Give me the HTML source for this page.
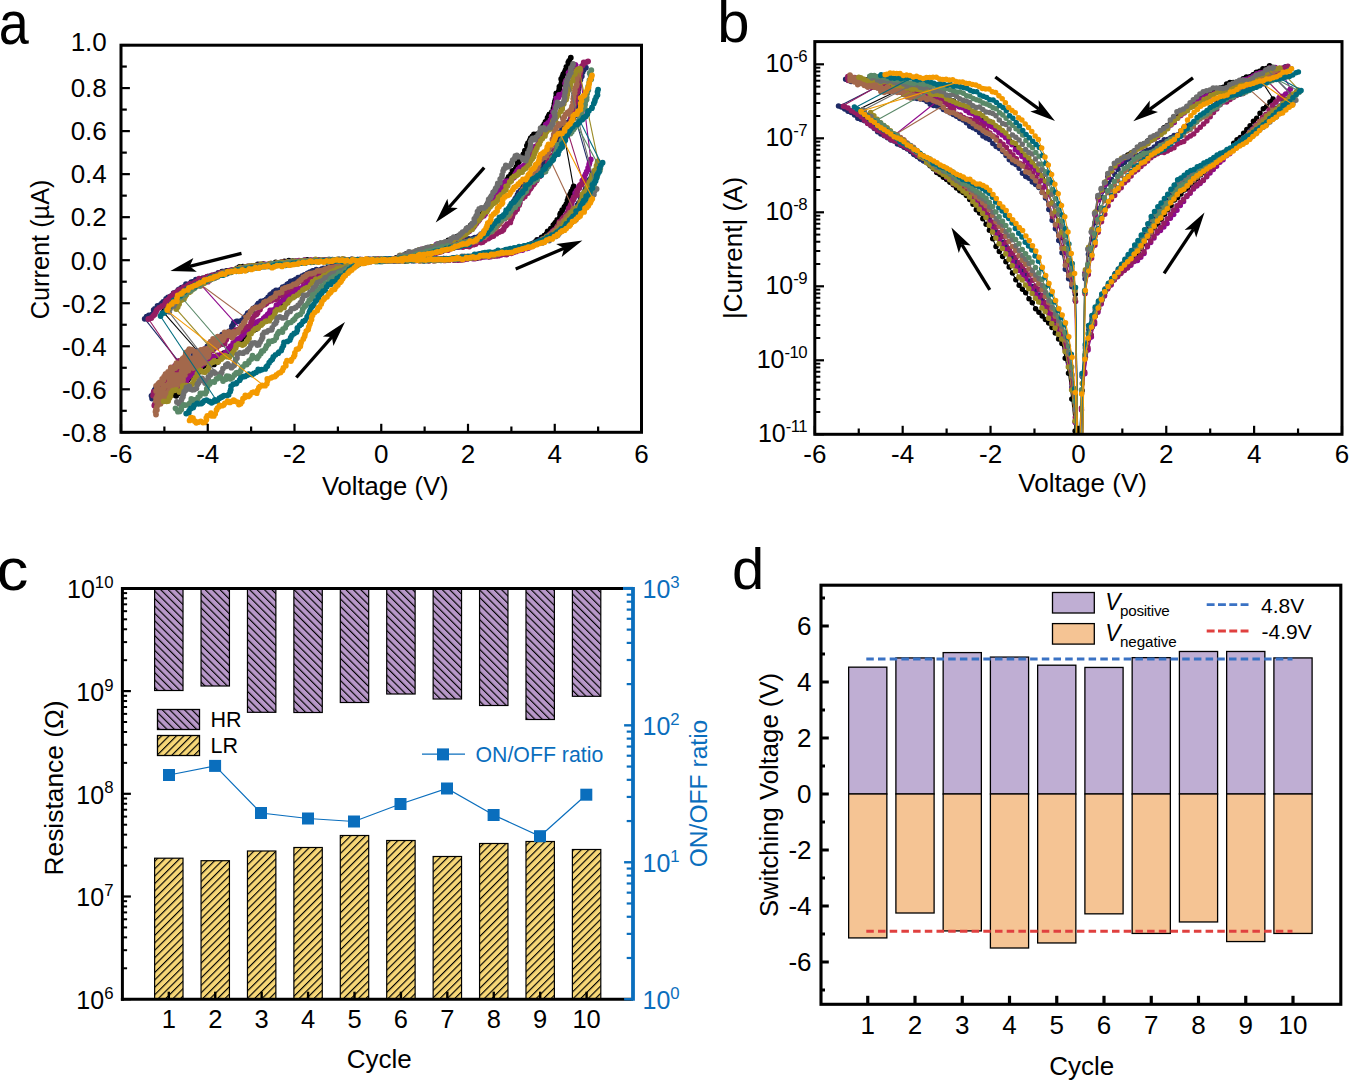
<!DOCTYPE html>
<html><head><meta charset="utf-8"><style>
html,body{margin:0;padding:0;background:#fff;width:1350px;height:1080px;overflow:hidden}
svg{display:block}
text{font-family:"Liberation Sans", sans-serif}
</style></head><body>
<svg width="1350" height="1080" viewBox="0 0 1350 1080">
<rect width="1350" height="1080" fill="#fff"/>
<text x="0" y="0" font-size="58" transform="translate(-1.2 43.6) scale(0.93 1.06)">a</text>
<text x="717.30" y="41.50" font-size="58" text-anchor="start" fill="#000" >b</text>
<text x="0" y="0" font-size="58" transform="translate(-3.5 590) scale(1.1 1.03)">c</text>
<text x="732.00" y="589.00" font-size="58" text-anchor="start" fill="#000" >d</text>
<clipPath id="clipa"><rect x="121.0" y="45.2" width="520.5" height="387.1"/></clipPath>
<g clip-path="url(#clipa)">
<g stroke="#000000" fill="none" stroke-width="1.1"><polyline points="380.4,261.3 383.9,260.2 386.4,260.5 388.1,260.2 390.8,259.7 395.5,260.1 396.9,260.3 399.2,260.7 402.0,260.3 405.5,261.1 408.5,260.0 409.9,260.2 412.3,260.1 415.4,259.1 418.0,259.9 421.2,259.7 423.7,260.7 426.7,260.3 428.0,259.4 430.9,259.9 432.9,259.6 436.8,259.5 439.5,259.4 441.4,259.8 443.4,259.2 447.0,259.3 449.5,259.4 453.3,259.1 454.7,259.4 457.4,258.9 460.5,258.4 461.9,259.5 464.9,257.4 465.8,258.5 469.5,257.6 472.1,256.8 476.5,258.2 477.8,257.4 480.8,256.6 484.0,256.4 485.9,255.8 488.8,256.5 491.1,255.2 493.9,255.3 496.2,254.3 498.8,254.2 501.4,253.1 503.4,253.4 507.9,252.7 509.2,251.5 511.4,250.6 513.8,250.0 516.5,249.6 518.6,248.5 520.4,249.1 523.5,247.1 526.7,245.8 528.6,245.5 531.8,244.4 533.1,243.3 535.7,241.6 537.1,239.9 540.5,239.3 541.6,237.4 544.3,235.7 546.5,234.0 547.6,231.3 549.6,230.6 550.8,228.7 553.3,225.1 554.7,223.7 555.7,222.5 557.2,219.9 559.8,217.7 560.1,214.4 560.5,213.5 562.2,210.2 564.4,207.1 565.2,206.1 566.3,204.2 567.5,200.4 568.3,197.9 569.0,195.9 570.5,193.7 571.4,191.3 572.9,188.7 573.7,186.5"/><polyline points="570.8,57.7 569.1,61.0 568.3,62.4 568.8,64.2 566.4,66.8 565.5,70.1 564.5,72.3 563.3,74.1 562.5,76.5 561.2,78.9 561.7,82.0 561.2,83.9 559.4,86.7 559.3,88.9 558.8,91.2 556.3,93.4 556.1,96.7 555.6,99.1 554.9,101.3 554.4,103.8 554.1,106.3 553.4,108.6 551.9,111.9 549.4,114.3 548.8,115.6 547.6,117.7 546.9,120.7 545.5,122.0 544.2,124.4 542.9,126.3 541.9,128.8 540.5,131.7 539.4,134.0 537.3,134.1 533.9,134.5 532.5,136.1 530.7,138.2 529.8,140.5 528.0,143.1 526.9,145.7 527.4,148.0 524.9,150.7 524.6,152.7 523.3,154.5 521.9,156.9 520.8,159.0 519.0,161.6 517.6,162.9 516.4,166.8 515.8,168.4 513.9,170.8 512.5,171.0 511.0,174.2 508.7,176.9 507.9,178.6 506.7,180.5 505.6,182.6 503.3,184.7 502.1,187.3 500.2,188.0 498.4,191.0 497.5,192.6 495.6,194.2 494.2,197.1 491.4,199.0 490.9,200.6 489.2,203.0 487.2,204.4 487.2,207.6 485.0,210.1 483.8,211.5 481.7,214.1 480.4,217.0 478.4,217.3 476.9,219.4 475.2,221.5 473.6,223.3 470.9,225.2 469.6,227.9 467.6,228.2 465.9,231.3 464.5,232.1 462.6,234.7 460.7,236.0 457.1,236.7 455.9,239.1 452.9,239.4 450.9,240.1 448.3,240.3 446.4,242.5 443.8,243.2 440.3,243.3 438.3,245.0 436.6,245.8 433.8,246.7 430.5,247.5 429.1,248.8 426.9,248.3 424.3,249.2 421.0,250.5 418.6,251.4 416.2,251.4 413.9,253.0 410.9,252.6 409.7,254.5 405.8,254.2 403.3,256.4 401.9,257.0 399.3,257.7 396.3,257.8 393.8,260.3 391.6,259.9 389.2,259.5 387.0,259.3 384.5,260.7 380.5,260.6"/><polyline points="381.6,260.4 379.1,260.2 376.4,260.2 373.7,259.9 370.5,260.5 367.5,260.6 366.0,260.1 363.0,260.7 360.3,260.2 357.6,259.8 354.8,260.2 351.5,259.5 349.3,260.4 346.3,260.2 345.2,260.2 342.6,261.0 339.4,259.6 335.3,261.3 333.7,260.4 332.1,260.5 328.9,260.7 325.9,261.3 322.8,260.8 321.7,260.6 319.2,260.3 315.4,260.3 313.5,260.3 311.0,260.8 307.2,259.8 305.8,261.3 302.0,261.2 299.2,261.5 298.0,261.9 295.2,261.4 292.7,261.1 288.8,260.7 286.5,262.1 284.4,261.3 281.8,262.7 279.4,263.1 275.7,262.4 273.3,264.4 270.2,263.8 268.4,264.6 265.9,265.0 263.2,264.2 259.9,264.6 257.8,264.4 255.5,265.9 252.9,266.0 250.2,266.9 247.6,266.7 245.4,267.3 242.8,266.6 239.6,266.8 237.0,268.3 234.4,269.8 233.3,270.7 228.7,270.8 227.0,270.9 224.1,272.4 222.1,271.7 218.6,273.6 217.7,274.6 214.3,275.4 212.5,276.2 209.8,276.8 207.6,276.6 204.9,278.1 202.4,278.5 200.3,279.8 196.8,281.3 195.8,283.6 193.2,284.8 190.8,285.1 188.4,287.6 186.4,287.2 184.2,289.0 181.8,291.4 181.5,292.8 179.6,295.1 176.7,295.5 175.4,299.1 173.4,301.0 172.2,302.5 168.9,305.4 168.7,305.5 166.1,308.6 164.2,310.8 163.3,312.7"/><polyline points="169.2,392.5 170.9,394.6 173.9,394.8 176.2,395.8 178.3,393.6 179.4,392.4 179.9,389.7 182.2,387.6 182.1,385.3 183.9,383.3 183.9,379.8 187.7,379.7 189.3,378.1 191.0,376.2 192.9,374.4 194.4,373.4 197.0,372.8 198.6,372.0 200.6,368.6 201.9,367.4 203.8,365.7 205.2,364.1 206.7,362.4 209.3,361.3 211.0,362.2 213.9,364.4 216.0,362.4 217.4,362.0 218.5,358.4 220.1,356.7 222.5,355.5 223.9,353.1 226.8,352.8 228.1,351.0 231.5,349.2 232.2,347.2 235.3,346.5 236.4,344.9 238.9,343.1 240.3,341.7 241.5,339.6 244.2,336.6 245.1,335.5 246.6,333.2 249.5,332.3 251.1,331.2 253.8,330.1 255.9,329.0 257.8,327.4 259.5,324.2 260.6,322.6 262.2,320.5 263.8,318.8 266.3,317.6 267.2,315.8 270.6,314.8 271.8,312.4 275.0,311.6 276.2,309.2 278.1,306.9 280.3,305.9 281.3,303.5 283.2,301.1 283.6,299.2 286.5,297.6 289.7,298.3 292.5,296.7 294.9,295.8 296.2,293.7 297.7,291.9 300.3,290.1 301.4,288.6 303.4,287.3 306.7,286.3 307.4,284.1 311.1,282.3 311.8,281.1 314.7,279.6 316.9,278.0 318.1,277.2 322.1,275.6 323.3,273.6 325.8,273.0 328.5,272.1 331.0,271.1 333.4,271.3 334.6,270.2 338.9,268.4 340.3,267.3 342.5,267.4 345.8,266.3 348.0,266.0 350.7,264.5 353.1,263.6 356.7,262.9 357.6,262.5 360.0,261.1 363.2,261.7 365.7,261.5 368.8,260.0 370.6,261.4 373.7,260.9 375.4,261.1 379.1,260.4 380.7,260.3"/><line x1="573.4" y1="186.3" x2="556.9" y2="95.3"/><line x1="163.5" y1="312.4" x2="207.8" y2="362.5"/></g>
<path d="M380.4 261.3h0M383.9 260.2h0M386.4 260.5h0M388.1 260.2h0M390.8 259.7h0M395.5 260.1h0M396.9 260.3h0M399.2 260.7h0M402.0 260.3h0M405.5 261.1h0M408.5 260.0h0M409.9 260.2h0M412.3 260.1h0M415.4 259.1h0M418.0 259.9h0M421.2 259.7h0M423.7 260.7h0M426.7 260.3h0M428.0 259.4h0M430.9 259.9h0M432.9 259.6h0M436.8 259.5h0M439.5 259.4h0M441.4 259.8h0M443.4 259.2h0M447.0 259.3h0M449.5 259.4h0M453.3 259.1h0M454.7 259.4h0M457.4 258.9h0M460.5 258.4h0M461.9 259.5h0M464.9 257.4h0M465.8 258.5h0M469.5 257.6h0M472.1 256.8h0M476.5 258.2h0M477.8 257.4h0M480.8 256.6h0M484.0 256.4h0M485.9 255.8h0M488.8 256.5h0M491.1 255.2h0M493.9 255.3h0M496.2 254.3h0M498.8 254.2h0M501.4 253.1h0M503.4 253.4h0M507.9 252.7h0M509.2 251.5h0M511.4 250.6h0M513.8 250.0h0M516.5 249.6h0M518.6 248.5h0M520.4 249.1h0M523.5 247.1h0M526.7 245.8h0M528.6 245.5h0M531.8 244.4h0M533.1 243.3h0M535.7 241.6h0M537.1 239.9h0M540.5 239.3h0M541.6 237.4h0M544.3 235.7h0M546.5 234.0h0M547.6 231.3h0M549.6 230.6h0M550.8 228.7h0M553.3 225.1h0M554.7 223.7h0M555.7 222.5h0M557.2 219.9h0M559.8 217.7h0M560.1 214.4h0M560.5 213.5h0M562.2 210.2h0M564.4 207.1h0M565.2 206.1h0M566.3 204.2h0M567.5 200.4h0M568.3 197.9h0M569.0 195.9h0M570.5 193.7h0M571.4 191.3h0M572.9 188.7h0M573.7 186.5h0M570.8 57.7h0M569.1 61.0h0M568.3 62.4h0M568.8 64.2h0M566.4 66.8h0M565.5 70.1h0M564.5 72.3h0M563.3 74.1h0M562.5 76.5h0M561.2 78.9h0M561.7 82.0h0M561.2 83.9h0M559.4 86.7h0M559.3 88.9h0M558.8 91.2h0M556.3 93.4h0M556.1 96.7h0M555.6 99.1h0M554.9 101.3h0M554.4 103.8h0M554.1 106.3h0M553.4 108.6h0M551.9 111.9h0M549.4 114.3h0M548.8 115.6h0M547.6 117.7h0M546.9 120.7h0M545.5 122.0h0M544.2 124.4h0M542.9 126.3h0M541.9 128.8h0M540.5 131.7h0M539.4 134.0h0M537.3 134.1h0M533.9 134.5h0M532.5 136.1h0M530.7 138.2h0M529.8 140.5h0M528.0 143.1h0M526.9 145.7h0M527.4 148.0h0M524.9 150.7h0M524.6 152.7h0M523.3 154.5h0M521.9 156.9h0M520.8 159.0h0M519.0 161.6h0M517.6 162.9h0M516.4 166.8h0M515.8 168.4h0M513.9 170.8h0M512.5 171.0h0M511.0 174.2h0M508.7 176.9h0M507.9 178.6h0M506.7 180.5h0M505.6 182.6h0M503.3 184.7h0M502.1 187.3h0M500.2 188.0h0M498.4 191.0h0M497.5 192.6h0M495.6 194.2h0M494.2 197.1h0M491.4 199.0h0M490.9 200.6h0M489.2 203.0h0M487.2 204.4h0M487.2 207.6h0M485.0 210.1h0M483.8 211.5h0M481.7 214.1h0M480.4 217.0h0M478.4 217.3h0M476.9 219.4h0M475.2 221.5h0M473.6 223.3h0M470.9 225.2h0M469.6 227.9h0M467.6 228.2h0M465.9 231.3h0M464.5 232.1h0M462.6 234.7h0M460.7 236.0h0M457.1 236.7h0M455.9 239.1h0M452.9 239.4h0M450.9 240.1h0M448.3 240.3h0M446.4 242.5h0M443.8 243.2h0M440.3 243.3h0M438.3 245.0h0M436.6 245.8h0M433.8 246.7h0M430.5 247.5h0M429.1 248.8h0M426.9 248.3h0M424.3 249.2h0M421.0 250.5h0M418.6 251.4h0M416.2 251.4h0M413.9 253.0h0M410.9 252.6h0M409.7 254.5h0M405.8 254.2h0M403.3 256.4h0M401.9 257.0h0M399.3 257.7h0M396.3 257.8h0M393.8 260.3h0M391.6 259.9h0M389.2 259.5h0M387.0 259.3h0M384.5 260.7h0M380.5 260.6h0M381.6 260.4h0M379.1 260.2h0M376.4 260.2h0M373.7 259.9h0M370.5 260.5h0M367.5 260.6h0M366.0 260.1h0M363.0 260.7h0M360.3 260.2h0M357.6 259.8h0M354.8 260.2h0M351.5 259.5h0M349.3 260.4h0M346.3 260.2h0M345.2 260.2h0M342.6 261.0h0M339.4 259.6h0M335.3 261.3h0M333.7 260.4h0M332.1 260.5h0M328.9 260.7h0M325.9 261.3h0M322.8 260.8h0M321.7 260.6h0M319.2 260.3h0M315.4 260.3h0M313.5 260.3h0M311.0 260.8h0M307.2 259.8h0M305.8 261.3h0M302.0 261.2h0M299.2 261.5h0M298.0 261.9h0M295.2 261.4h0M292.7 261.1h0M288.8 260.7h0M286.5 262.1h0M284.4 261.3h0M281.8 262.7h0M279.4 263.1h0M275.7 262.4h0M273.3 264.4h0M270.2 263.8h0M268.4 264.6h0M265.9 265.0h0M263.2 264.2h0M259.9 264.6h0M257.8 264.4h0M255.5 265.9h0M252.9 266.0h0M250.2 266.9h0M247.6 266.7h0M245.4 267.3h0M242.8 266.6h0M239.6 266.8h0M237.0 268.3h0M234.4 269.8h0M233.3 270.7h0M228.7 270.8h0M227.0 270.9h0M224.1 272.4h0M222.1 271.7h0M218.6 273.6h0M217.7 274.6h0M214.3 275.4h0M212.5 276.2h0M209.8 276.8h0M207.6 276.6h0M204.9 278.1h0M202.4 278.5h0M200.3 279.8h0M196.8 281.3h0M195.8 283.6h0M193.2 284.8h0M190.8 285.1h0M188.4 287.6h0M186.4 287.2h0M184.2 289.0h0M181.8 291.4h0M181.5 292.8h0M179.6 295.1h0M176.7 295.5h0M175.4 299.1h0M173.4 301.0h0M172.2 302.5h0M168.9 305.4h0M168.7 305.5h0M166.1 308.6h0M164.2 310.8h0M163.3 312.7h0M169.2 392.5h0M170.9 394.6h0M173.9 394.8h0M176.2 395.8h0M178.3 393.6h0M179.4 392.4h0M179.9 389.7h0M182.2 387.6h0M182.1 385.3h0M183.9 383.3h0M183.9 379.8h0M187.7 379.7h0M189.3 378.1h0M191.0 376.2h0M192.9 374.4h0M194.4 373.4h0M197.0 372.8h0M198.6 372.0h0M200.6 368.6h0M201.9 367.4h0M203.8 365.7h0M205.2 364.1h0M206.7 362.4h0M209.3 361.3h0M211.0 362.2h0M213.9 364.4h0M216.0 362.4h0M217.4 362.0h0M218.5 358.4h0M220.1 356.7h0M222.5 355.5h0M223.9 353.1h0M226.8 352.8h0M228.1 351.0h0M231.5 349.2h0M232.2 347.2h0M235.3 346.5h0M236.4 344.9h0M238.9 343.1h0M240.3 341.7h0M241.5 339.6h0M244.2 336.6h0M245.1 335.5h0M246.6 333.2h0M249.5 332.3h0M251.1 331.2h0M253.8 330.1h0M255.9 329.0h0M257.8 327.4h0M259.5 324.2h0M260.6 322.6h0M262.2 320.5h0M263.8 318.8h0M266.3 317.6h0M267.2 315.8h0M270.6 314.8h0M271.8 312.4h0M275.0 311.6h0M276.2 309.2h0M278.1 306.9h0M280.3 305.9h0M281.3 303.5h0M283.2 301.1h0M283.6 299.2h0M286.5 297.6h0M289.7 298.3h0M292.5 296.7h0M294.9 295.8h0M296.2 293.7h0M297.7 291.9h0M300.3 290.1h0M301.4 288.6h0M303.4 287.3h0M306.7 286.3h0M307.4 284.1h0M311.1 282.3h0M311.8 281.1h0M314.7 279.6h0M316.9 278.0h0M318.1 277.2h0M322.1 275.6h0M323.3 273.6h0M325.8 273.0h0M328.5 272.1h0M331.0 271.1h0M333.4 271.3h0M334.6 270.2h0M338.9 268.4h0M340.3 267.3h0M342.5 267.4h0M345.8 266.3h0M348.0 266.0h0M350.7 264.5h0M353.1 263.6h0M356.7 262.9h0M357.6 262.5h0M360.0 261.1h0M363.2 261.7h0M365.7 261.5h0M368.8 260.0h0M370.6 261.4h0M373.7 260.9h0M375.4 261.1h0M379.1 260.4h0M380.7 260.3h0" stroke="#000000" stroke-width="5.8" stroke-linecap="round" fill="none"/>
<g stroke="#1E2A66" fill="none" stroke-width="1.1"><polyline points="381.7,259.4 383.4,260.9 386.2,260.1 389.7,259.3 392.2,260.3 394.2,260.9 396.8,260.0 399.1,259.4 402.0,259.4 404.8,259.3 407.2,260.2 409.9,259.4 412.4,260.7 415.0,259.8 417.0,259.5 419.4,258.9 422.7,259.4 425.6,259.4 428.2,259.7 430.9,259.3 432.5,259.1 435.1,260.1 438.7,259.2 441.0,260.3 443.6,258.7 446.1,259.6 447.9,259.8 450.6,259.0 453.9,258.2 456.8,257.8 459.1,259.1 462.4,257.9 465.0,258.5 466.8,257.0 469.7,256.9 472.1,257.0 474.7,256.3 477.9,255.5 479.8,254.0 482.8,254.5 484.5,254.9 487.7,254.2 489.8,252.8 492.3,253.4 495.0,252.9 498.0,253.5 500.2,252.4 503.0,251.4 505.7,250.2 508.0,250.5 510.5,249.2 513.4,249.3 515.5,249.2 518.0,247.8 520.8,247.2 523.1,246.8 525.4,246.2 527.7,245.7 530.5,244.4 533.8,243.1 535.5,242.3 537.6,241.3 539.8,240.0 542.7,238.7 544.7,238.4 546.8,236.1 547.9,235.4 551.7,233.3 552.8,231.8 555.3,230.9 557.0,229.6 559.0,226.9 561.2,225.7 563.7,222.6 564.2,221.8 567.1,219.6 568.6,216.8 570.2,216.2 572.2,212.9 573.0,213.1 573.6,210.2 576.9,207.8 577.4,205.2 578.8,202.9 581.3,201.2 580.6,198.8 582.7,196.1 583.2,194.2 584.6,191.3 585.7,189.0 587.8,186.8 589.2,184.0 589.2,182.5 589.0,180.2 590.6,178.7 592.0,175.0"/><polyline points="585.9,67.7 583.7,69.9 582.7,71.9 581.8,73.8 581.8,76.2 580.4,79.7 579.0,82.1 579.0,84.7 578.7,86.9 578.3,89.2 578.0,92.4 577.4,94.8 577.4,96.5 576.7,99.3 576.2,101.7 575.9,104.5 575.5,107.0 575.2,110.6 575.3,111.5 574.7,115.6 573.3,117.8 570.3,119.7 569.4,121.6 567.9,122.4 565.3,124.2 563.8,124.6 562.7,125.9 562.1,128.7 560.5,132.2 558.8,133.8 559.0,136.9 557.0,139.0 556.7,140.8 554.2,142.0 552.5,144.1 550.7,146.3 550.1,148.8 548.9,150.5 546.8,153.6 545.5,156.3 545.4,158.3 543.8,159.4 542.8,162.7 541.0,164.9 540.2,167.3 539.5,170.2 538.2,172.0 537.1,175.7 536.1,176.9 533.7,179.3 532.4,181.6 530.9,182.2 528.3,181.0 526.8,181.5 524.5,183.9 523.0,186.7 522.5,188.5 520.6,190.5 518.6,192.5 517.5,194.9 515.9,197.9 515.1,199.2 513.5,201.7 512.1,204.8 510.3,206.9 510.0,208.0 508.5,210.7 507.7,213.9 505.1,216.2 503.2,217.4 501.5,219.2 500.8,220.1 498.4,222.9 496.6,225.7 494.6,227.5 492.2,227.6 489.8,228.6 487.2,228.9 485.1,231.2 483.5,232.6 481.1,234.2 479.1,236.1 477.8,237.1 474.7,237.6 472.8,238.7 468.9,238.8 467.0,239.3 464.0,240.4 462.3,240.7 459.6,242.5 456.6,243.6 454.0,244.5 452.3,245.7 450.5,245.1 446.9,245.1 444.4,246.8 441.7,247.0 439.5,248.2 437.0,248.3 434.5,248.5 431.8,247.2 429.2,249.8 426.0,250.5 423.9,251.1 421.2,250.9 420.1,252.6 417.2,253.5 414.8,254.0 412.3,254.1 408.9,255.7 406.2,256.2 404.3,256.9 402.4,257.5 399.8,258.6 397.0,258.7 394.1,259.9 391.2,260.7 389.2,259.5 386.8,260.7 384.8,260.3 381.4,260.2"/><polyline points="382.0,259.9 379.0,260.8 376.0,259.8 374.1,259.6 370.4,259.5 368.3,259.2 366.0,259.6 363.9,260.6 360.4,260.0 357.6,260.5 355.6,261.0 352.2,261.1 349.3,260.1 347.1,259.9 344.7,260.1 343.3,260.0 339.8,259.8 338.6,259.3 334.9,260.7 332.4,259.7 329.7,260.1 326.7,260.0 324.0,259.9 322.4,260.9 318.8,260.2 315.8,260.3 313.6,261.3 310.5,260.5 308.7,261.0 306.0,261.9 303.9,260.3 300.4,261.2 298.4,262.2 295.4,262.6 292.9,262.5 290.4,261.6 288.4,261.7 285.2,262.6 281.3,262.4 280.0,263.6 277.8,264.6 274.5,263.9 271.8,264.5 270.4,264.8 266.6,264.9 263.6,265.4 262.3,265.6 260.3,265.1 257.2,265.4 254.1,266.2 250.6,267.3 248.7,266.7 246.1,267.8 243.4,268.6 240.2,268.7 238.3,268.4 236.1,270.3 231.7,270.1 230.9,270.3 229.0,271.8 226.1,271.1 223.4,271.7 221.1,273.4 218.3,272.9 215.8,274.3 212.8,275.4 210.6,276.2 208.1,276.7 205.8,278.2 203.2,278.6 201.0,279.3 198.5,280.1 195.9,279.7 193.5,281.6 191.3,282.2 189.4,284.1 186.0,284.1 184.5,286.7 181.7,287.7 179.6,289.2 178.3,290.0 176.1,292.4 173.6,293.2 171.8,295.6 169.5,296.9 168.0,297.5 166.1,298.9 163.2,301.8 161.8,303.4 160.4,304.9 157.5,305.9 154.8,309.0 153.7,310.0 153.0,313.8 151.8,314.7 148.8,315.4 146.6,316.7 144.7,318.8"/><polyline points="152.1,398.5 151.5,395.8 153.5,393.3 154.4,390.5 155.5,388.7 157.9,386.5 159.3,385.9 159.8,386.0 162.1,388.0 164.7,387.1 166.2,384.4 166.9,382.4 168.3,379.9 168.6,377.0 170.1,375.3 172.9,373.5 174.3,372.9 176.8,371.4 178.3,369.2 180.4,367.3 182.3,366.0 182.8,364.2 186.9,365.4 188.0,364.3 190.2,361.9 191.7,360.4 192.9,357.1 193.3,354.7 196.1,352.6 196.5,350.9 200.6,353.2 202.2,352.5 203.3,351.2 205.9,348.7 207.3,346.5 208.7,344.7 210.7,343.6 212.6,342.0 214.6,340.3 215.8,339.7 218.3,338.6 220.2,336.8 222.2,334.7 225.1,334.5 227.2,334.5 229.0,331.5 231.8,329.2 231.9,326.3 233.0,324.9 233.8,322.7 236.6,321.4 237.8,321.4 241.8,320.3 243.8,319.9 244.2,317.4 246.1,316.0 247.7,313.1 250.3,311.6 252.3,310.9 253.3,308.3 255.9,307.0 257.3,305.0 258.4,303.4 261.0,301.3 264.3,300.6 266.3,299.4 268.1,297.3 270.1,295.0 271.6,293.9 273.7,292.0 275.9,290.3 277.6,290.6 280.8,289.4 282.7,287.1 284.7,286.4 287.2,284.3 288.5,283.6 290.7,281.5 293.6,280.7 295.7,279.4 298.2,277.7 301.5,277.0 302.1,276.1 304.6,274.9 307.5,273.4 310.0,272.1 312.7,271.0 314.3,270.7 316.3,269.7 319.5,270.2 322.1,269.0 323.7,268.5 327.9,267.4 329.7,267.1 331.9,265.8 334.9,265.5 337.4,265.3 340.0,265.3 342.1,264.2 345.0,263.6 347.7,262.9 349.9,262.8 352.0,262.4 355.5,262.0 358.3,261.5 360.5,261.4 364.1,261.2 365.4,260.3 368.3,260.4 371.4,261.1 373.3,259.5 376.1,260.5 379.0,259.6 380.6,259.8"/><line x1="591.6" y1="175.3" x2="574.3" y2="114.2"/><line x1="144.4" y1="318.3" x2="181.7" y2="365.3"/></g>
<path d="M381.7 259.4h0M383.4 260.9h0M386.2 260.1h0M389.7 259.3h0M392.2 260.3h0M394.2 260.9h0M396.8 260.0h0M399.1 259.4h0M402.0 259.4h0M404.8 259.3h0M407.2 260.2h0M409.9 259.4h0M412.4 260.7h0M415.0 259.8h0M417.0 259.5h0M419.4 258.9h0M422.7 259.4h0M425.6 259.4h0M428.2 259.7h0M430.9 259.3h0M432.5 259.1h0M435.1 260.1h0M438.7 259.2h0M441.0 260.3h0M443.6 258.7h0M446.1 259.6h0M447.9 259.8h0M450.6 259.0h0M453.9 258.2h0M456.8 257.8h0M459.1 259.1h0M462.4 257.9h0M465.0 258.5h0M466.8 257.0h0M469.7 256.9h0M472.1 257.0h0M474.7 256.3h0M477.9 255.5h0M479.8 254.0h0M482.8 254.5h0M484.5 254.9h0M487.7 254.2h0M489.8 252.8h0M492.3 253.4h0M495.0 252.9h0M498.0 253.5h0M500.2 252.4h0M503.0 251.4h0M505.7 250.2h0M508.0 250.5h0M510.5 249.2h0M513.4 249.3h0M515.5 249.2h0M518.0 247.8h0M520.8 247.2h0M523.1 246.8h0M525.4 246.2h0M527.7 245.7h0M530.5 244.4h0M533.8 243.1h0M535.5 242.3h0M537.6 241.3h0M539.8 240.0h0M542.7 238.7h0M544.7 238.4h0M546.8 236.1h0M547.9 235.4h0M551.7 233.3h0M552.8 231.8h0M555.3 230.9h0M557.0 229.6h0M559.0 226.9h0M561.2 225.7h0M563.7 222.6h0M564.2 221.8h0M567.1 219.6h0M568.6 216.8h0M570.2 216.2h0M572.2 212.9h0M573.0 213.1h0M573.6 210.2h0M576.9 207.8h0M577.4 205.2h0M578.8 202.9h0M581.3 201.2h0M580.6 198.8h0M582.7 196.1h0M583.2 194.2h0M584.6 191.3h0M585.7 189.0h0M587.8 186.8h0M589.2 184.0h0M589.2 182.5h0M589.0 180.2h0M590.6 178.7h0M592.0 175.0h0M585.9 67.7h0M583.7 69.9h0M582.7 71.9h0M581.8 73.8h0M581.8 76.2h0M580.4 79.7h0M579.0 82.1h0M579.0 84.7h0M578.7 86.9h0M578.3 89.2h0M578.0 92.4h0M577.4 94.8h0M577.4 96.5h0M576.7 99.3h0M576.2 101.7h0M575.9 104.5h0M575.5 107.0h0M575.2 110.6h0M575.3 111.5h0M574.7 115.6h0M573.3 117.8h0M570.3 119.7h0M569.4 121.6h0M567.9 122.4h0M565.3 124.2h0M563.8 124.6h0M562.7 125.9h0M562.1 128.7h0M560.5 132.2h0M558.8 133.8h0M559.0 136.9h0M557.0 139.0h0M556.7 140.8h0M554.2 142.0h0M552.5 144.1h0M550.7 146.3h0M550.1 148.8h0M548.9 150.5h0M546.8 153.6h0M545.5 156.3h0M545.4 158.3h0M543.8 159.4h0M542.8 162.7h0M541.0 164.9h0M540.2 167.3h0M539.5 170.2h0M538.2 172.0h0M537.1 175.7h0M536.1 176.9h0M533.7 179.3h0M532.4 181.6h0M530.9 182.2h0M528.3 181.0h0M526.8 181.5h0M524.5 183.9h0M523.0 186.7h0M522.5 188.5h0M520.6 190.5h0M518.6 192.5h0M517.5 194.9h0M515.9 197.9h0M515.1 199.2h0M513.5 201.7h0M512.1 204.8h0M510.3 206.9h0M510.0 208.0h0M508.5 210.7h0M507.7 213.9h0M505.1 216.2h0M503.2 217.4h0M501.5 219.2h0M500.8 220.1h0M498.4 222.9h0M496.6 225.7h0M494.6 227.5h0M492.2 227.6h0M489.8 228.6h0M487.2 228.9h0M485.1 231.2h0M483.5 232.6h0M481.1 234.2h0M479.1 236.1h0M477.8 237.1h0M474.7 237.6h0M472.8 238.7h0M468.9 238.8h0M467.0 239.3h0M464.0 240.4h0M462.3 240.7h0M459.6 242.5h0M456.6 243.6h0M454.0 244.5h0M452.3 245.7h0M450.5 245.1h0M446.9 245.1h0M444.4 246.8h0M441.7 247.0h0M439.5 248.2h0M437.0 248.3h0M434.5 248.5h0M431.8 247.2h0M429.2 249.8h0M426.0 250.5h0M423.9 251.1h0M421.2 250.9h0M420.1 252.6h0M417.2 253.5h0M414.8 254.0h0M412.3 254.1h0M408.9 255.7h0M406.2 256.2h0M404.3 256.9h0M402.4 257.5h0M399.8 258.6h0M397.0 258.7h0M394.1 259.9h0M391.2 260.7h0M389.2 259.5h0M386.8 260.7h0M384.8 260.3h0M381.4 260.2h0M382.0 259.9h0M379.0 260.8h0M376.0 259.8h0M374.1 259.6h0M370.4 259.5h0M368.3 259.2h0M366.0 259.6h0M363.9 260.6h0M360.4 260.0h0M357.6 260.5h0M355.6 261.0h0M352.2 261.1h0M349.3 260.1h0M347.1 259.9h0M344.7 260.1h0M343.3 260.0h0M339.8 259.8h0M338.6 259.3h0M334.9 260.7h0M332.4 259.7h0M329.7 260.1h0M326.7 260.0h0M324.0 259.9h0M322.4 260.9h0M318.8 260.2h0M315.8 260.3h0M313.6 261.3h0M310.5 260.5h0M308.7 261.0h0M306.0 261.9h0M303.9 260.3h0M300.4 261.2h0M298.4 262.2h0M295.4 262.6h0M292.9 262.5h0M290.4 261.6h0M288.4 261.7h0M285.2 262.6h0M281.3 262.4h0M280.0 263.6h0M277.8 264.6h0M274.5 263.9h0M271.8 264.5h0M270.4 264.8h0M266.6 264.9h0M263.6 265.4h0M262.3 265.6h0M260.3 265.1h0M257.2 265.4h0M254.1 266.2h0M250.6 267.3h0M248.7 266.7h0M246.1 267.8h0M243.4 268.6h0M240.2 268.7h0M238.3 268.4h0M236.1 270.3h0M231.7 270.1h0M230.9 270.3h0M229.0 271.8h0M226.1 271.1h0M223.4 271.7h0M221.1 273.4h0M218.3 272.9h0M215.8 274.3h0M212.8 275.4h0M210.6 276.2h0M208.1 276.7h0M205.8 278.2h0M203.2 278.6h0M201.0 279.3h0M198.5 280.1h0M195.9 279.7h0M193.5 281.6h0M191.3 282.2h0M189.4 284.1h0M186.0 284.1h0M184.5 286.7h0M181.7 287.7h0M179.6 289.2h0M178.3 290.0h0M176.1 292.4h0M173.6 293.2h0M171.8 295.6h0M169.5 296.9h0M168.0 297.5h0M166.1 298.9h0M163.2 301.8h0M161.8 303.4h0M160.4 304.9h0M157.5 305.9h0M154.8 309.0h0M153.7 310.0h0M153.0 313.8h0M151.8 314.7h0M148.8 315.4h0M146.6 316.7h0M144.7 318.8h0M152.1 398.5h0M151.5 395.8h0M153.5 393.3h0M154.4 390.5h0M155.5 388.7h0M157.9 386.5h0M159.3 385.9h0M159.8 386.0h0M162.1 388.0h0M164.7 387.1h0M166.2 384.4h0M166.9 382.4h0M168.3 379.9h0M168.6 377.0h0M170.1 375.3h0M172.9 373.5h0M174.3 372.9h0M176.8 371.4h0M178.3 369.2h0M180.4 367.3h0M182.3 366.0h0M182.8 364.2h0M186.9 365.4h0M188.0 364.3h0M190.2 361.9h0M191.7 360.4h0M192.9 357.1h0M193.3 354.7h0M196.1 352.6h0M196.5 350.9h0M200.6 353.2h0M202.2 352.5h0M203.3 351.2h0M205.9 348.7h0M207.3 346.5h0M208.7 344.7h0M210.7 343.6h0M212.6 342.0h0M214.6 340.3h0M215.8 339.7h0M218.3 338.6h0M220.2 336.8h0M222.2 334.7h0M225.1 334.5h0M227.2 334.5h0M229.0 331.5h0M231.8 329.2h0M231.9 326.3h0M233.0 324.9h0M233.8 322.7h0M236.6 321.4h0M237.8 321.4h0M241.8 320.3h0M243.8 319.9h0M244.2 317.4h0M246.1 316.0h0M247.7 313.1h0M250.3 311.6h0M252.3 310.9h0M253.3 308.3h0M255.9 307.0h0M257.3 305.0h0M258.4 303.4h0M261.0 301.3h0M264.3 300.6h0M266.3 299.4h0M268.1 297.3h0M270.1 295.0h0M271.6 293.9h0M273.7 292.0h0M275.9 290.3h0M277.6 290.6h0M280.8 289.4h0M282.7 287.1h0M284.7 286.4h0M287.2 284.3h0M288.5 283.6h0M290.7 281.5h0M293.6 280.7h0M295.7 279.4h0M298.2 277.7h0M301.5 277.0h0M302.1 276.1h0M304.6 274.9h0M307.5 273.4h0M310.0 272.1h0M312.7 271.0h0M314.3 270.7h0M316.3 269.7h0M319.5 270.2h0M322.1 269.0h0M323.7 268.5h0M327.9 267.4h0M329.7 267.1h0M331.9 265.8h0M334.9 265.5h0M337.4 265.3h0M340.0 265.3h0M342.1 264.2h0M345.0 263.6h0M347.7 262.9h0M349.9 262.8h0M352.0 262.4h0M355.5 262.0h0M358.3 261.5h0M360.5 261.4h0M364.1 261.2h0M365.4 260.3h0M368.3 260.4h0M371.4 261.1h0M373.3 259.5h0M376.1 260.5h0M379.0 259.6h0M380.6 259.8h0" stroke="#1E2A66" stroke-width="5.8" stroke-linecap="round" fill="none"/>
<g stroke="#8E0A8C" fill="none" stroke-width="1.1"><polyline points="381.6,259.6 383.7,260.8 385.9,260.2 389.5,260.3 392.6,260.2 393.9,260.2 396.6,260.1 399.9,260.4 401.8,260.1 405.6,259.1 407.1,260.2 409.6,260.1 412.4,259.5 415.7,260.4 417.7,259.7 420.5,259.3 423.1,259.0 425.8,259.7 427.9,259.6 430.9,259.5 434.3,260.4 436.3,259.3 438.9,259.6 441.1,259.4 444.7,260.4 446.3,260.2 449.5,259.7 452.4,258.4 454.3,258.5 457.6,260.0 459.9,259.4 461.6,259.4 463.9,259.6 467.1,258.9 469.8,258.2 472.9,258.6 475.1,258.6 477.4,257.5 480.2,257.6 482.9,256.6 485.7,256.7 488.7,256.5 491.0,256.6 493.0,256.2 496.0,255.7 498.4,255.7 500.7,254.9 504.6,254.3 506.3,253.6 508.6,253.3 511.4,253.4 513.3,252.4 516.2,251.4 518.8,250.4 521.0,249.7 522.5,250.1 526.4,248.4 528.3,247.9 530.8,246.6 533.6,245.4 535.9,243.9 537.5,243.5 539.8,242.4 543.6,241.0 544.7,239.8 547.1,238.4 549.0,235.9 551.2,235.1 552.3,231.7 554.2,230.1 556.3,228.9 557.4,227.2 559.3,224.0 561.1,222.6 561.8,221.2 563.9,219.2 565.2,215.8 566.7,214.2 567.6,212.5 568.7,208.4 570.5,206.9 571.0,205.2 571.6,203.3 572.6,200.0 574.1,197.7 575.2,194.9 575.2,193.1 576.5,191.0 578.6,188.0 579.2,186.1 581.7,183.8 582.3,180.6 583.9,178.6 584.4,176.7 585.6,174.1 586.7,171.6 588.2,169.6 588.1,167.9 589.1,164.4 589.6,162.6 590.8,159.4"/><polyline points="575.4,65.0 573.6,66.6 573.2,68.3 571.9,69.0 570.3,70.7 568.5,72.8 568.7,76.0 567.9,77.9 565.9,80.8 565.1,83.4 565.8,86.2 565.3,88.5 564.6,90.8 563.6,92.8 561.5,94.4 559.0,94.9 558.6,97.3 556.4,98.3 556.0,101.9 555.9,103.7 555.0,106.5 554.9,109.0 552.9,111.9 553.2,114.0 551.6,116.2 550.4,120.2 549.3,122.4 548.0,123.0 545.8,124.6 545.2,127.7 543.6,129.2 542.4,132.0 540.7,134.9 540.9,136.6 540.3,138.9 539.1,141.4 538.1,144.2 535.5,146.3 535.9,147.9 533.8,149.4 531.8,151.9 530.4,154.4 529.1,156.0 528.4,158.7 527.1,161.7 526.1,162.6 523.8,165.7 522.3,166.9 520.1,167.4 518.4,169.2 517.0,171.1 515.4,173.9 514.1,177.2 513.0,178.1 511.2,179.9 507.7,181.2 505.7,181.4 504.0,182.8 503.5,184.8 501.9,187.9 500.9,189.6 499.2,191.9 497.3,193.7 495.6,195.6 494.3,197.2 492.0,200.7 491.5,202.8 490.3,205.1 489.1,206.2 487.7,209.8 486.0,211.2 485.2,214.1 483.8,215.8 481.5,217.0 479.3,219.8 478.3,221.0 476.5,223.2 474.9,225.2 473.7,226.9 470.5,228.7 469.2,231.3 466.5,231.3 465.7,233.2 463.0,236.2 459.9,235.7 458.7,237.9 456.9,238.5 453.6,240.6 452.0,241.1 448.8,242.8 446.9,242.8 444.2,244.2 441.8,245.8 439.6,245.2 436.6,244.5 435.4,247.4 431.3,248.4 429.9,248.0 426.8,248.1 424.8,249.7 421.5,249.5 419.6,250.7 416.6,252.8 413.8,252.6 411.1,252.8 409.6,254.9 407.2,255.3 403.7,255.8 400.8,255.8 399.3,258.2 396.1,258.7 394.2,259.9 391.6,259.4 388.8,260.4 386.6,259.2 383.2,260.8 380.9,259.8"/><polyline points="380.8,260.4 379.3,259.7 375.6,260.7 373.9,259.4 370.5,260.9 368.0,260.8 364.6,260.4 362.2,260.6 360.2,259.7 357.5,260.9 354.4,260.0 352.3,259.7 350.1,260.3 346.1,259.8 344.0,259.5 342.1,261.9 338.6,260.4 336.0,261.5 334.5,261.1 330.7,260.4 328.4,260.0 326.5,260.0 323.6,260.1 321.6,260.8 318.7,260.4 315.6,260.1 312.3,261.3 311.0,260.1 306.8,261.5 304.9,260.5 301.9,260.8 299.0,260.7 296.0,261.1 294.4,262.3 291.5,262.0 289.2,263.0 286.4,262.7 284.5,263.0 281.5,262.2 279.2,263.9 276.3,263.2 273.8,264.1 270.7,264.8 268.7,264.9 265.2,264.5 263.6,264.4 259.8,265.2 257.3,265.6 255.0,266.2 252.2,266.2 251.2,266.6 246.9,267.3 244.3,267.5 242.4,268.2 238.8,269.2 237.2,269.2 234.7,270.7 232.1,270.1 229.9,271.3 226.9,273.4 224.9,272.7 221.9,273.6 219.7,275.0 216.4,276.4 214.2,276.7 211.5,278.4 209.2,279.8 207.9,281.7 204.4,282.2 202.6,283.5 201.1,284.6"/><polyline points="164.9,393.7 165.8,392.1 168.5,392.0 170.0,390.5 172.5,389.6 175.2,388.7 176.8,387.2 178.2,387.1 180.5,386.9 184.2,385.6 185.6,383.1 186.3,382.1 187.5,378.4 188.3,377.6 189.7,375.7 192.2,374.4 193.3,371.2 196.2,369.3 198.1,368.2 200.2,366.9 201.6,365.1 203.3,363.8 206.1,361.9 207.3,361.7 208.9,359.6 210.5,358.7 213.1,356.7 217.1,355.4 219.2,355.1 221.3,354.5 223.5,355.4 225.6,352.4 227.6,350.8 228.5,348.5 230.7,346.2 232.2,345.4 233.2,342.9 235.7,341.0 237.4,339.2 240.0,338.2 241.5,336.3 242.9,335.0 244.4,332.9 246.6,331.2 249.0,328.8 251.0,327.0 251.8,325.5 254.3,323.4 257.2,321.8 259.2,321.2 261.0,320.9 263.9,318.2 265.3,317.0 267.5,314.6 269.0,313.3 270.2,310.4 272.7,310.1 276.1,307.5 276.5,305.2 278.5,304.4 280.0,302.1 282.7,300.9 284.1,298.2 285.8,296.9 287.2,295.7 289.6,293.5 292.2,292.5 295.0,290.9 296.5,289.6 299.0,288.7 301.3,288.1 303.3,286.4 306.1,284.7 308.3,282.4 309.7,281.1 312.2,279.5 315.0,278.0 316.7,277.4 319.6,275.7 320.3,274.1 322.8,273.9 325.3,272.8 328.1,271.7 330.7,270.6 333.8,269.5 335.8,268.7 337.5,267.9 340.7,267.7 343.8,267.3 346.0,265.5 348.6,266.4 350.7,264.4 353.2,263.9 354.7,262.7 358.5,262.5 359.6,261.7 363.2,261.8 364.3,262.0 367.1,261.5 371.1,259.8 373.8,259.9 376.0,259.7 378.2,258.9 381.0,259.9"/><line x1="590.8" y1="159.6" x2="579.0" y2="64.1"/><line x1="200.8" y1="284.6" x2="244.6" y2="333.3"/></g>
<path d="M381.6 259.6h0M383.7 260.8h0M385.9 260.2h0M389.5 260.3h0M392.6 260.2h0M393.9 260.2h0M396.6 260.1h0M399.9 260.4h0M401.8 260.1h0M405.6 259.1h0M407.1 260.2h0M409.6 260.1h0M412.4 259.5h0M415.7 260.4h0M417.7 259.7h0M420.5 259.3h0M423.1 259.0h0M425.8 259.7h0M427.9 259.6h0M430.9 259.5h0M434.3 260.4h0M436.3 259.3h0M438.9 259.6h0M441.1 259.4h0M444.7 260.4h0M446.3 260.2h0M449.5 259.7h0M452.4 258.4h0M454.3 258.5h0M457.6 260.0h0M459.9 259.4h0M461.6 259.4h0M463.9 259.6h0M467.1 258.9h0M469.8 258.2h0M472.9 258.6h0M475.1 258.6h0M477.4 257.5h0M480.2 257.6h0M482.9 256.6h0M485.7 256.7h0M488.7 256.5h0M491.0 256.6h0M493.0 256.2h0M496.0 255.7h0M498.4 255.7h0M500.7 254.9h0M504.6 254.3h0M506.3 253.6h0M508.6 253.3h0M511.4 253.4h0M513.3 252.4h0M516.2 251.4h0M518.8 250.4h0M521.0 249.7h0M522.5 250.1h0M526.4 248.4h0M528.3 247.9h0M530.8 246.6h0M533.6 245.4h0M535.9 243.9h0M537.5 243.5h0M539.8 242.4h0M543.6 241.0h0M544.7 239.8h0M547.1 238.4h0M549.0 235.9h0M551.2 235.1h0M552.3 231.7h0M554.2 230.1h0M556.3 228.9h0M557.4 227.2h0M559.3 224.0h0M561.1 222.6h0M561.8 221.2h0M563.9 219.2h0M565.2 215.8h0M566.7 214.2h0M567.6 212.5h0M568.7 208.4h0M570.5 206.9h0M571.0 205.2h0M571.6 203.3h0M572.6 200.0h0M574.1 197.7h0M575.2 194.9h0M575.2 193.1h0M576.5 191.0h0M578.6 188.0h0M579.2 186.1h0M581.7 183.8h0M582.3 180.6h0M583.9 178.6h0M584.4 176.7h0M585.6 174.1h0M586.7 171.6h0M588.2 169.6h0M588.1 167.9h0M589.1 164.4h0M589.6 162.6h0M590.8 159.4h0M575.4 65.0h0M573.6 66.6h0M573.2 68.3h0M571.9 69.0h0M570.3 70.7h0M568.5 72.8h0M568.7 76.0h0M567.9 77.9h0M565.9 80.8h0M565.1 83.4h0M565.8 86.2h0M565.3 88.5h0M564.6 90.8h0M563.6 92.8h0M561.5 94.4h0M559.0 94.9h0M558.6 97.3h0M556.4 98.3h0M556.0 101.9h0M555.9 103.7h0M555.0 106.5h0M554.9 109.0h0M552.9 111.9h0M553.2 114.0h0M551.6 116.2h0M550.4 120.2h0M549.3 122.4h0M548.0 123.0h0M545.8 124.6h0M545.2 127.7h0M543.6 129.2h0M542.4 132.0h0M540.7 134.9h0M540.9 136.6h0M540.3 138.9h0M539.1 141.4h0M538.1 144.2h0M535.5 146.3h0M535.9 147.9h0M533.8 149.4h0M531.8 151.9h0M530.4 154.4h0M529.1 156.0h0M528.4 158.7h0M527.1 161.7h0M526.1 162.6h0M523.8 165.7h0M522.3 166.9h0M520.1 167.4h0M518.4 169.2h0M517.0 171.1h0M515.4 173.9h0M514.1 177.2h0M513.0 178.1h0M511.2 179.9h0M507.7 181.2h0M505.7 181.4h0M504.0 182.8h0M503.5 184.8h0M501.9 187.9h0M500.9 189.6h0M499.2 191.9h0M497.3 193.7h0M495.6 195.6h0M494.3 197.2h0M492.0 200.7h0M491.5 202.8h0M490.3 205.1h0M489.1 206.2h0M487.7 209.8h0M486.0 211.2h0M485.2 214.1h0M483.8 215.8h0M481.5 217.0h0M479.3 219.8h0M478.3 221.0h0M476.5 223.2h0M474.9 225.2h0M473.7 226.9h0M470.5 228.7h0M469.2 231.3h0M466.5 231.3h0M465.7 233.2h0M463.0 236.2h0M459.9 235.7h0M458.7 237.9h0M456.9 238.5h0M453.6 240.6h0M452.0 241.1h0M448.8 242.8h0M446.9 242.8h0M444.2 244.2h0M441.8 245.8h0M439.6 245.2h0M436.6 244.5h0M435.4 247.4h0M431.3 248.4h0M429.9 248.0h0M426.8 248.1h0M424.8 249.7h0M421.5 249.5h0M419.6 250.7h0M416.6 252.8h0M413.8 252.6h0M411.1 252.8h0M409.6 254.9h0M407.2 255.3h0M403.7 255.8h0M400.8 255.8h0M399.3 258.2h0M396.1 258.7h0M394.2 259.9h0M391.6 259.4h0M388.8 260.4h0M386.6 259.2h0M383.2 260.8h0M380.9 259.8h0M380.8 260.4h0M379.3 259.7h0M375.6 260.7h0M373.9 259.4h0M370.5 260.9h0M368.0 260.8h0M364.6 260.4h0M362.2 260.6h0M360.2 259.7h0M357.5 260.9h0M354.4 260.0h0M352.3 259.7h0M350.1 260.3h0M346.1 259.8h0M344.0 259.5h0M342.1 261.9h0M338.6 260.4h0M336.0 261.5h0M334.5 261.1h0M330.7 260.4h0M328.4 260.0h0M326.5 260.0h0M323.6 260.1h0M321.6 260.8h0M318.7 260.4h0M315.6 260.1h0M312.3 261.3h0M311.0 260.1h0M306.8 261.5h0M304.9 260.5h0M301.9 260.8h0M299.0 260.7h0M296.0 261.1h0M294.4 262.3h0M291.5 262.0h0M289.2 263.0h0M286.4 262.7h0M284.5 263.0h0M281.5 262.2h0M279.2 263.9h0M276.3 263.2h0M273.8 264.1h0M270.7 264.8h0M268.7 264.9h0M265.2 264.5h0M263.6 264.4h0M259.8 265.2h0M257.3 265.6h0M255.0 266.2h0M252.2 266.2h0M251.2 266.6h0M246.9 267.3h0M244.3 267.5h0M242.4 268.2h0M238.8 269.2h0M237.2 269.2h0M234.7 270.7h0M232.1 270.1h0M229.9 271.3h0M226.9 273.4h0M224.9 272.7h0M221.9 273.6h0M219.7 275.0h0M216.4 276.4h0M214.2 276.7h0M211.5 278.4h0M209.2 279.8h0M207.9 281.7h0M204.4 282.2h0M202.6 283.5h0M201.1 284.6h0M164.9 393.7h0M165.8 392.1h0M168.5 392.0h0M170.0 390.5h0M172.5 389.6h0M175.2 388.7h0M176.8 387.2h0M178.2 387.1h0M180.5 386.9h0M184.2 385.6h0M185.6 383.1h0M186.3 382.1h0M187.5 378.4h0M188.3 377.6h0M189.7 375.7h0M192.2 374.4h0M193.3 371.2h0M196.2 369.3h0M198.1 368.2h0M200.2 366.9h0M201.6 365.1h0M203.3 363.8h0M206.1 361.9h0M207.3 361.7h0M208.9 359.6h0M210.5 358.7h0M213.1 356.7h0M217.1 355.4h0M219.2 355.1h0M221.3 354.5h0M223.5 355.4h0M225.6 352.4h0M227.6 350.8h0M228.5 348.5h0M230.7 346.2h0M232.2 345.4h0M233.2 342.9h0M235.7 341.0h0M237.4 339.2h0M240.0 338.2h0M241.5 336.3h0M242.9 335.0h0M244.4 332.9h0M246.6 331.2h0M249.0 328.8h0M251.0 327.0h0M251.8 325.5h0M254.3 323.4h0M257.2 321.8h0M259.2 321.2h0M261.0 320.9h0M263.9 318.2h0M265.3 317.0h0M267.5 314.6h0M269.0 313.3h0M270.2 310.4h0M272.7 310.1h0M276.1 307.5h0M276.5 305.2h0M278.5 304.4h0M280.0 302.1h0M282.7 300.9h0M284.1 298.2h0M285.8 296.9h0M287.2 295.7h0M289.6 293.5h0M292.2 292.5h0M295.0 290.9h0M296.5 289.6h0M299.0 288.7h0M301.3 288.1h0M303.3 286.4h0M306.1 284.7h0M308.3 282.4h0M309.7 281.1h0M312.2 279.5h0M315.0 278.0h0M316.7 277.4h0M319.6 275.7h0M320.3 274.1h0M322.8 273.9h0M325.3 272.8h0M328.1 271.7h0M330.7 270.6h0M333.8 269.5h0M335.8 268.7h0M337.5 267.9h0M340.7 267.7h0M343.8 267.3h0M346.0 265.5h0M348.6 266.4h0M350.7 264.4h0M353.2 263.9h0M354.7 262.7h0M358.5 262.5h0M359.6 261.7h0M363.2 261.8h0M364.3 262.0h0M367.1 261.5h0M371.1 259.8h0M373.8 259.9h0M376.0 259.7h0M378.2 258.9h0M381.0 259.9h0" stroke="#8E0A8C" stroke-width="5.8" stroke-linecap="round" fill="none"/>
<g stroke="#941C62" fill="none" stroke-width="1.1"><polyline points="381.1,261.1 384.4,259.8 386.4,260.0 388.5,260.7 391.7,259.3 394.5,259.2 397.7,260.0 399.3,259.4 401.5,259.7 404.7,260.1 405.9,260.4 409.3,259.8 412.9,259.8 415.4,260.2 417.8,259.0 420.7,259.4 423.2,259.8 425.2,260.0 428.9,260.8 430.7,259.3 433.5,260.5 435.5,260.0 438.6,259.6 441.7,259.4 443.7,258.7 446.2,258.6 449.4,259.8 452.1,258.9 454.3,260.2 456.5,258.6 459.3,259.9 461.8,259.3 464.5,257.9 466.5,258.3 469.3,257.9 471.5,257.3 475.4,258.1 478.2,257.2 480.3,257.4 482.8,256.6 485.2,256.0 489.1,256.0 491.0,255.5 492.7,255.1 496.2,255.7 498.6,254.8 500.2,254.1 504.1,254.0 506.6,254.5 508.4,252.8 511.0,253.0 513.3,251.5 515.7,251.3 517.3,250.1 520.4,248.9 523.5,248.6 525.0,247.1 529.0,247.1 530.1,245.8 533.5,245.3 534.8,243.9 537.8,242.7 540.3,242.3 541.8,241.3 544.8,239.8 546.6,236.9 548.6,236.5 550.4,234.0 552.7,232.7 554.1,230.5 556.6,228.2 557.4,226.4 559.4,223.6 559.5,222.0 562.1,219.5 563.2,217.9 565.8,215.7 566.8,214.4 568.6,212.3 569.0,209.1 570.0,207.1 570.6,205.1 571.8,201.6 573.3,199.8 573.6,197.5 577.2,195.0 577.1,192.5 577.7,190.1 579.3,188.0 580.3,184.8 581.8,184.5 584.0,181.6"/><polyline points="588.1,61.3 586.7,62.1 584.7,63.1 583.7,62.5 582.7,65.3 580.7,68.8 580.7,70.5 580.3,73.3 579.8,76.7 579.4,79.1 579.2,81.6 577.8,84.1 577.8,85.7 577.7,88.2 577.4,91.9 576.1,93.6 575.7,96.9 575.2,99.7 575.3,101.2 574.4,104.5 573.9,106.3 573.6,110.1 572.5,112.5 572.3,112.9 571.3,116.7 570.9,118.9 570.2,123.0 569.5,124.9 568.8,126.5 567.6,129.1 565.7,131.4 566.9,134.4 565.9,136.7 564.6,138.4 563.4,141.9 562.2,143.4 561.2,146.5 559.0,147.8 556.8,147.7 555.8,149.4 554.6,151.7 553.0,155.3 551.8,156.2 550.4,158.9 548.9,160.6 547.8,162.9 547.4,166.0 545.9,167.4 544.8,171.6 542.3,172.5 541.5,174.1 539.8,176.3 536.9,178.2 536.6,180.5 534.6,182.9 533.4,184.4 531.4,187.0 530.5,188.4 528.8,190.5 527.8,193.0 524.6,193.1 524.8,196.6 522.6,198.2 519.9,200.6 519.9,202.7 519.2,204.9 517.4,207.4 517.2,209.2 515.1,212.1 512.8,214.8 512.2,217.0 511.1,219.3 510.3,222.4 507.1,224.2 506.0,225.6 504.4,227.2 503.4,229.7 501.9,231.0 499.2,232.0 496.4,233.7 494.8,234.1 493.4,236.1 490.2,237.2 488.4,238.6 484.9,240.3 482.8,242.1 481.0,242.6 477.8,242.0 475.7,244.1 473.3,244.7 470.5,245.5 469.3,246.5 466.1,246.1 462.8,247.0 459.5,246.8 458.6,247.1 455.7,247.0 453.2,248.1 450.0,248.8 448.2,250.0 445.3,249.9 442.1,251.3 439.8,252.0 438.3,252.4 436.3,253.2 432.8,254.0 430.7,254.1 427.0,255.3 425.5,255.1 423.1,256.1 419.8,256.0 417.7,256.4 414.7,257.6 412.2,256.7 409.1,257.3 407.3,258.4 405.0,258.6 401.9,258.4 399.4,259.3 396.9,260.1 394.0,259.6 392.2,260.3 389.4,259.7 386.3,260.5 383.7,260.5 381.5,260.0"/><polyline points="381.2,260.1 378.3,259.6 375.7,259.9 373.9,259.7 371.2,260.0 368.8,260.0 364.8,260.4 362.1,259.6 360.3,260.6 357.4,259.6 354.1,260.2 352.0,259.8 350.7,260.1 347.6,260.4 344.6,259.9 341.7,260.8 338.9,260.3 336.4,260.6 333.3,260.6 331.4,260.9 328.8,261.0 325.6,260.8 323.0,260.6 320.6,261.1 318.4,260.6 315.5,259.9 312.6,261.2 310.2,260.6 307.8,261.3 304.5,260.3 301.5,261.2 299.1,261.8 296.7,261.7 294.8,262.0 292.0,263.2 289.2,261.9 287.5,262.8 284.1,262.5 281.5,262.8 278.2,264.0 277.0,263.6 273.6,264.1 270.1,264.9 268.0,264.3 265.9,265.2 263.1,264.9 260.9,265.6 258.0,266.0 255.9,266.3 254.1,267.1 249.6,267.5 247.6,266.5 245.3,268.6 242.9,267.8 239.3,268.3 237.8,269.3 234.6,270.8 232.9,270.3 229.4,270.7 228.2,271.8 224.1,272.4 221.5,272.7 219.9,273.0 217.8,274.5 215.0,275.2 211.9,275.4 210.0,276.4 206.9,277.0 204.5,278.1 201.6,279.4 199.1,278.7 197.5,281.2 195.0,282.2 192.3,283.8 189.9,283.8 187.9,285.5 186.3,286.9 183.5,287.3 181.0,289.5 178.8,290.2 177.0,292.0 173.9,293.5 172.0,296.0 170.1,296.9 168.4,299.4 166.4,300.6 165.4,302.5 164.6,304.6 162.2,306.0 159.1,307.8 156.9,309.8 156.0,311.9 154.8,314.2 153.2,315.8 151.3,318.0 148.3,319.0"/><polyline points="154.3,405.4 154.7,404.4 156.2,404.1 159.3,402.3 161.1,401.0 161.9,399.8 162.9,397.8 163.9,394.5 165.2,391.3 165.6,389.1 167.2,388.4 168.7,385.5 169.5,382.6 171.5,380.6 172.9,379.3 173.6,374.9 173.9,373.8 176.4,371.6 179.1,371.3 181.1,372.5 182.6,370.4 185.7,371.9 187.2,373.0 189.8,371.6 191.8,369.4 192.9,366.7 194.9,367.2 196.7,365.4 198.3,362.6 200.0,361.2 201.6,359.6 204.1,357.0 206.1,355.4 207.1,353.5 208.9,351.7 212.2,350.7 213.2,349.6 215.5,347.5 216.8,347.2 218.9,345.3 221.3,343.2 223.0,343.3 224.3,340.3 226.3,339.4 227.8,336.4 230.2,335.3 232.1,332.5 233.7,331.6 235.8,330.1 237.6,329.9 240.9,331.1 243.0,329.5 244.9,328.0 246.9,326.7 249.8,326.1 251.0,323.0 251.6,321.3 252.5,318.6 254.2,316.0 256.4,314.4 257.6,312.9 260.0,309.6 260.2,308.3 261.9,306.1 264.9,304.6 266.3,303.6 268.7,301.5 271.3,300.7 273.9,297.9 275.4,299.4 277.6,297.6 280.0,295.5 282.2,294.5 284.8,291.9 286.6,291.2 288.9,289.4 291.6,288.1 292.3,286.3 294.7,284.7 296.9,283.8 298.6,281.9 301.3,281.4 303.9,279.9 306.1,278.3 308.1,277.5 310.9,275.8 312.4,274.4 315.4,273.5 316.9,272.2 320.1,271.6 322.9,271.3 324.8,270.2 327.6,269.3 329.4,268.2 331.2,268.3 334.7,266.9 338.4,266.9 340.1,266.2 342.7,265.4 345.8,264.4 347.2,264.0 350.5,264.1 352.8,262.4 356.2,261.7 358.1,261.6 359.8,261.5 363.0,261.4 366.3,261.3 368.4,260.3 370.2,261.4 372.8,260.0 375.8,260.9 378.2,259.7 381.0,260.6"/><line x1="582.9" y1="181.2" x2="567.3" y2="130.3"/><line x1="149.2" y1="320.0" x2="183.9" y2="370.9"/></g>
<path d="M381.1 261.1h0M384.4 259.8h0M386.4 260.0h0M388.5 260.7h0M391.7 259.3h0M394.5 259.2h0M397.7 260.0h0M399.3 259.4h0M401.5 259.7h0M404.7 260.1h0M405.9 260.4h0M409.3 259.8h0M412.9 259.8h0M415.4 260.2h0M417.8 259.0h0M420.7 259.4h0M423.2 259.8h0M425.2 260.0h0M428.9 260.8h0M430.7 259.3h0M433.5 260.5h0M435.5 260.0h0M438.6 259.6h0M441.7 259.4h0M443.7 258.7h0M446.2 258.6h0M449.4 259.8h0M452.1 258.9h0M454.3 260.2h0M456.5 258.6h0M459.3 259.9h0M461.8 259.3h0M464.5 257.9h0M466.5 258.3h0M469.3 257.9h0M471.5 257.3h0M475.4 258.1h0M478.2 257.2h0M480.3 257.4h0M482.8 256.6h0M485.2 256.0h0M489.1 256.0h0M491.0 255.5h0M492.7 255.1h0M496.2 255.7h0M498.6 254.8h0M500.2 254.1h0M504.1 254.0h0M506.6 254.5h0M508.4 252.8h0M511.0 253.0h0M513.3 251.5h0M515.7 251.3h0M517.3 250.1h0M520.4 248.9h0M523.5 248.6h0M525.0 247.1h0M529.0 247.1h0M530.1 245.8h0M533.5 245.3h0M534.8 243.9h0M537.8 242.7h0M540.3 242.3h0M541.8 241.3h0M544.8 239.8h0M546.6 236.9h0M548.6 236.5h0M550.4 234.0h0M552.7 232.7h0M554.1 230.5h0M556.6 228.2h0M557.4 226.4h0M559.4 223.6h0M559.5 222.0h0M562.1 219.5h0M563.2 217.9h0M565.8 215.7h0M566.8 214.4h0M568.6 212.3h0M569.0 209.1h0M570.0 207.1h0M570.6 205.1h0M571.8 201.6h0M573.3 199.8h0M573.6 197.5h0M577.2 195.0h0M577.1 192.5h0M577.7 190.1h0M579.3 188.0h0M580.3 184.8h0M581.8 184.5h0M584.0 181.6h0M588.1 61.3h0M586.7 62.1h0M584.7 63.1h0M583.7 62.5h0M582.7 65.3h0M580.7 68.8h0M580.7 70.5h0M580.3 73.3h0M579.8 76.7h0M579.4 79.1h0M579.2 81.6h0M577.8 84.1h0M577.8 85.7h0M577.7 88.2h0M577.4 91.9h0M576.1 93.6h0M575.7 96.9h0M575.2 99.7h0M575.3 101.2h0M574.4 104.5h0M573.9 106.3h0M573.6 110.1h0M572.5 112.5h0M572.3 112.9h0M571.3 116.7h0M570.9 118.9h0M570.2 123.0h0M569.5 124.9h0M568.8 126.5h0M567.6 129.1h0M565.7 131.4h0M566.9 134.4h0M565.9 136.7h0M564.6 138.4h0M563.4 141.9h0M562.2 143.4h0M561.2 146.5h0M559.0 147.8h0M556.8 147.7h0M555.8 149.4h0M554.6 151.7h0M553.0 155.3h0M551.8 156.2h0M550.4 158.9h0M548.9 160.6h0M547.8 162.9h0M547.4 166.0h0M545.9 167.4h0M544.8 171.6h0M542.3 172.5h0M541.5 174.1h0M539.8 176.3h0M536.9 178.2h0M536.6 180.5h0M534.6 182.9h0M533.4 184.4h0M531.4 187.0h0M530.5 188.4h0M528.8 190.5h0M527.8 193.0h0M524.6 193.1h0M524.8 196.6h0M522.6 198.2h0M519.9 200.6h0M519.9 202.7h0M519.2 204.9h0M517.4 207.4h0M517.2 209.2h0M515.1 212.1h0M512.8 214.8h0M512.2 217.0h0M511.1 219.3h0M510.3 222.4h0M507.1 224.2h0M506.0 225.6h0M504.4 227.2h0M503.4 229.7h0M501.9 231.0h0M499.2 232.0h0M496.4 233.7h0M494.8 234.1h0M493.4 236.1h0M490.2 237.2h0M488.4 238.6h0M484.9 240.3h0M482.8 242.1h0M481.0 242.6h0M477.8 242.0h0M475.7 244.1h0M473.3 244.7h0M470.5 245.5h0M469.3 246.5h0M466.1 246.1h0M462.8 247.0h0M459.5 246.8h0M458.6 247.1h0M455.7 247.0h0M453.2 248.1h0M450.0 248.8h0M448.2 250.0h0M445.3 249.9h0M442.1 251.3h0M439.8 252.0h0M438.3 252.4h0M436.3 253.2h0M432.8 254.0h0M430.7 254.1h0M427.0 255.3h0M425.5 255.1h0M423.1 256.1h0M419.8 256.0h0M417.7 256.4h0M414.7 257.6h0M412.2 256.7h0M409.1 257.3h0M407.3 258.4h0M405.0 258.6h0M401.9 258.4h0M399.4 259.3h0M396.9 260.1h0M394.0 259.6h0M392.2 260.3h0M389.4 259.7h0M386.3 260.5h0M383.7 260.5h0M381.5 260.0h0M381.2 260.1h0M378.3 259.6h0M375.7 259.9h0M373.9 259.7h0M371.2 260.0h0M368.8 260.0h0M364.8 260.4h0M362.1 259.6h0M360.3 260.6h0M357.4 259.6h0M354.1 260.2h0M352.0 259.8h0M350.7 260.1h0M347.6 260.4h0M344.6 259.9h0M341.7 260.8h0M338.9 260.3h0M336.4 260.6h0M333.3 260.6h0M331.4 260.9h0M328.8 261.0h0M325.6 260.8h0M323.0 260.6h0M320.6 261.1h0M318.4 260.6h0M315.5 259.9h0M312.6 261.2h0M310.2 260.6h0M307.8 261.3h0M304.5 260.3h0M301.5 261.2h0M299.1 261.8h0M296.7 261.7h0M294.8 262.0h0M292.0 263.2h0M289.2 261.9h0M287.5 262.8h0M284.1 262.5h0M281.5 262.8h0M278.2 264.0h0M277.0 263.6h0M273.6 264.1h0M270.1 264.9h0M268.0 264.3h0M265.9 265.2h0M263.1 264.9h0M260.9 265.6h0M258.0 266.0h0M255.9 266.3h0M254.1 267.1h0M249.6 267.5h0M247.6 266.5h0M245.3 268.6h0M242.9 267.8h0M239.3 268.3h0M237.8 269.3h0M234.6 270.8h0M232.9 270.3h0M229.4 270.7h0M228.2 271.8h0M224.1 272.4h0M221.5 272.7h0M219.9 273.0h0M217.8 274.5h0M215.0 275.2h0M211.9 275.4h0M210.0 276.4h0M206.9 277.0h0M204.5 278.1h0M201.6 279.4h0M199.1 278.7h0M197.5 281.2h0M195.0 282.2h0M192.3 283.8h0M189.9 283.8h0M187.9 285.5h0M186.3 286.9h0M183.5 287.3h0M181.0 289.5h0M178.8 290.2h0M177.0 292.0h0M173.9 293.5h0M172.0 296.0h0M170.1 296.9h0M168.4 299.4h0M166.4 300.6h0M165.4 302.5h0M164.6 304.6h0M162.2 306.0h0M159.1 307.8h0M156.9 309.8h0M156.0 311.9h0M154.8 314.2h0M153.2 315.8h0M151.3 318.0h0M148.3 319.0h0M154.3 405.4h0M154.7 404.4h0M156.2 404.1h0M159.3 402.3h0M161.1 401.0h0M161.9 399.8h0M162.9 397.8h0M163.9 394.5h0M165.2 391.3h0M165.6 389.1h0M167.2 388.4h0M168.7 385.5h0M169.5 382.6h0M171.5 380.6h0M172.9 379.3h0M173.6 374.9h0M173.9 373.8h0M176.4 371.6h0M179.1 371.3h0M181.1 372.5h0M182.6 370.4h0M185.7 371.9h0M187.2 373.0h0M189.8 371.6h0M191.8 369.4h0M192.9 366.7h0M194.9 367.2h0M196.7 365.4h0M198.3 362.6h0M200.0 361.2h0M201.6 359.6h0M204.1 357.0h0M206.1 355.4h0M207.1 353.5h0M208.9 351.7h0M212.2 350.7h0M213.2 349.6h0M215.5 347.5h0M216.8 347.2h0M218.9 345.3h0M221.3 343.2h0M223.0 343.3h0M224.3 340.3h0M226.3 339.4h0M227.8 336.4h0M230.2 335.3h0M232.1 332.5h0M233.7 331.6h0M235.8 330.1h0M237.6 329.9h0M240.9 331.1h0M243.0 329.5h0M244.9 328.0h0M246.9 326.7h0M249.8 326.1h0M251.0 323.0h0M251.6 321.3h0M252.5 318.6h0M254.2 316.0h0M256.4 314.4h0M257.6 312.9h0M260.0 309.6h0M260.2 308.3h0M261.9 306.1h0M264.9 304.6h0M266.3 303.6h0M268.7 301.5h0M271.3 300.7h0M273.9 297.9h0M275.4 299.4h0M277.6 297.6h0M280.0 295.5h0M282.2 294.5h0M284.8 291.9h0M286.6 291.2h0M288.9 289.4h0M291.6 288.1h0M292.3 286.3h0M294.7 284.7h0M296.9 283.8h0M298.6 281.9h0M301.3 281.4h0M303.9 279.9h0M306.1 278.3h0M308.1 277.5h0M310.9 275.8h0M312.4 274.4h0M315.4 273.5h0M316.9 272.2h0M320.1 271.6h0M322.9 271.3h0M324.8 270.2h0M327.6 269.3h0M329.4 268.2h0M331.2 268.3h0M334.7 266.9h0M338.4 266.9h0M340.1 266.2h0M342.7 265.4h0M345.8 264.4h0M347.2 264.0h0M350.5 264.1h0M352.8 262.4h0M356.2 261.7h0M358.1 261.6h0M359.8 261.5h0M363.0 261.4h0M366.3 261.3h0M368.4 260.3h0M370.2 261.4h0M372.8 260.0h0M375.8 260.9h0M378.2 259.7h0M381.0 260.6h0M153.1 395.5h0M154.0 392.6h0M153.7 391.9h0M155.1 393.8h0M155.9 394.4h0M156.8 394.5h0M156.4 391.6h0M156.6 394.4h0M157.6 397.7h0M158.2 396.6h0M159.7 393.8h0M159.3 392.3h0M159.9 394.7h0M159.5 394.9h0M160.2 391.6h0M161.6 388.4h0M160.4 387.3h0M161.0 390.7h0M163.2 389.6h0M163.5 386.4h0M163.6 383.3h0M164.4 384.6h0M163.9 383.8h0M164.8 380.9h0M165.6 380.5h0M167.4 377.7h0M167.5 377.2h0M168.3 375.6h0M170.1 378.1h0M170.1 375.0h0M171.3 372.2h0M172.2 372.0h0M171.0 368.1h0M171.7 371.9h0M173.4 373.9h0M172.8 370.1h0M173.7 368.0h0M173.5 368.4h0M174.9 366.0h0M176.3 364.3h0M176.3 365.3h0M178.0 364.5h0M179.0 360.8h0M178.5 362.5h0M180.3 365.7h0M180.8 365.5h0M180.2 365.2h0M181.8 361.9h0M181.8 362.8h0M183.0 363.4h0M183.8 362.4h0M184.6 366.9h0M183.4 365.2h0M185.3 362.9h0M185.5 366.0h0M187.4 365.1h0M187.3 364.8h0M188.4 363.6h0M189.2 363.3h0M190.6 364.7h0M191.1 363.5h0M191.4 361.8h0M191.8 363.2h0M192.0 362.2h0M193.3 359.4h0M193.7 363.3h0M193.3 366.5h0M193.8 365.9h0M194.0 362.2h0M195.6 361.7h0M195.8 363.0h0M196.5 360.2h0M196.7 358.3h0M197.6 361.4h0M198.1 358.6h0M198.2 357.7h0M199.0 355.3h0M200.3 357.2h0M200.3 360.1h0M199.8 362.4h0M200.2 359.1h0M200.7 355.8h0M200.9 353.9h0M201.9 354.5h0M203.3 352.7h0M203.1 356.3h0M202.6 352.0h0M204.0 349.3h0M204.4 351.2h0M204.8 352.7h0M206.7 353.4h0M208.5 349.7h0M208.9 351.5h0M209.2 353.1h0M209.0 351.1h0M210.2 348.7h0M210.2 350.8h0M210.6 349.6h0M213.1 349.4h0M214.0 348.8h0M215.2 345.1h0M215.4 347.4h0M216.8 344.5h0M217.8 345.2h0M218.5 343.0h0M219.0 345.1h0M220.3 343.4h0M221.6 342.9h0M222.9 343.1h0M223.4 344.2h0M224.6 343.8h0M224.8 342.1h0M224.2 338.1h0M224.9 339.6h0" stroke="#941C62" stroke-width="5.8" stroke-linecap="round" fill="none"/>
<g stroke="#A3684B" fill="none" stroke-width="1.1"><polyline points="381.3,260.3 383.8,260.2 386.3,260.2 389.3,260.0 390.5,260.3 394.1,259.8 396.8,260.4 399.0,260.2 402.1,260.0 405.0,260.2 407.5,259.9 409.4,260.2 412.0,259.7 414.4,259.4 418.5,259.7 419.8,260.9 423.0,260.1 425.1,259.8 428.6,259.2 429.4,260.5 433.1,259.1 436.2,259.4 437.9,259.6 440.4,259.7 444.6,259.5 446.4,259.8 448.6,259.0 451.4,259.0 453.5,258.7 457.0,258.3 459.2,258.7 462.5,258.4 464.5,258.3 467.4,258.7 469.6,257.2 471.8,256.8 475.3,256.8 477.6,257.3 480.1,255.3 482.0,255.2 485.1,256.1 487.2,255.1 490.5,255.0 492.9,256.1 495.2,255.0 498.6,254.3 500.6,253.6 503.6,252.6 505.3,252.2 508.0,251.3 511.8,250.9 513.6,250.4 515.0,249.5 517.8,249.7 521.0,248.0 523.2,247.5 526.0,247.6 527.7,245.7 530.7,246.3 533.2,245.0 535.4,243.9 537.9,242.5 539.3,241.6 542.3,239.4 544.5,238.6 546.4,237.2 549.3,235.1 550.9,234.0 553.2,232.0 554.9,230.6 557.2,227.8 558.7,227.2 559.6,223.5 562.0,222.9 563.2,220.9 565.0,219.4 566.1,216.9 568.0,215.1 570.0,212.6 571.9,212.0 573.3,208.8"/><polyline points="580.0,70.7 578.8,73.4 577.7,75.6 577.0,78.7 576.9,79.9 576.9,84.0 576.4,86.0 574.9,88.4 574.9,90.8 574.7,92.9 573.6,96.8 573.3,98.8 573.0,102.2 573.3,104.7 572.0,106.5 571.3,109.1 569.8,110.8 570.3,114.5 567.6,112.4 565.5,114.3 564.4,116.8 563.1,118.8 563.9,121.8 562.4,123.3 559.3,125.2 558.4,123.8 556.2,127.3 555.9,129.1 554.7,131.2 553.8,134.4 553.7,136.5 552.4,139.5 553.4,141.9 551.4,144.8 550.6,146.6 549.3,148.5 548.2,152.0 546.9,153.3 546.2,155.8 544.7,157.4 541.2,159.3 541.0,159.2 539.3,161.5 538.6,165.3 537.7,166.9 538.0,169.3 536.5,172.0 534.8,174.2 533.1,176.1 531.0,176.7 530.2,179.8 528.8,181.7 527.0,184.3 525.3,185.6 525.1,187.9 523.1,189.5 521.7,191.6 519.5,195.1 518.9,197.1 517.5,199.0 515.2,201.8 514.4,203.4 513.5,205.9 512.6,207.4 511.9,209.6 510.3,214.1 509.2,216.1 507.6,217.1 504.8,218.4 503.1,218.7 501.3,221.3 499.7,223.7 497.9,225.4 496.1,227.7 494.4,228.9 492.1,231.5 490.9,231.4 488.2,232.9 486.3,235.2 484.4,237.2 482.4,237.6 480.4,238.2 478.1,238.9 475.9,241.4 471.9,241.9 470.2,241.6 467.7,242.4 464.9,242.2 462.0,242.9 459.7,243.3 458.1,245.8 454.5,246.5 453.3,247.5 450.0,248.3 447.4,248.1 445.8,249.1 442.2,248.5 439.1,249.5 437.0,250.0 435.3,250.9 432.2,250.4 429.8,251.9 427.3,252.2 424.8,253.5 421.9,253.6 419.4,254.7 417.1,255.0 415.4,255.9 412.5,256.4 409.6,256.0 407.9,257.0 404.5,258.1 401.3,258.2 399.6,259.3 397.4,258.7 394.6,259.0 391.9,260.0 388.4,260.4 385.8,259.3 383.2,261.0 380.3,260.8"/><polyline points="380.9,259.2 379.3,260.1 375.7,260.4 373.2,260.6 370.6,260.1 369.0,260.8 365.7,259.7 363.3,260.0 360.9,260.9 358.2,260.8 355.2,261.0 352.1,259.8 349.2,260.8 347.2,260.6 344.5,259.8 342.4,260.5 339.4,260.3 336.6,261.4 333.0,260.7 331.5,260.8 328.1,260.7 325.6,260.9 322.9,260.5 321.0,260.1 317.7,260.4 316.2,260.4 313.4,261.0 309.3,261.2 307.4,261.9 304.3,261.2 302.8,261.6 300.1,262.0 297.5,262.5 294.8,263.3 291.8,263.4 288.9,263.4 287.2,262.3 284.8,264.0 281.6,264.6 279.2,263.7 276.2,264.7 273.2,264.8 271.6,264.9 268.2,264.9 265.5,264.9 263.6,265.3 259.5,265.7 257.7,267.2 255.8,266.9 252.1,266.9 250.1,267.5 247.7,269.3 245.4,267.8 242.9,268.1 239.5,269.6 236.8,269.5 233.7,270.1 232.1,271.0 230.2,271.7 226.3,273.1 225.0,272.9 222.9,274.3 221.2,275.0 216.2,277.2 214.8,278.0 212.5,278.2 209.8,280.1 207.8,280.9 205.5,281.9 203.7,283.0 200.7,285.8"/><polyline points="155.9,401.1 156.1,398.5 157.1,396.1 159.3,394.1 159.9,392.2 160.9,389.4 164.0,387.8 163.7,385.7 166.6,385.6 168.4,384.1 169.8,380.8 170.4,379.2 172.5,377.1 174.4,374.8 176.5,375.2 178.0,375.1 180.6,374.3 181.6,371.7 183.2,369.5 183.7,366.7 183.1,364.3 185.6,362.3 186.9,359.9 188.8,357.8 191.9,358.4 193.3,359.3 195.0,359.5 197.2,358.6 199.0,358.7 201.1,357.0 202.7,356.6 205.0,354.2 207.5,353.8 209.1,350.8 210.0,349.4 211.0,347.2 212.6,344.6 214.2,343.0 216.6,341.3 218.7,341.6 220.2,340.4 223.2,339.0 223.8,336.2 226.9,334.4 227.9,334.9 231.7,334.9 233.4,335.5 234.9,332.9 237.7,331.1 238.7,329.8 240.5,327.8 241.6,325.8 243.7,322.9 244.9,321.5 247.3,317.7 246.2,317.3 248.4,315.1 250.5,311.9 251.7,310.3 252.9,309.0 256.1,307.5 258.9,307.1 261.0,305.9 263.1,304.4 264.0,302.3 265.9,301.5 269.7,299.9 270.9,298.6 272.6,297.8 275.1,296.2 276.2,293.3 279.2,292.9 281.6,292.2 282.8,288.8 285.1,288.0 288.2,286.9 291.2,286.0 293.6,284.3 296.0,284.1 296.9,283.2 299.1,281.2 301.0,279.7 303.2,277.2 305.1,276.4 306.9,274.7 309.6,273.7 311.7,273.5 314.2,272.9 317.4,270.8 319.9,270.9 322.6,270.5 325.2,269.2 327.2,268.9 329.8,267.4 332.4,267.4 335.6,266.8 338.6,267.3 339.3,265.7 342.6,264.5 344.6,264.4 348.0,264.3 351.0,263.9 353.8,262.3 355.9,262.0 357.5,261.9 360.2,260.8 363.6,260.4 365.5,260.6 368.5,260.3 370.5,260.0 373.2,260.4 376.1,261.1 378.6,260.3 381.6,260.0"/><line x1="573.4" y1="209.1" x2="547.4" y2="153.8"/><line x1="200.8" y1="284.7" x2="246.8" y2="318.6"/></g>
<path d="M381.3 260.3h0M383.8 260.2h0M386.3 260.2h0M389.3 260.0h0M390.5 260.3h0M394.1 259.8h0M396.8 260.4h0M399.0 260.2h0M402.1 260.0h0M405.0 260.2h0M407.5 259.9h0M409.4 260.2h0M412.0 259.7h0M414.4 259.4h0M418.5 259.7h0M419.8 260.9h0M423.0 260.1h0M425.1 259.8h0M428.6 259.2h0M429.4 260.5h0M433.1 259.1h0M436.2 259.4h0M437.9 259.6h0M440.4 259.7h0M444.6 259.5h0M446.4 259.8h0M448.6 259.0h0M451.4 259.0h0M453.5 258.7h0M457.0 258.3h0M459.2 258.7h0M462.5 258.4h0M464.5 258.3h0M467.4 258.7h0M469.6 257.2h0M471.8 256.8h0M475.3 256.8h0M477.6 257.3h0M480.1 255.3h0M482.0 255.2h0M485.1 256.1h0M487.2 255.1h0M490.5 255.0h0M492.9 256.1h0M495.2 255.0h0M498.6 254.3h0M500.6 253.6h0M503.6 252.6h0M505.3 252.2h0M508.0 251.3h0M511.8 250.9h0M513.6 250.4h0M515.0 249.5h0M517.8 249.7h0M521.0 248.0h0M523.2 247.5h0M526.0 247.6h0M527.7 245.7h0M530.7 246.3h0M533.2 245.0h0M535.4 243.9h0M537.9 242.5h0M539.3 241.6h0M542.3 239.4h0M544.5 238.6h0M546.4 237.2h0M549.3 235.1h0M550.9 234.0h0M553.2 232.0h0M554.9 230.6h0M557.2 227.8h0M558.7 227.2h0M559.6 223.5h0M562.0 222.9h0M563.2 220.9h0M565.0 219.4h0M566.1 216.9h0M568.0 215.1h0M570.0 212.6h0M571.9 212.0h0M573.3 208.8h0M580.0 70.7h0M578.8 73.4h0M577.7 75.6h0M577.0 78.7h0M576.9 79.9h0M576.9 84.0h0M576.4 86.0h0M574.9 88.4h0M574.9 90.8h0M574.7 92.9h0M573.6 96.8h0M573.3 98.8h0M573.0 102.2h0M573.3 104.7h0M572.0 106.5h0M571.3 109.1h0M569.8 110.8h0M570.3 114.5h0M567.6 112.4h0M565.5 114.3h0M564.4 116.8h0M563.1 118.8h0M563.9 121.8h0M562.4 123.3h0M559.3 125.2h0M558.4 123.8h0M556.2 127.3h0M555.9 129.1h0M554.7 131.2h0M553.8 134.4h0M553.7 136.5h0M552.4 139.5h0M553.4 141.9h0M551.4 144.8h0M550.6 146.6h0M549.3 148.5h0M548.2 152.0h0M546.9 153.3h0M546.2 155.8h0M544.7 157.4h0M541.2 159.3h0M541.0 159.2h0M539.3 161.5h0M538.6 165.3h0M537.7 166.9h0M538.0 169.3h0M536.5 172.0h0M534.8 174.2h0M533.1 176.1h0M531.0 176.7h0M530.2 179.8h0M528.8 181.7h0M527.0 184.3h0M525.3 185.6h0M525.1 187.9h0M523.1 189.5h0M521.7 191.6h0M519.5 195.1h0M518.9 197.1h0M517.5 199.0h0M515.2 201.8h0M514.4 203.4h0M513.5 205.9h0M512.6 207.4h0M511.9 209.6h0M510.3 214.1h0M509.2 216.1h0M507.6 217.1h0M504.8 218.4h0M503.1 218.7h0M501.3 221.3h0M499.7 223.7h0M497.9 225.4h0M496.1 227.7h0M494.4 228.9h0M492.1 231.5h0M490.9 231.4h0M488.2 232.9h0M486.3 235.2h0M484.4 237.2h0M482.4 237.6h0M480.4 238.2h0M478.1 238.9h0M475.9 241.4h0M471.9 241.9h0M470.2 241.6h0M467.7 242.4h0M464.9 242.2h0M462.0 242.9h0M459.7 243.3h0M458.1 245.8h0M454.5 246.5h0M453.3 247.5h0M450.0 248.3h0M447.4 248.1h0M445.8 249.1h0M442.2 248.5h0M439.1 249.5h0M437.0 250.0h0M435.3 250.9h0M432.2 250.4h0M429.8 251.9h0M427.3 252.2h0M424.8 253.5h0M421.9 253.6h0M419.4 254.7h0M417.1 255.0h0M415.4 255.9h0M412.5 256.4h0M409.6 256.0h0M407.9 257.0h0M404.5 258.1h0M401.3 258.2h0M399.6 259.3h0M397.4 258.7h0M394.6 259.0h0M391.9 260.0h0M388.4 260.4h0M385.8 259.3h0M383.2 261.0h0M380.3 260.8h0M380.9 259.2h0M379.3 260.1h0M375.7 260.4h0M373.2 260.6h0M370.6 260.1h0M369.0 260.8h0M365.7 259.7h0M363.3 260.0h0M360.9 260.9h0M358.2 260.8h0M355.2 261.0h0M352.1 259.8h0M349.2 260.8h0M347.2 260.6h0M344.5 259.8h0M342.4 260.5h0M339.4 260.3h0M336.6 261.4h0M333.0 260.7h0M331.5 260.8h0M328.1 260.7h0M325.6 260.9h0M322.9 260.5h0M321.0 260.1h0M317.7 260.4h0M316.2 260.4h0M313.4 261.0h0M309.3 261.2h0M307.4 261.9h0M304.3 261.2h0M302.8 261.6h0M300.1 262.0h0M297.5 262.5h0M294.8 263.3h0M291.8 263.4h0M288.9 263.4h0M287.2 262.3h0M284.8 264.0h0M281.6 264.6h0M279.2 263.7h0M276.2 264.7h0M273.2 264.8h0M271.6 264.9h0M268.2 264.9h0M265.5 264.9h0M263.6 265.3h0M259.5 265.7h0M257.7 267.2h0M255.8 266.9h0M252.1 266.9h0M250.1 267.5h0M247.7 269.3h0M245.4 267.8h0M242.9 268.1h0M239.5 269.6h0M236.8 269.5h0M233.7 270.1h0M232.1 271.0h0M230.2 271.7h0M226.3 273.1h0M225.0 272.9h0M222.9 274.3h0M221.2 275.0h0M216.2 277.2h0M214.8 278.0h0M212.5 278.2h0M209.8 280.1h0M207.8 280.9h0M205.5 281.9h0M203.7 283.0h0M200.7 285.8h0M155.9 401.1h0M156.1 398.5h0M157.1 396.1h0M159.3 394.1h0M159.9 392.2h0M160.9 389.4h0M164.0 387.8h0M163.7 385.7h0M166.6 385.6h0M168.4 384.1h0M169.8 380.8h0M170.4 379.2h0M172.5 377.1h0M174.4 374.8h0M176.5 375.2h0M178.0 375.1h0M180.6 374.3h0M181.6 371.7h0M183.2 369.5h0M183.7 366.7h0M183.1 364.3h0M185.6 362.3h0M186.9 359.9h0M188.8 357.8h0M191.9 358.4h0M193.3 359.3h0M195.0 359.5h0M197.2 358.6h0M199.0 358.7h0M201.1 357.0h0M202.7 356.6h0M205.0 354.2h0M207.5 353.8h0M209.1 350.8h0M210.0 349.4h0M211.0 347.2h0M212.6 344.6h0M214.2 343.0h0M216.6 341.3h0M218.7 341.6h0M220.2 340.4h0M223.2 339.0h0M223.8 336.2h0M226.9 334.4h0M227.9 334.9h0M231.7 334.9h0M233.4 335.5h0M234.9 332.9h0M237.7 331.1h0M238.7 329.8h0M240.5 327.8h0M241.6 325.8h0M243.7 322.9h0M244.9 321.5h0M247.3 317.7h0M246.2 317.3h0M248.4 315.1h0M250.5 311.9h0M251.7 310.3h0M252.9 309.0h0M256.1 307.5h0M258.9 307.1h0M261.0 305.9h0M263.1 304.4h0M264.0 302.3h0M265.9 301.5h0M269.7 299.9h0M270.9 298.6h0M272.6 297.8h0M275.1 296.2h0M276.2 293.3h0M279.2 292.9h0M281.6 292.2h0M282.8 288.8h0M285.1 288.0h0M288.2 286.9h0M291.2 286.0h0M293.6 284.3h0M296.0 284.1h0M296.9 283.2h0M299.1 281.2h0M301.0 279.7h0M303.2 277.2h0M305.1 276.4h0M306.9 274.7h0M309.6 273.7h0M311.7 273.5h0M314.2 272.9h0M317.4 270.8h0M319.9 270.9h0M322.6 270.5h0M325.2 269.2h0M327.2 268.9h0M329.8 267.4h0M332.4 267.4h0M335.6 266.8h0M338.6 267.3h0M339.3 265.7h0M342.6 264.5h0M344.6 264.4h0M348.0 264.3h0M351.0 263.9h0M353.8 262.3h0M355.9 262.0h0M357.5 261.9h0M360.2 260.8h0M363.6 260.4h0M365.5 260.6h0M368.5 260.3h0M370.5 260.0h0M373.2 260.4h0M376.1 261.1h0M378.6 260.3h0M381.6 260.0h0M156.5 390.4h0M156.4 390.3h0M156.1 391.0h0M157.6 388.5h0M156.1 385.8h0M157.5 388.1h0M157.9 384.4h0M158.4 383.6h0M159.4 383.5h0M159.7 382.3h0M161.9 382.0h0M162.2 379.0h0M163.5 379.9h0M164.1 376.7h0M165.5 374.2h0M165.8 373.8h0M167.0 375.5h0M166.4 376.8h0M167.6 375.4h0M168.1 372.3h0M168.1 372.0h0M168.8 374.5h0M170.3 371.4h0M170.6 369.3h0M171.2 368.4h0M171.0 367.5h0M171.4 367.9h0M172.0 371.1h0M173.2 368.1h0M175.4 366.7h0M175.3 368.1h0M176.2 364.5h0M176.5 363.1h0M178.4 363.6h0M179.4 364.1h0M180.0 365.7h0M180.1 366.6h0M180.8 366.6h0M181.6 363.9h0M181.8 364.9h0M181.8 364.0h0M181.8 360.1h0M182.5 358.8h0M183.7 360.6h0M183.7 357.9h0M185.3 355.9h0M185.8 353.0h0M185.9 355.1h0M187.0 353.4h0M186.3 352.5h0M188.0 353.0h0M188.3 350.7h0M189.3 349.2h0M190.2 351.1h0M191.8 349.6h0M194.4 351.3h0M195.3 354.3h0M197.7 352.1h0M198.1 353.9h0M198.9 351.4h0M201.0 349.9h0M200.7 351.7h0M201.6 350.5h0M201.7 350.6h0M203.2 352.0h0M204.1 353.6h0M203.9 350.6h0M204.5 349.1h0M205.9 349.8h0M207.4 348.6h0M208.3 348.6h0M209.7 347.2h0M210.2 347.2h0M209.6 343.1h0M210.6 341.6h0M210.4 345.4h0M211.5 342.9h0M212.7 341.3h0M213.3 340.8h0M213.1 338.9h0M214.7 340.2h0M215.9 339.0h0M216.7 339.0h0M217.7 336.6h0M218.5 338.7h0M219.5 338.4h0M219.3 340.1h0M220.1 337.2h0M220.6 340.1h0M222.3 338.3h0M222.5 336.3h0M223.0 336.6h0M225.3 333.8h0M224.6 332.3h0M226.0 333.3h0M227.5 333.6h0M227.7 334.3h0M228.8 331.9h0M229.8 332.4h0M230.4 333.4h0M230.7 332.8h0M231.6 334.2h0M232.1 337.5h0M232.8 336.4h0M232.9 333.7h0M233.2 334.5h0M233.7 332.0h0M234.8 334.1h0M234.9 332.1h0M236.6 332.2h0M237.8 332.6h0M156.0 414.5h0M155.5 411.7h0M155.9 409.6h0M156.6 409.2h0M156.9 410.0h0M156.7 407.2h0M158.0 404.9h0M157.4 405.2h0M158.4 404.5h0M158.1 402.1h0M160.5 403.7h0M159.0 400.2h0M161.3 398.2h0M161.9 397.9h0M161.2 400.5h0M161.2 400.4h0M161.8 399.6h0M162.2 396.2h0M162.7 393.7h0M162.6 393.0h0M162.1 394.8h0M161.3 398.8h0M163.4 396.3h0M163.2 392.6h0M164.0 395.2h0M164.4 396.6h0M165.2 396.3h0M165.7 393.3h0M165.6 394.0h0M166.5 397.2h0M167.6 394.8h0M168.9 391.5h0M169.6 390.5h0M169.5 386.5h0M170.3 389.9h0M169.4 391.2h0M170.5 387.1h0M171.4 386.4h0M172.4 387.9h0M172.8 385.2h0M173.4 382.1h0M174.5 378.9h0M174.7 381.7h0M174.3 385.0h0M175.3 385.0h0M176.0 385.1h0M177.0 380.3h0M177.3 385.3h0M176.7 383.0h0M178.6 381.9h0M178.8 377.7h0M178.7 380.4h0M179.4 383.8h0M179.4 381.0h0M180.8 380.7h0M182.3 378.7h0M182.5 381.9h0M181.6 382.6h0M182.6 379.3h0M182.7 376.3h0M182.8 378.9h0M183.0 380.2h0M183.0 378.3h0M184.9 375.1h0M184.7 374.7h0M184.6 372.4h0M186.4 371.3h0M186.7 368.3h0M186.4 366.8h0M188.2 369.1h0M188.3 370.5h0M188.3 367.0h0M189.2 365.0h0M189.8 360.8h0M191.3 364.6h0M190.9 364.9h0M192.2 362.1h0M192.0 365.7h0M193.2 368.0h0M192.6 365.2h0M193.6 364.9h0M193.9 367.8h0M194.7 366.1h0M195.4 363.0h0M196.0 360.4h0M195.8 363.1h0M197.1 364.6h0M197.5 362.8h0M197.5 364.3h0M197.4 367.1h0M198.4 368.0h0M198.6 364.8h0M199.0 363.7h0M199.8 363.8h0M200.9 361.3h0M201.1 364.0h0M202.0 361.6h0M203.9 359.5h0M203.9 362.4h0M203.4 359.4h0M204.6 362.7h0M203.8 358.7h0M205.5 358.0h0M206.1 357.4h0M207.5 354.6h0M207.8 356.7h0M208.6 355.3h0M209.4 350.8h0M210.3 348.3h0M211.5 349.3h0M212.1 346.2h0M212.1 347.0h0M213.4 346.1h0M214.1 344.2h0M215.0 346.6h0M215.6 346.8h0M216.2 344.2h0M217.9 345.5h0M219.1 341.9h0M220.4 341.5h0M222.8 340.3h0M223.9 338.0h0M224.6 336.3h0M225.9 335.8h0M226.6 335.1h0M229.3 332.9h0M229.1 335.1h0" stroke="#A3684B" stroke-width="5.8" stroke-linecap="round" fill="none"/>
<g stroke="#9A8A24" fill="none" stroke-width="1.1"><polyline points="381.4,260.6 383.6,259.5 386.8,260.1 388.7,260.4 392.3,260.1 394.1,260.2 396.5,260.6 399.5,259.3 403.1,259.6 405.3,260.4 408.0,260.8 410.3,260.2 412.3,259.5 414.9,259.4 418.2,259.6 420.3,260.4 423.0,260.0 426.3,258.9 428.3,259.8 431.2,260.1 433.0,259.7 435.5,260.6 438.5,259.3 441.0,259.6 443.9,259.8 446.0,259.0 449.7,258.6 453.3,258.7 454.6,258.9 456.8,258.8 459.5,257.9 462.7,258.2 464.5,257.2 466.5,257.1 470.0,258.0 472.5,257.8 475.3,257.6 477.3,256.9 479.3,256.6 483.1,255.8 484.8,255.2 488.4,255.5 490.6,253.9 493.6,254.3 495.1,254.2 498.4,253.5 500.8,253.1 503.5,251.9 506.3,251.3 508.6,251.5 511.0,250.5 513.6,251.1 516.2,248.7 517.7,249.5 521.3,248.1 523.3,248.2 526.7,246.2 528.1,245.6 531.3,245.6 533.8,244.0 535.7,243.7 538.3,242.3 540.6,241.4 543.1,239.4 545.5,238.2 546.8,237.0 549.6,236.1 552.8,235.6 554.8,233.5 556.2,231.5 558.7,230.3 559.7,228.7 562.4,226.7 563.4,225.1 564.3,222.7 566.6,220.0 568.0,219.0 570.2,215.7 571.3,213.3 572.4,211.7 575.2,210.2 575.5,208.3 577.8,206.8 579.7,204.3 580.3,201.7 581.9,199.0 582.5,197.5 582.4,194.5 584.5,192.1 586.6,190.1 587.2,187.3 588.2,185.3 589.3,182.5 590.5,180.4 591.4,178.3 592.4,175.1 593.9,173.3 594.7,170.4 596.3,168.9 596.5,165.7 597.5,163.0 597.7,161.3"/><polyline points="580.0,68.7 577.7,69.4 576.4,70.9 575.0,73.7 575.0,74.1 572.3,76.7 572.7,80.8 570.5,82.8 570.6,84.7 569.8,86.9 569.3,89.5 567.4,91.4 567.3,94.5 566.7,97.2 566.1,99.4 564.1,101.7 563.8,103.7 562.2,106.7 562.2,108.9 560.7,111.2 558.5,114.5 557.5,115.5 556.5,117.1 555.4,119.7 552.9,121.5 552.5,123.2 550.8,126.5 550.1,129.1 548.6,129.7 546.4,131.7 545.4,133.8 544.9,135.9 542.3,138.5 540.5,140.8 539.4,144.0 538.2,145.0 536.9,148.1 536.1,150.0 535.0,152.0 534.3,153.9 533.5,156.7 532.1,158.9 530.2,161.4 529.5,164.1 528.0,165.8 526.0,168.0 523.9,169.3 522.2,172.1 519.4,172.0 518.1,174.2 516.4,175.5 514.1,176.5 512.0,178.1 511.2,180.9 509.7,182.0 507.7,185.8 506.1,186.3 505.9,189.6 504.0,191.8 501.0,194.8 499.9,196.4 498.5,197.1 497.7,199.9 495.9,202.0 493.7,203.2 491.5,205.0 490.1,206.7 488.0,208.9 486.8,211.7 484.1,212.4 483.2,214.3 481.9,216.3 480.0,218.5 478.4,220.6 475.6,223.2 474.3,225.4 473.2,226.6 472.2,229.3 469.8,230.3 467.6,232.2 465.7,234.5 462.9,235.8 460.6,237.2 458.8,238.0 456.3,238.4 453.8,240.1 451.6,240.5 449.2,241.7 447.2,242.7 444.6,243.4 441.2,244.5 438.5,244.2 436.3,247.4 434.2,247.0 432.6,247.0 428.7,248.0 426.1,249.0 423.8,249.2 420.8,250.1 419.1,249.8 416.9,252.1 413.5,252.5 412.0,253.2 409.2,254.1 406.6,256.3 404.0,256.1 400.1,255.4 399.0,257.7 397.7,258.3 394.5,259.7 391.9,259.5 389.1,259.9 386.8,260.5 383.5,260.1 381.3,259.7"/><polyline points="381.3,261.0 378.3,259.5 375.2,261.3 373.4,261.1 371.0,260.5 368.4,260.0 366.0,259.6 362.2,260.3 360.1,260.0 358.2,260.7 355.0,260.5 353.1,259.4 349.9,260.7 346.7,260.0 344.3,259.5 342.6,258.8 339.0,260.5 337.3,259.5 334.0,260.5 331.3,260.4 328.4,259.9 327.0,260.9 323.5,260.3 320.8,260.7 318.9,261.1 315.6,259.5 313.3,261.5 310.4,260.7 308.1,261.6 305.6,260.8 301.9,261.0 300.2,261.1 298.2,261.7 295.2,261.4 291.8,261.3 289.9,261.9 287.4,261.9 284.6,263.6 282.0,262.1 279.5,262.6 277.0,262.9 274.2,264.4 270.9,263.4 268.4,264.4 266.2,265.4 263.0,265.0 261.1,264.1 258.2,266.1 256.3,265.7 252.7,265.9 249.9,265.8 247.5,266.9 245.3,266.9 242.9,268.1 240.4,267.5 237.1,269.2 235.1,269.7 231.9,270.8 231.4,271.7 227.8,271.6 224.2,272.4 222.0,274.0 220.4,274.2 217.5,275.1 216.2,276.2 213.1,276.6 210.6,278.9 207.7,279.5 205.4,279.8 204.4,283.0 201.6,283.2 198.4,284.2 196.4,286.3 194.5,287.5 193.5,288.7 190.9,291.0 189.3,292.2 186.5,294.5 185.3,296.3 184.0,299.0 181.5,300.1 178.6,302.0 179.1,304.1 177.7,306.9 176.2,309.1"/><polyline points="163.6,401.3 166.7,401.3 168.1,401.1 169.4,397.9 170.5,396.1 171.2,392.8 172.9,390.6 174.5,390.3 176.1,389.9 179.5,391.9 180.6,391.0 182.4,388.4 182.8,385.8 185.9,385.3 188.0,385.9 190.8,386.0 192.1,383.9 193.7,383.0 194.0,379.7 195.5,377.6 197.1,375.6 197.4,373.7 199.4,371.1 200.6,370.5 203.2,371.9 204.9,372.3 207.3,370.6 208.6,368.3 209.4,365.5 210.0,363.9 212.8,362.2 214.3,360.9 217.5,362.0 218.4,361.4 221.3,359.0 222.7,357.4 225.2,355.7 227.3,356.7 229.4,357.0 231.7,354.4 232.7,352.8 234.0,350.8 235.7,348.1 236.2,345.4 238.4,344.0 239.5,344.1 242.5,345.0 244.4,344.0 246.9,341.6 247.9,339.7 249.0,338.2 249.4,334.3 251.1,333.6 253.3,330.8 255.2,328.8 257.4,328.4 258.2,327.5 261.2,325.0 262.6,323.5 265.3,321.6 266.4,321.2 269.3,320.7 270.6,318.2 273.4,316.6 274.6,314.6 275.3,311.6 277.0,309.8 280.1,309.7 281.4,308.2 284.1,307.4 285.3,304.6 287.7,302.8 289.0,300.6 290.1,299.3 293.2,297.6 293.9,296.7 297.4,294.9 299.7,293.2 300.3,292.5 302.9,289.9 304.9,288.6 307.3,287.6 310.7,284.8 311.0,284.8 312.6,281.6 315.6,280.3 315.9,279.1 320.3,278.1 322.1,277.7 323.6,275.8 326.3,274.8 328.9,273.3 331.7,272.0 334.0,270.9 336.4,270.2 337.3,268.7 340.9,267.8 343.0,268.0 345.6,266.0 348.0,266.5 350.3,265.4 353.3,264.2 355.3,262.7 358.0,262.8 360.3,262.4 363.1,262.3 365.6,261.3 368.3,260.8 371.4,261.2 373.5,260.7 376.1,261.2 379.0,260.7 380.9,259.4"/><line x1="598.1" y1="160.8" x2="579.0" y2="69.3"/><line x1="176.1" y1="308.9" x2="220.8" y2="359.4"/></g>
<path d="M381.4 260.6h0M383.6 259.5h0M386.8 260.1h0M388.7 260.4h0M392.3 260.1h0M394.1 260.2h0M396.5 260.6h0M399.5 259.3h0M403.1 259.6h0M405.3 260.4h0M408.0 260.8h0M410.3 260.2h0M412.3 259.5h0M414.9 259.4h0M418.2 259.6h0M420.3 260.4h0M423.0 260.0h0M426.3 258.9h0M428.3 259.8h0M431.2 260.1h0M433.0 259.7h0M435.5 260.6h0M438.5 259.3h0M441.0 259.6h0M443.9 259.8h0M446.0 259.0h0M449.7 258.6h0M453.3 258.7h0M454.6 258.9h0M456.8 258.8h0M459.5 257.9h0M462.7 258.2h0M464.5 257.2h0M466.5 257.1h0M470.0 258.0h0M472.5 257.8h0M475.3 257.6h0M477.3 256.9h0M479.3 256.6h0M483.1 255.8h0M484.8 255.2h0M488.4 255.5h0M490.6 253.9h0M493.6 254.3h0M495.1 254.2h0M498.4 253.5h0M500.8 253.1h0M503.5 251.9h0M506.3 251.3h0M508.6 251.5h0M511.0 250.5h0M513.6 251.1h0M516.2 248.7h0M517.7 249.5h0M521.3 248.1h0M523.3 248.2h0M526.7 246.2h0M528.1 245.6h0M531.3 245.6h0M533.8 244.0h0M535.7 243.7h0M538.3 242.3h0M540.6 241.4h0M543.1 239.4h0M545.5 238.2h0M546.8 237.0h0M549.6 236.1h0M552.8 235.6h0M554.8 233.5h0M556.2 231.5h0M558.7 230.3h0M559.7 228.7h0M562.4 226.7h0M563.4 225.1h0M564.3 222.7h0M566.6 220.0h0M568.0 219.0h0M570.2 215.7h0M571.3 213.3h0M572.4 211.7h0M575.2 210.2h0M575.5 208.3h0M577.8 206.8h0M579.7 204.3h0M580.3 201.7h0M581.9 199.0h0M582.5 197.5h0M582.4 194.5h0M584.5 192.1h0M586.6 190.1h0M587.2 187.3h0M588.2 185.3h0M589.3 182.5h0M590.5 180.4h0M591.4 178.3h0M592.4 175.1h0M593.9 173.3h0M594.7 170.4h0M596.3 168.9h0M596.5 165.7h0M597.5 163.0h0M597.7 161.3h0M580.0 68.7h0M577.7 69.4h0M576.4 70.9h0M575.0 73.7h0M575.0 74.1h0M572.3 76.7h0M572.7 80.8h0M570.5 82.8h0M570.6 84.7h0M569.8 86.9h0M569.3 89.5h0M567.4 91.4h0M567.3 94.5h0M566.7 97.2h0M566.1 99.4h0M564.1 101.7h0M563.8 103.7h0M562.2 106.7h0M562.2 108.9h0M560.7 111.2h0M558.5 114.5h0M557.5 115.5h0M556.5 117.1h0M555.4 119.7h0M552.9 121.5h0M552.5 123.2h0M550.8 126.5h0M550.1 129.1h0M548.6 129.7h0M546.4 131.7h0M545.4 133.8h0M544.9 135.9h0M542.3 138.5h0M540.5 140.8h0M539.4 144.0h0M538.2 145.0h0M536.9 148.1h0M536.1 150.0h0M535.0 152.0h0M534.3 153.9h0M533.5 156.7h0M532.1 158.9h0M530.2 161.4h0M529.5 164.1h0M528.0 165.8h0M526.0 168.0h0M523.9 169.3h0M522.2 172.1h0M519.4 172.0h0M518.1 174.2h0M516.4 175.5h0M514.1 176.5h0M512.0 178.1h0M511.2 180.9h0M509.7 182.0h0M507.7 185.8h0M506.1 186.3h0M505.9 189.6h0M504.0 191.8h0M501.0 194.8h0M499.9 196.4h0M498.5 197.1h0M497.7 199.9h0M495.9 202.0h0M493.7 203.2h0M491.5 205.0h0M490.1 206.7h0M488.0 208.9h0M486.8 211.7h0M484.1 212.4h0M483.2 214.3h0M481.9 216.3h0M480.0 218.5h0M478.4 220.6h0M475.6 223.2h0M474.3 225.4h0M473.2 226.6h0M472.2 229.3h0M469.8 230.3h0M467.6 232.2h0M465.7 234.5h0M462.9 235.8h0M460.6 237.2h0M458.8 238.0h0M456.3 238.4h0M453.8 240.1h0M451.6 240.5h0M449.2 241.7h0M447.2 242.7h0M444.6 243.4h0M441.2 244.5h0M438.5 244.2h0M436.3 247.4h0M434.2 247.0h0M432.6 247.0h0M428.7 248.0h0M426.1 249.0h0M423.8 249.2h0M420.8 250.1h0M419.1 249.8h0M416.9 252.1h0M413.5 252.5h0M412.0 253.2h0M409.2 254.1h0M406.6 256.3h0M404.0 256.1h0M400.1 255.4h0M399.0 257.7h0M397.7 258.3h0M394.5 259.7h0M391.9 259.5h0M389.1 259.9h0M386.8 260.5h0M383.5 260.1h0M381.3 259.7h0M381.3 261.0h0M378.3 259.5h0M375.2 261.3h0M373.4 261.1h0M371.0 260.5h0M368.4 260.0h0M366.0 259.6h0M362.2 260.3h0M360.1 260.0h0M358.2 260.7h0M355.0 260.5h0M353.1 259.4h0M349.9 260.7h0M346.7 260.0h0M344.3 259.5h0M342.6 258.8h0M339.0 260.5h0M337.3 259.5h0M334.0 260.5h0M331.3 260.4h0M328.4 259.9h0M327.0 260.9h0M323.5 260.3h0M320.8 260.7h0M318.9 261.1h0M315.6 259.5h0M313.3 261.5h0M310.4 260.7h0M308.1 261.6h0M305.6 260.8h0M301.9 261.0h0M300.2 261.1h0M298.2 261.7h0M295.2 261.4h0M291.8 261.3h0M289.9 261.9h0M287.4 261.9h0M284.6 263.6h0M282.0 262.1h0M279.5 262.6h0M277.0 262.9h0M274.2 264.4h0M270.9 263.4h0M268.4 264.4h0M266.2 265.4h0M263.0 265.0h0M261.1 264.1h0M258.2 266.1h0M256.3 265.7h0M252.7 265.9h0M249.9 265.8h0M247.5 266.9h0M245.3 266.9h0M242.9 268.1h0M240.4 267.5h0M237.1 269.2h0M235.1 269.7h0M231.9 270.8h0M231.4 271.7h0M227.8 271.6h0M224.2 272.4h0M222.0 274.0h0M220.4 274.2h0M217.5 275.1h0M216.2 276.2h0M213.1 276.6h0M210.6 278.9h0M207.7 279.5h0M205.4 279.8h0M204.4 283.0h0M201.6 283.2h0M198.4 284.2h0M196.4 286.3h0M194.5 287.5h0M193.5 288.7h0M190.9 291.0h0M189.3 292.2h0M186.5 294.5h0M185.3 296.3h0M184.0 299.0h0M181.5 300.1h0M178.6 302.0h0M179.1 304.1h0M177.7 306.9h0M176.2 309.1h0M163.6 401.3h0M166.7 401.3h0M168.1 401.1h0M169.4 397.9h0M170.5 396.1h0M171.2 392.8h0M172.9 390.6h0M174.5 390.3h0M176.1 389.9h0M179.5 391.9h0M180.6 391.0h0M182.4 388.4h0M182.8 385.8h0M185.9 385.3h0M188.0 385.9h0M190.8 386.0h0M192.1 383.9h0M193.7 383.0h0M194.0 379.7h0M195.5 377.6h0M197.1 375.6h0M197.4 373.7h0M199.4 371.1h0M200.6 370.5h0M203.2 371.9h0M204.9 372.3h0M207.3 370.6h0M208.6 368.3h0M209.4 365.5h0M210.0 363.9h0M212.8 362.2h0M214.3 360.9h0M217.5 362.0h0M218.4 361.4h0M221.3 359.0h0M222.7 357.4h0M225.2 355.7h0M227.3 356.7h0M229.4 357.0h0M231.7 354.4h0M232.7 352.8h0M234.0 350.8h0M235.7 348.1h0M236.2 345.4h0M238.4 344.0h0M239.5 344.1h0M242.5 345.0h0M244.4 344.0h0M246.9 341.6h0M247.9 339.7h0M249.0 338.2h0M249.4 334.3h0M251.1 333.6h0M253.3 330.8h0M255.2 328.8h0M257.4 328.4h0M258.2 327.5h0M261.2 325.0h0M262.6 323.5h0M265.3 321.6h0M266.4 321.2h0M269.3 320.7h0M270.6 318.2h0M273.4 316.6h0M274.6 314.6h0M275.3 311.6h0M277.0 309.8h0M280.1 309.7h0M281.4 308.2h0M284.1 307.4h0M285.3 304.6h0M287.7 302.8h0M289.0 300.6h0M290.1 299.3h0M293.2 297.6h0M293.9 296.7h0M297.4 294.9h0M299.7 293.2h0M300.3 292.5h0M302.9 289.9h0M304.9 288.6h0M307.3 287.6h0M310.7 284.8h0M311.0 284.8h0M312.6 281.6h0M315.6 280.3h0M315.9 279.1h0M320.3 278.1h0M322.1 277.7h0M323.6 275.8h0M326.3 274.8h0M328.9 273.3h0M331.7 272.0h0M334.0 270.9h0M336.4 270.2h0M337.3 268.7h0M340.9 267.8h0M343.0 268.0h0M345.6 266.0h0M348.0 266.5h0M350.3 265.4h0M353.3 264.2h0M355.3 262.7h0M358.0 262.8h0M360.3 262.4h0M363.1 262.3h0M365.6 261.3h0M368.3 260.8h0M371.4 261.2h0M373.5 260.7h0M376.1 261.2h0M379.0 260.7h0M380.9 259.4h0" stroke="#9A8A24" stroke-width="5.8" stroke-linecap="round" fill="none"/>
<g stroke="#6E6E6E" fill="none" stroke-width="1.1"><polyline points="382.2,260.1 384.2,259.3 386.1,260.2 389.5,259.7 391.4,259.4 394.6,260.2 396.9,261.0 400.4,259.9 402.8,260.5 404.0,259.2 407.8,260.1 409.9,260.2 413.3,259.5 415.8,259.9 417.7,260.0 420.8,259.9 422.7,259.3 426.1,259.5 427.7,259.9 430.4,259.3 433.5,259.7 436.3,259.8 438.9,259.7 442.1,259.5 443.7,259.9 446.6,259.1 449.0,259.0 451.7,258.7 454.1,258.2 456.2,258.3 459.4,257.8 462.0,256.3 464.6,256.5 467.0,256.9 469.6,256.5 472.9,256.4 474.9,255.4 476.7,255.6 479.2,255.2 482.8,253.7 485.7,253.4 488.7,254.1 490.4,253.0 492.1,253.1 495.3,252.4 498.1,252.2 500.5,251.7 503.3,251.0 506.2,251.5 507.8,249.9 511.5,249.9 512.9,249.3 515.7,248.6 518.0,248.7 520.9,247.4 523.9,246.6 526.4,247.4 529.7,245.7 530.8,244.6 533.9,244.9 536.5,242.8 539.4,243.2 542.2,242.9 543.2,241.9 545.8,239.8 549.2,240.5 550.8,238.5 552.4,237.7 555.6,236.4 557.9,235.0 559.4,232.9 561.8,231.0 563.8,228.4 566.1,227.0 567.9,226.1 569.7,224.2 571.6,222.6 572.9,220.9 575.8,219.7 577.1,217.1 579.2,215.2 579.9,212.5 581.4,210.1 584.0,210.1 585.0,207.9 585.8,205.3 589.0,203.3 589.4,201.0 591.3,198.6 592.3,196.1 593.9,194.6 594.6,190.9 596.6,189.0"/><polyline points="573.1,63.9 572.4,66.1 571.0,67.9 570.9,70.1 570.8,72.4 569.2,75.2 567.7,78.3 567.4,79.6 566.4,81.8 566.0,85.4 565.7,88.3 565.4,90.8 565.0,92.4 564.5,96.1 564.6,97.8 564.2,100.4 562.8,103.4 560.5,104.6 558.9,103.7 557.4,102.5 556.7,106.0 556.0,107.3 554.9,111.6 554.0,112.5 554.9,115.8 554.9,118.6 553.7,119.6 552.8,123.3 551.8,124.9 550.4,127.6 549.4,127.7 545.4,129.6 543.7,128.0 540.6,128.1 540.4,130.7 539.7,132.4 538.1,134.9 535.9,137.3 534.8,139.6 532.6,138.3 531.4,139.9 530.6,141.9 530.6,145.5 530.1,147.9 529.2,150.1 527.8,152.8 527.5,155.2 526.9,157.4 525.8,160.5 523.0,159.7 522.4,158.1 519.1,156.7 516.9,155.4 515.4,156.0 514.5,158.5 512.7,160.1 511.7,163.0 510.8,164.8 508.8,166.7 505.8,165.5 505.4,167.7 503.9,168.9 503.1,171.1 502.1,174.8 501.9,176.8 500.2,179.2 499.8,182.7 497.8,183.5 497.3,186.0 495.7,188.4 494.8,190.6 493.1,192.5 491.5,195.8 490.5,197.5 488.7,199.3 488.0,202.4 487.7,204.3 485.6,206.6 483.9,207.9 481.3,208.0 479.2,208.9 477.5,211.7 477.2,214.1 476.1,216.1 474.3,218.9 474.4,222.1 472.4,223.4 471.0,225.6 468.5,227.3 466.5,228.5 465.7,230.1 462.6,232.1 460.7,234.0 459.0,235.5 456.7,237.4 453.7,237.1 451.4,238.6 450.0,240.6 448.1,241.4 445.2,242.0 442.5,243.1 441.1,243.2 437.9,244.0 436.1,245.4 433.9,247.6 431.6,248.2 428.2,247.3 425.8,248.2 423.2,249.2 420.5,249.7 418.7,250.1 416.3,250.8 413.2,252.3 411.2,253.4 409.0,251.8 407.5,254.2 404.0,255.0 402.1,257.2 399.4,256.0 397.9,258.5 394.6,259.0 391.1,259.8 389.2,259.2 386.7,260.1 383.9,260.8 382.2,260.5"/><polyline points="381.0,260.1 378.3,260.1 375.6,259.0 373.1,260.7 370.9,260.5 367.5,259.9 364.6,260.2 363.3,260.3 360.0,259.5 357.4,260.1 355.2,260.2 352.0,259.8 350.1,261.2 346.9,260.7 344.8,260.8 341.3,260.2 338.4,260.9 337.2,260.5 333.4,260.4 331.4,260.5 329.0,259.5 326.0,260.2 323.1,260.6 320.3,261.0 318.0,261.0 315.7,261.0 312.5,261.4 309.9,261.8 308.0,260.8 305.6,261.6 302.6,261.4 300.1,263.0 297.3,262.9 293.9,262.4 292.4,263.3 289.9,262.0 287.5,262.9 285.1,263.8 281.5,264.0 278.5,264.6 277.0,264.1 273.3,264.5 271.8,264.0 269.0,266.0 266.3,264.9 264.0,265.9 261.5,266.2 258.5,266.1 256.6,267.3 252.9,267.3 251.5,266.9 248.0,268.3 245.7,268.4 243.5,268.0 240.0,269.3 238.3,269.8 236.2,270.2 232.5,271.0 230.9,272.0 227.5,272.6 226.0,272.8 222.3,272.8 220.3,274.2 217.8,275.4 215.2,276.5 213.0,277.0 210.5,279.4 208.7,278.4 205.3,280.7 203.9,281.3 200.8,282.1 197.8,284.4 196.3,284.9 194.2,286.3 192.2,287.3 191.0,289.2 187.8,290.9 185.1,292.1 183.7,292.6 180.7,294.7 180.2,297.0 178.1,298.2 177.0,301.0 174.5,303.9 173.8,305.9 171.2,306.9 170.0,308.8 169.3,311.8"/><polyline points="176.9,402.0 179.0,403.6 180.1,403.8 181.1,402.1 181.8,398.8 182.9,396.8 183.4,394.6 184.1,391.8 185.3,390.6 186.5,387.5 189.3,386.4 190.2,389.1 192.4,389.8 194.2,389.5 196.4,388.3 197.3,384.4 198.5,382.7 199.7,380.7 201.3,378.6 202.1,378.4 203.8,380.7 205.1,383.0 206.6,381.4 208.2,379.5 208.3,377.2 210.2,375.0 212.5,372.2 213.6,371.9 214.8,373.0 219.2,374.2 221.0,373.6 221.8,372.1 223.0,368.6 225.8,366.4 225.8,365.2 227.7,364.0 229.6,366.0 231.4,367.7 232.8,366.2 234.2,365.2 234.6,362.7 235.7,359.5 237.0,358.1 237.3,354.6 239.8,352.9 243.0,353.2 244.5,352.1 246.6,351.7 247.7,349.9 249.4,348.5 250.9,345.3 252.2,343.2 254.8,342.9 257.3,345.0 258.7,344.7 260.1,341.9 261.7,339.2 262.6,337.3 262.6,335.0 264.3,332.5 266.6,331.9 268.4,330.6 271.6,329.8 272.2,327.8 274.2,324.3 275.8,322.9 276.6,321.1 277.4,318.1 279.9,316.9 282.7,317.9 285.5,317.4 286.8,314.3 287.3,312.8 290.1,311.4 291.5,308.8 294.1,308.3 295.7,307.5 298.1,305.5 300.3,302.9 301.2,301.8 302.4,299.0 303.5,295.5 305.8,295.3 307.2,294.8 310.0,292.2 312.5,290.1 313.4,288.2 315.2,287.0 316.6,284.3 317.5,282.6 320.3,281.6 323.1,280.4 325.1,278.0 327.4,277.2 329.9,275.2 332.0,273.7 334.0,273.5 336.3,272.9 338.8,271.7 340.7,270.8 344.2,269.6 345.9,268.5 349.3,268.1 351.5,266.3 353.4,264.3 355.7,262.8 358.5,263.0 360.6,262.2 364.1,261.6 366.1,261.0 368.8,260.8 371.7,260.5 372.4,260.8 377.4,260.1 377.6,260.3 380.3,259.7"/><line x1="596.0" y1="189.1" x2="567.8" y2="79.2"/><line x1="168.7" y1="311.6" x2="216.4" y2="373.3"/></g>
<path d="M382.2 260.1h0M384.2 259.3h0M386.1 260.2h0M389.5 259.7h0M391.4 259.4h0M394.6 260.2h0M396.9 261.0h0M400.4 259.9h0M402.8 260.5h0M404.0 259.2h0M407.8 260.1h0M409.9 260.2h0M413.3 259.5h0M415.8 259.9h0M417.7 260.0h0M420.8 259.9h0M422.7 259.3h0M426.1 259.5h0M427.7 259.9h0M430.4 259.3h0M433.5 259.7h0M436.3 259.8h0M438.9 259.7h0M442.1 259.5h0M443.7 259.9h0M446.6 259.1h0M449.0 259.0h0M451.7 258.7h0M454.1 258.2h0M456.2 258.3h0M459.4 257.8h0M462.0 256.3h0M464.6 256.5h0M467.0 256.9h0M469.6 256.5h0M472.9 256.4h0M474.9 255.4h0M476.7 255.6h0M479.2 255.2h0M482.8 253.7h0M485.7 253.4h0M488.7 254.1h0M490.4 253.0h0M492.1 253.1h0M495.3 252.4h0M498.1 252.2h0M500.5 251.7h0M503.3 251.0h0M506.2 251.5h0M507.8 249.9h0M511.5 249.9h0M512.9 249.3h0M515.7 248.6h0M518.0 248.7h0M520.9 247.4h0M523.9 246.6h0M526.4 247.4h0M529.7 245.7h0M530.8 244.6h0M533.9 244.9h0M536.5 242.8h0M539.4 243.2h0M542.2 242.9h0M543.2 241.9h0M545.8 239.8h0M549.2 240.5h0M550.8 238.5h0M552.4 237.7h0M555.6 236.4h0M557.9 235.0h0M559.4 232.9h0M561.8 231.0h0M563.8 228.4h0M566.1 227.0h0M567.9 226.1h0M569.7 224.2h0M571.6 222.6h0M572.9 220.9h0M575.8 219.7h0M577.1 217.1h0M579.2 215.2h0M579.9 212.5h0M581.4 210.1h0M584.0 210.1h0M585.0 207.9h0M585.8 205.3h0M589.0 203.3h0M589.4 201.0h0M591.3 198.6h0M592.3 196.1h0M593.9 194.6h0M594.6 190.9h0M596.6 189.0h0M573.1 63.9h0M572.4 66.1h0M571.0 67.9h0M570.9 70.1h0M570.8 72.4h0M569.2 75.2h0M567.7 78.3h0M567.4 79.6h0M566.4 81.8h0M566.0 85.4h0M565.7 88.3h0M565.4 90.8h0M565.0 92.4h0M564.5 96.1h0M564.6 97.8h0M564.2 100.4h0M562.8 103.4h0M560.5 104.6h0M558.9 103.7h0M557.4 102.5h0M556.7 106.0h0M556.0 107.3h0M554.9 111.6h0M554.0 112.5h0M554.9 115.8h0M554.9 118.6h0M553.7 119.6h0M552.8 123.3h0M551.8 124.9h0M550.4 127.6h0M549.4 127.7h0M545.4 129.6h0M543.7 128.0h0M540.6 128.1h0M540.4 130.7h0M539.7 132.4h0M538.1 134.9h0M535.9 137.3h0M534.8 139.6h0M532.6 138.3h0M531.4 139.9h0M530.6 141.9h0M530.6 145.5h0M530.1 147.9h0M529.2 150.1h0M527.8 152.8h0M527.5 155.2h0M526.9 157.4h0M525.8 160.5h0M523.0 159.7h0M522.4 158.1h0M519.1 156.7h0M516.9 155.4h0M515.4 156.0h0M514.5 158.5h0M512.7 160.1h0M511.7 163.0h0M510.8 164.8h0M508.8 166.7h0M505.8 165.5h0M505.4 167.7h0M503.9 168.9h0M503.1 171.1h0M502.1 174.8h0M501.9 176.8h0M500.2 179.2h0M499.8 182.7h0M497.8 183.5h0M497.3 186.0h0M495.7 188.4h0M494.8 190.6h0M493.1 192.5h0M491.5 195.8h0M490.5 197.5h0M488.7 199.3h0M488.0 202.4h0M487.7 204.3h0M485.6 206.6h0M483.9 207.9h0M481.3 208.0h0M479.2 208.9h0M477.5 211.7h0M477.2 214.1h0M476.1 216.1h0M474.3 218.9h0M474.4 222.1h0M472.4 223.4h0M471.0 225.6h0M468.5 227.3h0M466.5 228.5h0M465.7 230.1h0M462.6 232.1h0M460.7 234.0h0M459.0 235.5h0M456.7 237.4h0M453.7 237.1h0M451.4 238.6h0M450.0 240.6h0M448.1 241.4h0M445.2 242.0h0M442.5 243.1h0M441.1 243.2h0M437.9 244.0h0M436.1 245.4h0M433.9 247.6h0M431.6 248.2h0M428.2 247.3h0M425.8 248.2h0M423.2 249.2h0M420.5 249.7h0M418.7 250.1h0M416.3 250.8h0M413.2 252.3h0M411.2 253.4h0M409.0 251.8h0M407.5 254.2h0M404.0 255.0h0M402.1 257.2h0M399.4 256.0h0M397.9 258.5h0M394.6 259.0h0M391.1 259.8h0M389.2 259.2h0M386.7 260.1h0M383.9 260.8h0M382.2 260.5h0M381.0 260.1h0M378.3 260.1h0M375.6 259.0h0M373.1 260.7h0M370.9 260.5h0M367.5 259.9h0M364.6 260.2h0M363.3 260.3h0M360.0 259.5h0M357.4 260.1h0M355.2 260.2h0M352.0 259.8h0M350.1 261.2h0M346.9 260.7h0M344.8 260.8h0M341.3 260.2h0M338.4 260.9h0M337.2 260.5h0M333.4 260.4h0M331.4 260.5h0M329.0 259.5h0M326.0 260.2h0M323.1 260.6h0M320.3 261.0h0M318.0 261.0h0M315.7 261.0h0M312.5 261.4h0M309.9 261.8h0M308.0 260.8h0M305.6 261.6h0M302.6 261.4h0M300.1 263.0h0M297.3 262.9h0M293.9 262.4h0M292.4 263.3h0M289.9 262.0h0M287.5 262.9h0M285.1 263.8h0M281.5 264.0h0M278.5 264.6h0M277.0 264.1h0M273.3 264.5h0M271.8 264.0h0M269.0 266.0h0M266.3 264.9h0M264.0 265.9h0M261.5 266.2h0M258.5 266.1h0M256.6 267.3h0M252.9 267.3h0M251.5 266.9h0M248.0 268.3h0M245.7 268.4h0M243.5 268.0h0M240.0 269.3h0M238.3 269.8h0M236.2 270.2h0M232.5 271.0h0M230.9 272.0h0M227.5 272.6h0M226.0 272.8h0M222.3 272.8h0M220.3 274.2h0M217.8 275.4h0M215.2 276.5h0M213.0 277.0h0M210.5 279.4h0M208.7 278.4h0M205.3 280.7h0M203.9 281.3h0M200.8 282.1h0M197.8 284.4h0M196.3 284.9h0M194.2 286.3h0M192.2 287.3h0M191.0 289.2h0M187.8 290.9h0M185.1 292.1h0M183.7 292.6h0M180.7 294.7h0M180.2 297.0h0M178.1 298.2h0M177.0 301.0h0M174.5 303.9h0M173.8 305.9h0M171.2 306.9h0M170.0 308.8h0M169.3 311.8h0M176.9 402.0h0M179.0 403.6h0M180.1 403.8h0M181.1 402.1h0M181.8 398.8h0M182.9 396.8h0M183.4 394.6h0M184.1 391.8h0M185.3 390.6h0M186.5 387.5h0M189.3 386.4h0M190.2 389.1h0M192.4 389.8h0M194.2 389.5h0M196.4 388.3h0M197.3 384.4h0M198.5 382.7h0M199.7 380.7h0M201.3 378.6h0M202.1 378.4h0M203.8 380.7h0M205.1 383.0h0M206.6 381.4h0M208.2 379.5h0M208.3 377.2h0M210.2 375.0h0M212.5 372.2h0M213.6 371.9h0M214.8 373.0h0M219.2 374.2h0M221.0 373.6h0M221.8 372.1h0M223.0 368.6h0M225.8 366.4h0M225.8 365.2h0M227.7 364.0h0M229.6 366.0h0M231.4 367.7h0M232.8 366.2h0M234.2 365.2h0M234.6 362.7h0M235.7 359.5h0M237.0 358.1h0M237.3 354.6h0M239.8 352.9h0M243.0 353.2h0M244.5 352.1h0M246.6 351.7h0M247.7 349.9h0M249.4 348.5h0M250.9 345.3h0M252.2 343.2h0M254.8 342.9h0M257.3 345.0h0M258.7 344.7h0M260.1 341.9h0M261.7 339.2h0M262.6 337.3h0M262.6 335.0h0M264.3 332.5h0M266.6 331.9h0M268.4 330.6h0M271.6 329.8h0M272.2 327.8h0M274.2 324.3h0M275.8 322.9h0M276.6 321.1h0M277.4 318.1h0M279.9 316.9h0M282.7 317.9h0M285.5 317.4h0M286.8 314.3h0M287.3 312.8h0M290.1 311.4h0M291.5 308.8h0M294.1 308.3h0M295.7 307.5h0M298.1 305.5h0M300.3 302.9h0M301.2 301.8h0M302.4 299.0h0M303.5 295.5h0M305.8 295.3h0M307.2 294.8h0M310.0 292.2h0M312.5 290.1h0M313.4 288.2h0M315.2 287.0h0M316.6 284.3h0M317.5 282.6h0M320.3 281.6h0M323.1 280.4h0M325.1 278.0h0M327.4 277.2h0M329.9 275.2h0M332.0 273.7h0M334.0 273.5h0M336.3 272.9h0M338.8 271.7h0M340.7 270.8h0M344.2 269.6h0M345.9 268.5h0M349.3 268.1h0M351.5 266.3h0M353.4 264.3h0M355.7 262.8h0M358.5 263.0h0M360.6 262.2h0M364.1 261.6h0M366.1 261.0h0M368.8 260.8h0M371.7 260.5h0M372.4 260.8h0M377.4 260.1h0M377.6 260.3h0M380.3 259.7h0" stroke="#6E6E6E" stroke-width="5.8" stroke-linecap="round" fill="none"/>
<g stroke="#5A8868" fill="none" stroke-width="1.1"><polyline points="380.6,260.6 383.4,260.7 386.3,260.2 388.9,260.8 390.8,260.7 394.1,259.8 397.7,259.6 400.1,260.5 402.5,260.2 404.3,260.3 407.0,261.0 409.4,260.2 412.7,259.6 416.1,259.7 418.6,259.9 420.7,259.8 423.6,259.7 424.9,260.2 428.1,259.2 431.2,259.6 433.9,260.4 436.5,259.1 439.8,259.5 441.0,260.0 443.4,259.3 447.1,259.8 449.2,259.4 451.7,258.5 454.9,259.5 457.2,258.8 460.0,257.9 462.5,258.1 464.5,257.9 468.7,257.0 470.4,257.3 472.7,256.9 475.5,256.0 478.4,255.2 481.2,254.7 483.4,255.3 486.0,255.5 488.8,254.8 490.8,254.6 494.0,254.2 496.3,254.1 498.8,253.1 500.3,252.4 503.9,251.9 505.7,251.6 509.1,250.7 511.4,250.4 514.0,249.3 517.0,249.5 519.4,249.1 521.4,248.1 524.8,247.4 527.0,246.1 530.0,245.7 531.7,245.9 534.2,244.1 536.9,242.9 537.8,243.1 541.9,240.8 544.1,240.0 547.0,239.5 548.7,238.8 551.9,237.2 553.8,235.9 554.7,234.3 557.3,231.9 559.0,230.7 561.8,230.0 563.5,228.4 564.9,226.6 567.9,224.3 570.1,221.8 570.8,220.2 573.5,219.5 574.7,216.8 576.4,214.6 577.2,212.3 578.3,210.8 580.1,207.6 581.2,205.4 583.3,203.8 585.4,201.6 587.0,200.0 588.2,197.7 589.9,196.2 589.8,192.6 591.4,190.1 592.6,188.2 593.8,185.6 592.9,182.9 594.5,180.7 595.4,178.7 597.2,176.4 597.6,173.1 599.9,170.5 600.3,168.6"/><polyline points="591.3,70.2 589.7,73.2 590.6,75.4 591.2,79.3 589.5,80.0 589.3,82.5 588.2,86.5 588.3,90.0 587.6,91.0 587.1,93.4 586.7,97.3 586.6,99.5 585.4,101.7 585.1,104.4 584.3,106.0 584.4,108.9 581.2,112.2 581.4,113.5 580.9,116.9 579.4,119.5 578.4,121.1 578.1,123.6 575.7,126.0 574.6,127.7 573.4,129.6 571.8,131.8 570.4,133.5 568.6,134.1 567.3,132.9 565.2,134.2 563.3,136.4 562.3,139.3 561.5,140.7 559.1,144.5 557.2,144.8 557.1,148.1 556.3,151.1 555.2,153.2 554.6,155.3 552.5,157.7 552.8,159.7 550.7,161.9 549.9,162.8 548.4,166.3 546.8,168.5 545.5,171.6 543.3,171.9 541.3,173.8 538.6,175.3 538.1,176.3 537.0,179.4 534.3,180.7 533.0,182.0 529.8,182.9 529.1,186.2 527.0,188.4 526.4,190.9 524.9,192.3 522.9,194.2 521.4,196.6 520.4,199.1 519.3,201.2 518.3,204.0 516.6,204.5 515.2,207.2 511.7,209.6 510.6,211.3 508.8,213.3 507.6,214.9 505.3,216.3 504.6,218.5 500.5,220.7 499.7,220.7 498.1,223.3 495.8,225.5 495.0,227.0 492.9,229.4 490.9,231.4 488.3,232.7 486.8,234.1 483.9,235.4 482.1,236.7 479.9,237.6 477.6,238.4 475.1,239.4 472.2,240.1 469.7,240.6 467.7,241.3 464.6,242.4 461.4,242.7 460.0,244.4 457.5,244.6 455.2,245.4 454.1,246.0 449.7,246.6 447.5,246.0 445.0,247.4 442.2,247.0 440.3,248.8 438.2,249.1 435.0,249.5 432.3,251.1 429.8,250.9 426.5,251.3 424.0,252.8 421.8,253.2 419.8,254.3 416.8,253.9 414.5,255.1 412.2,256.2 409.3,256.7 407.6,257.0 404.4,256.7 401.9,257.7 399.2,258.1 397.5,259.1 394.4,260.0 391.7,259.8 389.5,260.4 386.4,260.4 383.7,260.8 381.9,261.5"/><polyline points="381.8,260.3 378.2,260.1 376.0,260.0 373.2,259.5 371.3,260.5 367.9,260.3 365.3,259.8 363.4,260.7 359.9,260.3 358.3,260.4 354.8,260.0 352.0,260.6 349.8,260.3 347.3,261.3 344.3,260.0 342.6,261.0 339.1,261.1 335.9,261.0 333.0,259.9 330.6,259.8 327.8,260.9 326.7,262.1 323.4,260.9 321.1,260.4 318.5,261.3 315.7,261.2 312.9,261.6 310.9,262.3 307.7,261.5 305.5,261.9 303.6,261.6 300.5,262.3 297.2,262.1 294.4,262.8 293.1,262.8 289.1,262.7 286.7,263.4 284.4,263.6 282.3,264.0 279.1,263.5 276.3,265.5 273.7,263.7 271.2,265.2 268.0,265.6 266.8,265.9 264.1,265.8 260.8,266.0 258.6,267.6 256.1,267.6 253.1,267.5 250.6,268.1 246.8,267.7 245.6,268.4 242.2,270.3 240.3,269.3 238.2,270.5 235.5,271.2 232.3,271.2 230.3,272.4 227.8,272.7 225.3,273.2 222.6,274.4 220.0,275.2 217.7,276.7 215.0,277.6 213.4,278.6 210.1,279.6 207.6,280.8 205.5,281.3 202.5,282.5 200.7,283.9 199.6,285.8 196.0,286.3 194.7,287.9 192.3,289.3 190.5,290.8 187.2,292.3 185.5,294.6 182.7,295.8 180.4,297.6"/><polyline points="175.5,408.3 177.5,410.4 178.0,411.7 179.5,411.4 181.3,409.4 181.4,407.4 183.6,404.8 185.4,405.1 187.9,404.9 189.8,403.1 191.1,401.3 191.3,399.0 194.4,399.9 194.7,402.2 197.2,400.0 198.1,397.5 199.9,395.8 200.3,393.3 202.9,393.4 205.3,393.7 206.5,391.4 206.8,388.6 207.8,386.0 209.6,384.0 210.7,382.1 213.0,381.9 214.3,382.0 216.4,378.8 216.9,378.8 219.4,377.0 221.7,378.6 223.1,381.1 223.7,380.0 225.8,379.3 226.8,376.1 228.8,376.5 230.2,378.8 232.2,377.8 234.4,374.9 236.2,372.9 237.0,372.7 239.3,373.4 240.7,370.9 241.5,368.8 242.9,366.8 245.2,364.0 246.7,364.5 248.7,362.4 249.1,360.9 251.3,358.9 252.5,355.7 255.0,357.7 257.1,358.4 258.8,355.9 260.8,353.5 261.8,351.1 263.5,350.8 265.5,348.3 266.5,346.0 268.4,344.1 269.0,341.3 272.4,341.0 274.3,340.3 276.2,337.8 276.5,335.9 277.9,333.5 279.1,331.7 282.4,332.1 283.0,329.2 285.2,327.7 286.6,324.6 288.0,322.9 290.9,322.3 293.0,320.5 294.7,318.9 296.5,316.3 297.6,315.5 300.4,314.3 302.2,311.8 302.8,308.9 304.2,306.9 305.6,305.5 307.9,303.2 309.2,300.3 310.4,299.6 312.1,297.2 312.7,294.8 316.2,293.5 317.8,291.2 320.0,289.2 321.0,287.1 322.3,286.2 325.6,283.4 327.3,282.9 329.7,281.0 330.9,278.4 333.6,277.0 335.2,276.4 338.0,275.2 338.9,272.9 341.5,273.2 344.5,270.9 346.4,269.5 348.6,268.0 350.7,267.3 353.1,265.5 355.5,265.1 358.4,263.7 360.7,262.7 362.1,262.3 365.6,260.8 368.1,261.2 371.6,261.1 372.5,260.8 376.2,261.5 378.0,260.5 380.8,259.2"/><line x1="600.3" y1="168.6" x2="576.4" y2="124.5"/><line x1="182.2" y1="298.0" x2="242.4" y2="367.8"/></g>
<path d="M380.6 260.6h0M383.4 260.7h0M386.3 260.2h0M388.9 260.8h0M390.8 260.7h0M394.1 259.8h0M397.7 259.6h0M400.1 260.5h0M402.5 260.2h0M404.3 260.3h0M407.0 261.0h0M409.4 260.2h0M412.7 259.6h0M416.1 259.7h0M418.6 259.9h0M420.7 259.8h0M423.6 259.7h0M424.9 260.2h0M428.1 259.2h0M431.2 259.6h0M433.9 260.4h0M436.5 259.1h0M439.8 259.5h0M441.0 260.0h0M443.4 259.3h0M447.1 259.8h0M449.2 259.4h0M451.7 258.5h0M454.9 259.5h0M457.2 258.8h0M460.0 257.9h0M462.5 258.1h0M464.5 257.9h0M468.7 257.0h0M470.4 257.3h0M472.7 256.9h0M475.5 256.0h0M478.4 255.2h0M481.2 254.7h0M483.4 255.3h0M486.0 255.5h0M488.8 254.8h0M490.8 254.6h0M494.0 254.2h0M496.3 254.1h0M498.8 253.1h0M500.3 252.4h0M503.9 251.9h0M505.7 251.6h0M509.1 250.7h0M511.4 250.4h0M514.0 249.3h0M517.0 249.5h0M519.4 249.1h0M521.4 248.1h0M524.8 247.4h0M527.0 246.1h0M530.0 245.7h0M531.7 245.9h0M534.2 244.1h0M536.9 242.9h0M537.8 243.1h0M541.9 240.8h0M544.1 240.0h0M547.0 239.5h0M548.7 238.8h0M551.9 237.2h0M553.8 235.9h0M554.7 234.3h0M557.3 231.9h0M559.0 230.7h0M561.8 230.0h0M563.5 228.4h0M564.9 226.6h0M567.9 224.3h0M570.1 221.8h0M570.8 220.2h0M573.5 219.5h0M574.7 216.8h0M576.4 214.6h0M577.2 212.3h0M578.3 210.8h0M580.1 207.6h0M581.2 205.4h0M583.3 203.8h0M585.4 201.6h0M587.0 200.0h0M588.2 197.7h0M589.9 196.2h0M589.8 192.6h0M591.4 190.1h0M592.6 188.2h0M593.8 185.6h0M592.9 182.9h0M594.5 180.7h0M595.4 178.7h0M597.2 176.4h0M597.6 173.1h0M599.9 170.5h0M600.3 168.6h0M591.3 70.2h0M589.7 73.2h0M590.6 75.4h0M591.2 79.3h0M589.5 80.0h0M589.3 82.5h0M588.2 86.5h0M588.3 90.0h0M587.6 91.0h0M587.1 93.4h0M586.7 97.3h0M586.6 99.5h0M585.4 101.7h0M585.1 104.4h0M584.3 106.0h0M584.4 108.9h0M581.2 112.2h0M581.4 113.5h0M580.9 116.9h0M579.4 119.5h0M578.4 121.1h0M578.1 123.6h0M575.7 126.0h0M574.6 127.7h0M573.4 129.6h0M571.8 131.8h0M570.4 133.5h0M568.6 134.1h0M567.3 132.9h0M565.2 134.2h0M563.3 136.4h0M562.3 139.3h0M561.5 140.7h0M559.1 144.5h0M557.2 144.8h0M557.1 148.1h0M556.3 151.1h0M555.2 153.2h0M554.6 155.3h0M552.5 157.7h0M552.8 159.7h0M550.7 161.9h0M549.9 162.8h0M548.4 166.3h0M546.8 168.5h0M545.5 171.6h0M543.3 171.9h0M541.3 173.8h0M538.6 175.3h0M538.1 176.3h0M537.0 179.4h0M534.3 180.7h0M533.0 182.0h0M529.8 182.9h0M529.1 186.2h0M527.0 188.4h0M526.4 190.9h0M524.9 192.3h0M522.9 194.2h0M521.4 196.6h0M520.4 199.1h0M519.3 201.2h0M518.3 204.0h0M516.6 204.5h0M515.2 207.2h0M511.7 209.6h0M510.6 211.3h0M508.8 213.3h0M507.6 214.9h0M505.3 216.3h0M504.6 218.5h0M500.5 220.7h0M499.7 220.7h0M498.1 223.3h0M495.8 225.5h0M495.0 227.0h0M492.9 229.4h0M490.9 231.4h0M488.3 232.7h0M486.8 234.1h0M483.9 235.4h0M482.1 236.7h0M479.9 237.6h0M477.6 238.4h0M475.1 239.4h0M472.2 240.1h0M469.7 240.6h0M467.7 241.3h0M464.6 242.4h0M461.4 242.7h0M460.0 244.4h0M457.5 244.6h0M455.2 245.4h0M454.1 246.0h0M449.7 246.6h0M447.5 246.0h0M445.0 247.4h0M442.2 247.0h0M440.3 248.8h0M438.2 249.1h0M435.0 249.5h0M432.3 251.1h0M429.8 250.9h0M426.5 251.3h0M424.0 252.8h0M421.8 253.2h0M419.8 254.3h0M416.8 253.9h0M414.5 255.1h0M412.2 256.2h0M409.3 256.7h0M407.6 257.0h0M404.4 256.7h0M401.9 257.7h0M399.2 258.1h0M397.5 259.1h0M394.4 260.0h0M391.7 259.8h0M389.5 260.4h0M386.4 260.4h0M383.7 260.8h0M381.9 261.5h0M381.8 260.3h0M378.2 260.1h0M376.0 260.0h0M373.2 259.5h0M371.3 260.5h0M367.9 260.3h0M365.3 259.8h0M363.4 260.7h0M359.9 260.3h0M358.3 260.4h0M354.8 260.0h0M352.0 260.6h0M349.8 260.3h0M347.3 261.3h0M344.3 260.0h0M342.6 261.0h0M339.1 261.1h0M335.9 261.0h0M333.0 259.9h0M330.6 259.8h0M327.8 260.9h0M326.7 262.1h0M323.4 260.9h0M321.1 260.4h0M318.5 261.3h0M315.7 261.2h0M312.9 261.6h0M310.9 262.3h0M307.7 261.5h0M305.5 261.9h0M303.6 261.6h0M300.5 262.3h0M297.2 262.1h0M294.4 262.8h0M293.1 262.8h0M289.1 262.7h0M286.7 263.4h0M284.4 263.6h0M282.3 264.0h0M279.1 263.5h0M276.3 265.5h0M273.7 263.7h0M271.2 265.2h0M268.0 265.6h0M266.8 265.9h0M264.1 265.8h0M260.8 266.0h0M258.6 267.6h0M256.1 267.6h0M253.1 267.5h0M250.6 268.1h0M246.8 267.7h0M245.6 268.4h0M242.2 270.3h0M240.3 269.3h0M238.2 270.5h0M235.5 271.2h0M232.3 271.2h0M230.3 272.4h0M227.8 272.7h0M225.3 273.2h0M222.6 274.4h0M220.0 275.2h0M217.7 276.7h0M215.0 277.6h0M213.4 278.6h0M210.1 279.6h0M207.6 280.8h0M205.5 281.3h0M202.5 282.5h0M200.7 283.9h0M199.6 285.8h0M196.0 286.3h0M194.7 287.9h0M192.3 289.3h0M190.5 290.8h0M187.2 292.3h0M185.5 294.6h0M182.7 295.8h0M180.4 297.6h0M175.5 408.3h0M177.5 410.4h0M178.0 411.7h0M179.5 411.4h0M181.3 409.4h0M181.4 407.4h0M183.6 404.8h0M185.4 405.1h0M187.9 404.9h0M189.8 403.1h0M191.1 401.3h0M191.3 399.0h0M194.4 399.9h0M194.7 402.2h0M197.2 400.0h0M198.1 397.5h0M199.9 395.8h0M200.3 393.3h0M202.9 393.4h0M205.3 393.7h0M206.5 391.4h0M206.8 388.6h0M207.8 386.0h0M209.6 384.0h0M210.7 382.1h0M213.0 381.9h0M214.3 382.0h0M216.4 378.8h0M216.9 378.8h0M219.4 377.0h0M221.7 378.6h0M223.1 381.1h0M223.7 380.0h0M225.8 379.3h0M226.8 376.1h0M228.8 376.5h0M230.2 378.8h0M232.2 377.8h0M234.4 374.9h0M236.2 372.9h0M237.0 372.7h0M239.3 373.4h0M240.7 370.9h0M241.5 368.8h0M242.9 366.8h0M245.2 364.0h0M246.7 364.5h0M248.7 362.4h0M249.1 360.9h0M251.3 358.9h0M252.5 355.7h0M255.0 357.7h0M257.1 358.4h0M258.8 355.9h0M260.8 353.5h0M261.8 351.1h0M263.5 350.8h0M265.5 348.3h0M266.5 346.0h0M268.4 344.1h0M269.0 341.3h0M272.4 341.0h0M274.3 340.3h0M276.2 337.8h0M276.5 335.9h0M277.9 333.5h0M279.1 331.7h0M282.4 332.1h0M283.0 329.2h0M285.2 327.7h0M286.6 324.6h0M288.0 322.9h0M290.9 322.3h0M293.0 320.5h0M294.7 318.9h0M296.5 316.3h0M297.6 315.5h0M300.4 314.3h0M302.2 311.8h0M302.8 308.9h0M304.2 306.9h0M305.6 305.5h0M307.9 303.2h0M309.2 300.3h0M310.4 299.6h0M312.1 297.2h0M312.7 294.8h0M316.2 293.5h0M317.8 291.2h0M320.0 289.2h0M321.0 287.1h0M322.3 286.2h0M325.6 283.4h0M327.3 282.9h0M329.7 281.0h0M330.9 278.4h0M333.6 277.0h0M335.2 276.4h0M338.0 275.2h0M338.9 272.9h0M341.5 273.2h0M344.5 270.9h0M346.4 269.5h0M348.6 268.0h0M350.7 267.3h0M353.1 265.5h0M355.5 265.1h0M358.4 263.7h0M360.7 262.7h0M362.1 262.3h0M365.6 260.8h0M368.1 261.2h0M371.6 261.1h0M372.5 260.8h0M376.2 261.5h0M378.0 260.5h0M380.8 259.2h0" stroke="#5A8868" stroke-width="5.8" stroke-linecap="round" fill="none"/>
<g stroke="#006C7E" fill="none" stroke-width="1.1"><polyline points="380.0,260.7 383.9,259.9 387.1,259.8 388.5,260.2 392.0,260.1 394.2,259.6 396.5,260.2 400.5,259.6 402.6,259.6 404.6,260.1 406.6,259.7 409.9,259.9 412.6,259.4 414.3,260.5 418.5,260.0 419.5,259.5 424.0,260.5 426.0,260.0 427.3,260.4 430.2,259.6 433.1,259.1 435.5,259.2 439.3,259.3 441.3,259.2 444.2,258.8 446.8,258.8 449.7,258.9 452.1,258.4 454.2,257.8 456.9,257.3 459.7,258.4 462.2,257.1 464.5,257.1 467.7,256.3 469.5,256.9 471.6,256.5 474.6,254.4 477.6,254.4 480.7,254.0 482.6,253.1 485.0,252.6 487.9,252.4 489.8,252.2 493.8,252.5 495.5,251.9 498.0,250.5 500.3,251.4 503.5,250.6 506.0,249.6 508.1,249.4 510.6,248.6 514.2,247.9 516.8,248.0 519.1,246.7 521.3,247.9 524.0,246.0 525.6,245.9 528.5,245.0 530.9,244.3 534.6,243.8 535.8,242.6 538.5,241.6 540.8,240.7 544.0,239.6 545.1,239.1 547.4,237.3 550.1,237.2 551.8,235.1 555.5,233.9 557.2,232.2 559.6,230.8 561.2,228.8 564.3,228.5 565.2,226.3 566.3,223.9 569.7,222.4 569.6,220.1 572.0,217.8 573.1,216.3 575.9,214.3 576.1,211.1 578.3,210.8 580.2,207.8 580.9,205.5 582.5,203.1 583.7,200.7 585.4,199.3 586.2,196.2 588.7,194.4 589.9,192.3 590.3,190.1 592.5,188.1 592.3,185.0 594.4,182.9 595.6,180.9 596.4,178.3 596.6,175.6 597.8,173.9 599.0,171.9 599.5,168.2 600.9,165.2 602.6,162.7"/><polyline points="598.1,89.6 597.5,91.8 597.5,95.0 596.2,97.2 595.0,99.9 594.7,101.6 593.8,103.5 592.1,107.4 591.8,108.2 588.9,110.8 588.0,111.5 587.3,114.2 585.6,116.6 583.6,117.7 582.3,119.6 579.7,121.4 578.5,123.1 577.1,124.4 574.1,124.7 572.8,126.7 570.7,128.8 569.7,130.6 568.4,132.6 567.2,135.1 565.5,137.1 565.3,140.3 563.8,142.6 562.0,144.2 562.3,147.0 560.5,148.4 558.9,151.1 558.0,154.2 556.5,154.2 554.5,156.1 553.3,159.2 552.1,160.4 549.8,163.2 549.1,164.1 546.0,166.3 545.0,168.4 543.2,169.8 541.0,173.1 541.2,175.3 537.7,175.7 536.0,177.5 533.7,178.7 531.3,180.0 530.2,182.3 528.1,184.0 525.8,185.9 525.3,188.5 522.9,191.1 522.6,192.3 520.6,193.8 518.7,196.0 517.2,198.1 515.6,199.9 514.0,202.1 511.3,203.6 510.0,206.0 508.6,208.4 506.2,210.2 505.8,212.5 503.7,214.9 502.1,216.5 499.4,217.3 497.9,220.4 496.8,221.0 494.3,223.6 492.5,225.7 491.1,228.0 489.6,229.3 487.9,231.8 487.0,233.4 484.1,234.9 482.8,236.8 480.2,238.9 477.9,239.2 475.1,240.1 472.2,241.3 469.8,242.8 469.0,244.4 465.7,245.0 463.9,245.0 460.4,246.4 458.0,245.8 456.1,246.9 453.3,247.7 450.5,247.5 447.0,248.9 446.1,248.7 443.1,250.3 439.8,251.2 438.2,251.3 435.6,251.4 432.8,252.5 429.7,253.5 427.2,254.5 424.9,254.3 423.0,255.0 420.7,255.4 416.9,256.0 414.6,257.0 412.6,257.9 409.8,257.5 406.5,257.9 404.7,257.8 402.4,258.2 399.8,258.4 396.7,259.4 394.7,259.8 392.1,260.2 389.5,258.8 384.9,258.9 384.4,260.5 381.0,259.8"/><polyline points="380.5,260.6 378.5,261.4 375.7,260.4 373.2,259.6 370.7,260.2 368.9,260.6 364.8,260.4 362.7,261.1 360.0,260.9 357.7,259.6 355.3,260.4 353.6,260.3 349.9,260.5 347.0,260.7 345.8,260.3 342.6,261.6 339.6,260.6 337.8,260.3 334.8,261.0 331.1,260.3 329.1,260.9 326.5,260.8 324.0,260.9 320.0,261.3 318.6,261.6 316.4,261.5 312.8,262.2 311.0,262.1 308.3,261.9 305.5,263.0 302.9,262.8 301.1,263.0 297.2,263.7 295.7,263.2 293.1,263.3 289.8,264.7 287.4,264.7 285.5,265.3 282.5,265.4 279.7,264.3 276.6,265.1 275.0,265.1 272.8,266.1 269.1,266.4 266.9,266.2 264.3,266.7 262.2,266.6 260.1,267.3 256.2,267.6 253.5,268.0 251.6,268.0 247.7,268.8 246.4,270.1 244.9,269.4 241.0,270.7 237.7,269.8 236.3,271.3 234.0,271.2 230.8,272.2 228.3,272.5 226.3,273.7 223.4,275.0 221.8,275.2 217.9,275.6 214.9,276.3 214.1,276.7 210.6,277.2 208.9,278.6 206.4,280.8 204.0,280.5 202.4,281.5 199.7,283.6 196.0,284.3 194.9,286.5 191.9,286.7 189.7,287.5 187.5,288.8 185.7,290.2 184.4,292.0 181.2,293.3 180.3,295.7 177.6,296.9 176.2,298.9 173.7,300.4 172.5,302.6 171.5,304.0 169.5,306.3 168.0,308.8 166.0,310.4 164.3,312.7 162.1,313.3 160.6,316.0"/><polyline points="186.2,413.6 188.8,412.8 189.2,410.6 190.9,408.5 193.2,407.6 194.2,405.3 197.2,403.5 198.6,403.8 201.4,403.6 202.6,402.4 204.3,400.8 206.5,400.2 209.5,401.5 211.6,402.8 213.5,401.7 214.8,400.0 217.3,401.1 219.5,398.2 221.3,397.2 222.7,396.4 223.9,395.6 226.9,395.6 228.6,394.7 230.2,391.4 230.8,389.5 231.1,386.2 233.2,384.2 236.2,383.6 236.8,382.6 239.6,380.2 240.7,378.2 243.4,376.7 244.9,376.4 247.5,375.0 248.8,374.1 252.2,374.6 253.8,373.5 256.1,372.3 258.2,369.5 259.6,370.6 261.6,369.7 265.2,368.9 266.4,366.7 267.4,365.9 269.2,362.7 270.9,360.6 272.3,359.3 273.3,356.9 275.5,354.8 278.2,353.2 278.9,352.1 281.2,350.4 282.1,348.1 283.4,345.4 284.0,342.5 287.4,341.4 289.8,340.1 290.7,337.7 292.0,335.3 294.2,333.4 296.6,332.1 297.4,329.9 297.4,328.0 299.6,325.4 301.3,324.2 303.1,321.5 305.1,320.3 307.1,316.9 308.2,315.3 309.3,312.3 310.1,310.5 311.2,307.5 312.6,305.9 313.8,304.5 315.8,300.9 318.4,299.4 318.0,297.1 319.5,295.2 321.5,293.4 323.1,291.1 325.2,290.4 326.7,286.8 328.5,284.4 330.8,284.3 332.1,281.9 335.1,281.6 337.2,278.3 339.2,277.9 340.2,276.5 342.9,275.8 345.7,272.8 347.7,272.2 349.3,269.3 351.4,267.9 353.2,266.9 356.7,265.5 358.4,264.4 360.0,262.7 363.4,262.3 366.0,261.4 368.5,261.8 370.9,261.0 373.8,261.0 376.3,260.3 378.4,260.2 381.5,260.2"/><line x1="601.2" y1="163.4" x2="579.9" y2="121.1"/><line x1="160.0" y1="315.5" x2="216.4" y2="400.3"/></g>
<path d="M380.0 260.7h0M383.9 259.9h0M387.1 259.8h0M388.5 260.2h0M392.0 260.1h0M394.2 259.6h0M396.5 260.2h0M400.5 259.6h0M402.6 259.6h0M404.6 260.1h0M406.6 259.7h0M409.9 259.9h0M412.6 259.4h0M414.3 260.5h0M418.5 260.0h0M419.5 259.5h0M424.0 260.5h0M426.0 260.0h0M427.3 260.4h0M430.2 259.6h0M433.1 259.1h0M435.5 259.2h0M439.3 259.3h0M441.3 259.2h0M444.2 258.8h0M446.8 258.8h0M449.7 258.9h0M452.1 258.4h0M454.2 257.8h0M456.9 257.3h0M459.7 258.4h0M462.2 257.1h0M464.5 257.1h0M467.7 256.3h0M469.5 256.9h0M471.6 256.5h0M474.6 254.4h0M477.6 254.4h0M480.7 254.0h0M482.6 253.1h0M485.0 252.6h0M487.9 252.4h0M489.8 252.2h0M493.8 252.5h0M495.5 251.9h0M498.0 250.5h0M500.3 251.4h0M503.5 250.6h0M506.0 249.6h0M508.1 249.4h0M510.6 248.6h0M514.2 247.9h0M516.8 248.0h0M519.1 246.7h0M521.3 247.9h0M524.0 246.0h0M525.6 245.9h0M528.5 245.0h0M530.9 244.3h0M534.6 243.8h0M535.8 242.6h0M538.5 241.6h0M540.8 240.7h0M544.0 239.6h0M545.1 239.1h0M547.4 237.3h0M550.1 237.2h0M551.8 235.1h0M555.5 233.9h0M557.2 232.2h0M559.6 230.8h0M561.2 228.8h0M564.3 228.5h0M565.2 226.3h0M566.3 223.9h0M569.7 222.4h0M569.6 220.1h0M572.0 217.8h0M573.1 216.3h0M575.9 214.3h0M576.1 211.1h0M578.3 210.8h0M580.2 207.8h0M580.9 205.5h0M582.5 203.1h0M583.7 200.7h0M585.4 199.3h0M586.2 196.2h0M588.7 194.4h0M589.9 192.3h0M590.3 190.1h0M592.5 188.1h0M592.3 185.0h0M594.4 182.9h0M595.6 180.9h0M596.4 178.3h0M596.6 175.6h0M597.8 173.9h0M599.0 171.9h0M599.5 168.2h0M600.9 165.2h0M602.6 162.7h0M598.1 89.6h0M597.5 91.8h0M597.5 95.0h0M596.2 97.2h0M595.0 99.9h0M594.7 101.6h0M593.8 103.5h0M592.1 107.4h0M591.8 108.2h0M588.9 110.8h0M588.0 111.5h0M587.3 114.2h0M585.6 116.6h0M583.6 117.7h0M582.3 119.6h0M579.7 121.4h0M578.5 123.1h0M577.1 124.4h0M574.1 124.7h0M572.8 126.7h0M570.7 128.8h0M569.7 130.6h0M568.4 132.6h0M567.2 135.1h0M565.5 137.1h0M565.3 140.3h0M563.8 142.6h0M562.0 144.2h0M562.3 147.0h0M560.5 148.4h0M558.9 151.1h0M558.0 154.2h0M556.5 154.2h0M554.5 156.1h0M553.3 159.2h0M552.1 160.4h0M549.8 163.2h0M549.1 164.1h0M546.0 166.3h0M545.0 168.4h0M543.2 169.8h0M541.0 173.1h0M541.2 175.3h0M537.7 175.7h0M536.0 177.5h0M533.7 178.7h0M531.3 180.0h0M530.2 182.3h0M528.1 184.0h0M525.8 185.9h0M525.3 188.5h0M522.9 191.1h0M522.6 192.3h0M520.6 193.8h0M518.7 196.0h0M517.2 198.1h0M515.6 199.9h0M514.0 202.1h0M511.3 203.6h0M510.0 206.0h0M508.6 208.4h0M506.2 210.2h0M505.8 212.5h0M503.7 214.9h0M502.1 216.5h0M499.4 217.3h0M497.9 220.4h0M496.8 221.0h0M494.3 223.6h0M492.5 225.7h0M491.1 228.0h0M489.6 229.3h0M487.9 231.8h0M487.0 233.4h0M484.1 234.9h0M482.8 236.8h0M480.2 238.9h0M477.9 239.2h0M475.1 240.1h0M472.2 241.3h0M469.8 242.8h0M469.0 244.4h0M465.7 245.0h0M463.9 245.0h0M460.4 246.4h0M458.0 245.8h0M456.1 246.9h0M453.3 247.7h0M450.5 247.5h0M447.0 248.9h0M446.1 248.7h0M443.1 250.3h0M439.8 251.2h0M438.2 251.3h0M435.6 251.4h0M432.8 252.5h0M429.7 253.5h0M427.2 254.5h0M424.9 254.3h0M423.0 255.0h0M420.7 255.4h0M416.9 256.0h0M414.6 257.0h0M412.6 257.9h0M409.8 257.5h0M406.5 257.9h0M404.7 257.8h0M402.4 258.2h0M399.8 258.4h0M396.7 259.4h0M394.7 259.8h0M392.1 260.2h0M389.5 258.8h0M384.9 258.9h0M384.4 260.5h0M381.0 259.8h0M380.5 260.6h0M378.5 261.4h0M375.7 260.4h0M373.2 259.6h0M370.7 260.2h0M368.9 260.6h0M364.8 260.4h0M362.7 261.1h0M360.0 260.9h0M357.7 259.6h0M355.3 260.4h0M353.6 260.3h0M349.9 260.5h0M347.0 260.7h0M345.8 260.3h0M342.6 261.6h0M339.6 260.6h0M337.8 260.3h0M334.8 261.0h0M331.1 260.3h0M329.1 260.9h0M326.5 260.8h0M324.0 260.9h0M320.0 261.3h0M318.6 261.6h0M316.4 261.5h0M312.8 262.2h0M311.0 262.1h0M308.3 261.9h0M305.5 263.0h0M302.9 262.8h0M301.1 263.0h0M297.2 263.7h0M295.7 263.2h0M293.1 263.3h0M289.8 264.7h0M287.4 264.7h0M285.5 265.3h0M282.5 265.4h0M279.7 264.3h0M276.6 265.1h0M275.0 265.1h0M272.8 266.1h0M269.1 266.4h0M266.9 266.2h0M264.3 266.7h0M262.2 266.6h0M260.1 267.3h0M256.2 267.6h0M253.5 268.0h0M251.6 268.0h0M247.7 268.8h0M246.4 270.1h0M244.9 269.4h0M241.0 270.7h0M237.7 269.8h0M236.3 271.3h0M234.0 271.2h0M230.8 272.2h0M228.3 272.5h0M226.3 273.7h0M223.4 275.0h0M221.8 275.2h0M217.9 275.6h0M214.9 276.3h0M214.1 276.7h0M210.6 277.2h0M208.9 278.6h0M206.4 280.8h0M204.0 280.5h0M202.4 281.5h0M199.7 283.6h0M196.0 284.3h0M194.9 286.5h0M191.9 286.7h0M189.7 287.5h0M187.5 288.8h0M185.7 290.2h0M184.4 292.0h0M181.2 293.3h0M180.3 295.7h0M177.6 296.9h0M176.2 298.9h0M173.7 300.4h0M172.5 302.6h0M171.5 304.0h0M169.5 306.3h0M168.0 308.8h0M166.0 310.4h0M164.3 312.7h0M162.1 313.3h0M160.6 316.0h0M186.2 413.6h0M188.8 412.8h0M189.2 410.6h0M190.9 408.5h0M193.2 407.6h0M194.2 405.3h0M197.2 403.5h0M198.6 403.8h0M201.4 403.6h0M202.6 402.4h0M204.3 400.8h0M206.5 400.2h0M209.5 401.5h0M211.6 402.8h0M213.5 401.7h0M214.8 400.0h0M217.3 401.1h0M219.5 398.2h0M221.3 397.2h0M222.7 396.4h0M223.9 395.6h0M226.9 395.6h0M228.6 394.7h0M230.2 391.4h0M230.8 389.5h0M231.1 386.2h0M233.2 384.2h0M236.2 383.6h0M236.8 382.6h0M239.6 380.2h0M240.7 378.2h0M243.4 376.7h0M244.9 376.4h0M247.5 375.0h0M248.8 374.1h0M252.2 374.6h0M253.8 373.5h0M256.1 372.3h0M258.2 369.5h0M259.6 370.6h0M261.6 369.7h0M265.2 368.9h0M266.4 366.7h0M267.4 365.9h0M269.2 362.7h0M270.9 360.6h0M272.3 359.3h0M273.3 356.9h0M275.5 354.8h0M278.2 353.2h0M278.9 352.1h0M281.2 350.4h0M282.1 348.1h0M283.4 345.4h0M284.0 342.5h0M287.4 341.4h0M289.8 340.1h0M290.7 337.7h0M292.0 335.3h0M294.2 333.4h0M296.6 332.1h0M297.4 329.9h0M297.4 328.0h0M299.6 325.4h0M301.3 324.2h0M303.1 321.5h0M305.1 320.3h0M307.1 316.9h0M308.2 315.3h0M309.3 312.3h0M310.1 310.5h0M311.2 307.5h0M312.6 305.9h0M313.8 304.5h0M315.8 300.9h0M318.4 299.4h0M318.0 297.1h0M319.5 295.2h0M321.5 293.4h0M323.1 291.1h0M325.2 290.4h0M326.7 286.8h0M328.5 284.4h0M330.8 284.3h0M332.1 281.9h0M335.1 281.6h0M337.2 278.3h0M339.2 277.9h0M340.2 276.5h0M342.9 275.8h0M345.7 272.8h0M347.7 272.2h0M349.3 269.3h0M351.4 267.9h0M353.2 266.9h0M356.7 265.5h0M358.4 264.4h0M360.0 262.7h0M363.4 262.3h0M366.0 261.4h0M368.5 261.8h0M370.9 261.0h0M373.8 261.0h0M376.3 260.3h0M378.4 260.2h0M381.5 260.2h0" stroke="#006C7E" stroke-width="5.8" stroke-linecap="round" fill="none"/>
<g stroke="#F49A00" fill="none" stroke-width="1.1"><polyline points="381.3,260.1 384.0,260.3 386.7,260.2 390.0,260.4 392.1,260.3 394.2,260.3 397.3,260.5 399.7,260.3 402.3,260.8 404.4,259.6 407.4,259.7 410.1,259.3 413.3,259.5 416.3,260.0 417.8,260.2 420.7,259.7 423.5,259.8 425.8,260.1 428.7,259.5 430.9,259.1 433.4,259.7 435.5,259.6 438.9,259.4 442.1,259.6 444.6,259.8 446.3,259.6 449.4,259.6 452.2,259.0 454.9,258.7 457.3,257.9 459.2,258.4 462.6,259.4 466.3,257.6 467.4,258.1 470.4,257.4 472.8,256.9 475.5,257.6 478.6,256.8 480.2,255.6 483.5,255.5 486.4,255.3 488.6,256.1 491.3,254.3 494.0,254.4 497.6,253.7 499.3,253.5 502.0,252.5 503.1,253.2 506.3,252.7 509.5,252.7 512.1,252.5 515.4,250.9 517.6,250.4 519.1,249.8 522.4,249.0 525.4,248.2 528.2,247.2 529.3,247.2 532.6,246.6 534.0,245.6 537.0,244.5 539.8,243.3 542.3,242.7 544.4,242.2 546.7,240.2 549.8,238.9 552.2,238.9 554.3,236.6 556.9,235.7 557.7,234.5 560.5,232.1 562.2,230.9 564.6,230.2 566.2,228.6 569.3,225.9 570.3,224.8 572.5,221.7 574.5,221.1 576.3,219.1 578.3,217.2 580.1,216.1 580.9,213.7 584.1,211.9 585.0,208.3 586.7,207.5 588.3,205.7 590.3,202.7 591.4,200.3 592.3,198.8"/><polyline points="592.0,75.3 591.5,77.1 590.3,79.6 589.2,82.8 589.0,84.5 588.6,87.2 587.6,88.6 586.1,91.6 584.7,94.9 583.4,96.0 580.7,98.0 581.4,100.9 580.6,103.7 580.9,106.0 580.4,109.4 578.1,111.2 576.9,114.0 575.0,114.3 573.2,116.1 572.8,119.0 571.8,120.7 570.0,123.7 568.3,125.0 567.0,126.6 564.9,128.8 564.5,130.9 562.0,133.4 560.1,133.3 558.2,133.9 555.7,136.2 554.9,138.6 554.0,140.6 552.3,143.3 551.0,144.7 548.5,144.5 547.3,146.8 546.9,149.2 544.5,151.8 542.8,153.2 540.5,154.6 539.4,157.4 538.9,160.7 537.9,162.8 535.7,164.7 534.8,167.1 533.6,168.5 531.2,169.8 529.8,173.4 528.3,174.8 527.0,177.6 525.7,179.6 523.0,179.5 520.6,181.8 518.5,184.0 518.1,184.5 516.0,186.3 514.1,187.4 512.9,189.6 510.7,192.2 509.4,194.6 507.5,195.5 504.7,197.1 502.8,199.5 502.5,202.8 501.7,204.0 499.1,206.5 497.5,208.4 497.1,211.1 495.4,212.7 493.6,214.1 491.3,216.3 490.8,220.0 489.6,221.9 487.8,223.1 487.0,226.0 486.1,228.1 484.1,231.0 483.2,233.3 481.1,234.6 480.0,236.4 477.0,239.2 475.3,240.6 472.7,241.7 470.1,241.1 468.2,242.9 466.4,243.9 463.3,244.0 461.1,244.7 458.2,245.8 455.4,246.5 452.9,247.9 451.0,248.8 447.4,249.3 445.0,249.9 442.3,250.3 440.8,251.5 437.3,252.0 436.2,252.2 432.6,253.1 430.4,253.7 427.9,253.9 424.5,254.4 422.2,255.0 419.6,254.6 417.9,255.7 414.8,256.6 412.2,256.6 410.4,256.8 406.7,258.4 404.5,258.2 402.2,258.6 399.9,259.1 395.7,259.2 393.6,259.3 392.5,259.6 389.7,260.0 386.3,260.5 384.3,259.6 381.6,260.2"/><polyline points="381.2,260.3 377.9,260.2 376.8,260.2 372.5,259.7 370.7,260.2 367.4,259.5 365.9,259.2 362.9,260.4 361.0,259.8 358.0,260.8 355.1,260.3 352.5,259.9 350.3,261.3 346.8,260.5 345.0,261.0 342.1,260.1 339.5,260.3 336.8,259.8 333.3,260.5 331.8,261.2 329.5,261.2 326.7,260.9 323.7,262.0 320.4,261.4 318.5,262.0 316.4,261.7 312.1,261.8 310.3,261.3 307.8,262.2 304.7,263.0 303.1,262.4 299.0,263.1 297.9,263.9 294.6,264.3 292.7,264.6 289.5,265.2 287.2,264.6 284.8,265.1 282.0,266.4 280.1,265.6 277.1,265.7 274.1,266.8 272.1,267.7 268.0,265.8 266.6,266.5 263.8,266.6 260.0,267.3 258.8,268.2 255.4,267.6 253.0,268.8 251.4,269.4 249.2,268.8 245.2,270.8 242.5,269.8 240.4,271.2 238.8,271.3 235.4,271.0 232.2,271.7 229.6,271.9 227.5,271.8 224.8,274.1 222.3,273.8 220.7,274.4 217.3,276.1 214.3,277.0 212.3,278.2 210.4,278.5 207.4,279.6 204.4,280.2 203.4,281.7 200.1,282.9 198.3,283.8 196.1,285.1 194.5,285.6 191.8,286.9 188.9,288.0 187.8,289.9 184.0,291.1 182.1,293.1 180.9,293.9 177.7,295.4 177.0,298.1 177.0,301.2 173.5,302.1 171.8,303.9 169.1,305.8 168.1,308.4 167.2,310.0"/><polyline points="189.6,420.4 191.0,417.6 193.0,418.2 194.8,421.2 196.3,422.8 198.0,422.2 200.8,421.3 203.0,422.6 205.0,422.4 206.4,419.8 206.3,417.8 207.3,415.8 211.0,413.1 211.5,415.8 213.8,415.9 215.2,413.8 216.5,410.0 217.5,408.1 218.9,406.8 219.6,405.3 222.0,405.7 223.6,405.1 224.8,403.3 227.7,401.1 229.8,402.4 231.8,401.4 233.6,400.2 235.2,401.1 237.3,402.1 238.9,404.5 240.5,403.7 241.9,401.8 243.0,398.6 244.6,397.6 245.3,395.4 248.3,396.4 249.9,394.9 252.1,392.6 253.5,392.2 256.7,393.2 257.6,390.5 258.9,387.7 260.1,386.3 262.2,385.5 265.1,385.7 266.8,383.8 267.5,380.7 267.3,379.0 271.1,377.8 272.6,377.1 274.9,376.6 276.4,374.9 278.8,373.1 280.5,372.4 282.4,370.5 283.4,368.0 285.8,365.7 285.8,363.3 287.0,360.7 290.9,361.0 291.6,359.6 293.7,356.8 294.6,354.9 294.9,352.8 296.5,349.5 298.4,348.8 300.3,346.2 300.7,343.9 301.3,342.1 303.3,339.0 304.6,336.3 305.0,334.3 306.3,331.1 308.1,329.4 308.7,327.1 309.7,324.3 310.2,322.7 311.5,319.6 311.8,316.6 312.7,315.0 314.7,312.3 317.2,310.6 318.0,308.2 319.5,307.0 321.2,304.1 321.9,301.8 323.9,299.2 324.8,298.0 327.0,296.8 328.9,294.0 330.7,292.2 332.0,290.2 334.6,289.3 336.0,286.7 337.9,285.0 340.2,282.2 341.1,281.3 342.6,278.7 343.7,277.0 345.3,275.5 348.1,273.0 349.9,270.9 351.7,270.0 354.2,267.8 356.2,266.1 357.4,265.1 361.4,263.4 363.9,263.3 364.7,263.2 368.3,262.3 370.8,261.6 372.9,261.2 376.3,260.9 378.3,260.3 381.2,260.2"/><line x1="592.9" y1="198.7" x2="560.0" y2="133.7"/><line x1="166.5" y1="310.1" x2="264.1" y2="385.9"/></g>
<path d="M381.3 260.1h0M384.0 260.3h0M386.7 260.2h0M390.0 260.4h0M392.1 260.3h0M394.2 260.3h0M397.3 260.5h0M399.7 260.3h0M402.3 260.8h0M404.4 259.6h0M407.4 259.7h0M410.1 259.3h0M413.3 259.5h0M416.3 260.0h0M417.8 260.2h0M420.7 259.7h0M423.5 259.8h0M425.8 260.1h0M428.7 259.5h0M430.9 259.1h0M433.4 259.7h0M435.5 259.6h0M438.9 259.4h0M442.1 259.6h0M444.6 259.8h0M446.3 259.6h0M449.4 259.6h0M452.2 259.0h0M454.9 258.7h0M457.3 257.9h0M459.2 258.4h0M462.6 259.4h0M466.3 257.6h0M467.4 258.1h0M470.4 257.4h0M472.8 256.9h0M475.5 257.6h0M478.6 256.8h0M480.2 255.6h0M483.5 255.5h0M486.4 255.3h0M488.6 256.1h0M491.3 254.3h0M494.0 254.4h0M497.6 253.7h0M499.3 253.5h0M502.0 252.5h0M503.1 253.2h0M506.3 252.7h0M509.5 252.7h0M512.1 252.5h0M515.4 250.9h0M517.6 250.4h0M519.1 249.8h0M522.4 249.0h0M525.4 248.2h0M528.2 247.2h0M529.3 247.2h0M532.6 246.6h0M534.0 245.6h0M537.0 244.5h0M539.8 243.3h0M542.3 242.7h0M544.4 242.2h0M546.7 240.2h0M549.8 238.9h0M552.2 238.9h0M554.3 236.6h0M556.9 235.7h0M557.7 234.5h0M560.5 232.1h0M562.2 230.9h0M564.6 230.2h0M566.2 228.6h0M569.3 225.9h0M570.3 224.8h0M572.5 221.7h0M574.5 221.1h0M576.3 219.1h0M578.3 217.2h0M580.1 216.1h0M580.9 213.7h0M584.1 211.9h0M585.0 208.3h0M586.7 207.5h0M588.3 205.7h0M590.3 202.7h0M591.4 200.3h0M592.3 198.8h0M592.0 75.3h0M591.5 77.1h0M590.3 79.6h0M589.2 82.8h0M589.0 84.5h0M588.6 87.2h0M587.6 88.6h0M586.1 91.6h0M584.7 94.9h0M583.4 96.0h0M580.7 98.0h0M581.4 100.9h0M580.6 103.7h0M580.9 106.0h0M580.4 109.4h0M578.1 111.2h0M576.9 114.0h0M575.0 114.3h0M573.2 116.1h0M572.8 119.0h0M571.8 120.7h0M570.0 123.7h0M568.3 125.0h0M567.0 126.6h0M564.9 128.8h0M564.5 130.9h0M562.0 133.4h0M560.1 133.3h0M558.2 133.9h0M555.7 136.2h0M554.9 138.6h0M554.0 140.6h0M552.3 143.3h0M551.0 144.7h0M548.5 144.5h0M547.3 146.8h0M546.9 149.2h0M544.5 151.8h0M542.8 153.2h0M540.5 154.6h0M539.4 157.4h0M538.9 160.7h0M537.9 162.8h0M535.7 164.7h0M534.8 167.1h0M533.6 168.5h0M531.2 169.8h0M529.8 173.4h0M528.3 174.8h0M527.0 177.6h0M525.7 179.6h0M523.0 179.5h0M520.6 181.8h0M518.5 184.0h0M518.1 184.5h0M516.0 186.3h0M514.1 187.4h0M512.9 189.6h0M510.7 192.2h0M509.4 194.6h0M507.5 195.5h0M504.7 197.1h0M502.8 199.5h0M502.5 202.8h0M501.7 204.0h0M499.1 206.5h0M497.5 208.4h0M497.1 211.1h0M495.4 212.7h0M493.6 214.1h0M491.3 216.3h0M490.8 220.0h0M489.6 221.9h0M487.8 223.1h0M487.0 226.0h0M486.1 228.1h0M484.1 231.0h0M483.2 233.3h0M481.1 234.6h0M480.0 236.4h0M477.0 239.2h0M475.3 240.6h0M472.7 241.7h0M470.1 241.1h0M468.2 242.9h0M466.4 243.9h0M463.3 244.0h0M461.1 244.7h0M458.2 245.8h0M455.4 246.5h0M452.9 247.9h0M451.0 248.8h0M447.4 249.3h0M445.0 249.9h0M442.3 250.3h0M440.8 251.5h0M437.3 252.0h0M436.2 252.2h0M432.6 253.1h0M430.4 253.7h0M427.9 253.9h0M424.5 254.4h0M422.2 255.0h0M419.6 254.6h0M417.9 255.7h0M414.8 256.6h0M412.2 256.6h0M410.4 256.8h0M406.7 258.4h0M404.5 258.2h0M402.2 258.6h0M399.9 259.1h0M395.7 259.2h0M393.6 259.3h0M392.5 259.6h0M389.7 260.0h0M386.3 260.5h0M384.3 259.6h0M381.6 260.2h0M381.2 260.3h0M377.9 260.2h0M376.8 260.2h0M372.5 259.7h0M370.7 260.2h0M367.4 259.5h0M365.9 259.2h0M362.9 260.4h0M361.0 259.8h0M358.0 260.8h0M355.1 260.3h0M352.5 259.9h0M350.3 261.3h0M346.8 260.5h0M345.0 261.0h0M342.1 260.1h0M339.5 260.3h0M336.8 259.8h0M333.3 260.5h0M331.8 261.2h0M329.5 261.2h0M326.7 260.9h0M323.7 262.0h0M320.4 261.4h0M318.5 262.0h0M316.4 261.7h0M312.1 261.8h0M310.3 261.3h0M307.8 262.2h0M304.7 263.0h0M303.1 262.4h0M299.0 263.1h0M297.9 263.9h0M294.6 264.3h0M292.7 264.6h0M289.5 265.2h0M287.2 264.6h0M284.8 265.1h0M282.0 266.4h0M280.1 265.6h0M277.1 265.7h0M274.1 266.8h0M272.1 267.7h0M268.0 265.8h0M266.6 266.5h0M263.8 266.6h0M260.0 267.3h0M258.8 268.2h0M255.4 267.6h0M253.0 268.8h0M251.4 269.4h0M249.2 268.8h0M245.2 270.8h0M242.5 269.8h0M240.4 271.2h0M238.8 271.3h0M235.4 271.0h0M232.2 271.7h0M229.6 271.9h0M227.5 271.8h0M224.8 274.1h0M222.3 273.8h0M220.7 274.4h0M217.3 276.1h0M214.3 277.0h0M212.3 278.2h0M210.4 278.5h0M207.4 279.6h0M204.4 280.2h0M203.4 281.7h0M200.1 282.9h0M198.3 283.8h0M196.1 285.1h0M194.5 285.6h0M191.8 286.9h0M188.9 288.0h0M187.8 289.9h0M184.0 291.1h0M182.1 293.1h0M180.9 293.9h0M177.7 295.4h0M177.0 298.1h0M177.0 301.2h0M173.5 302.1h0M171.8 303.9h0M169.1 305.8h0M168.1 308.4h0M167.2 310.0h0M189.6 420.4h0M191.0 417.6h0M193.0 418.2h0M194.8 421.2h0M196.3 422.8h0M198.0 422.2h0M200.8 421.3h0M203.0 422.6h0M205.0 422.4h0M206.4 419.8h0M206.3 417.8h0M207.3 415.8h0M211.0 413.1h0M211.5 415.8h0M213.8 415.9h0M215.2 413.8h0M216.5 410.0h0M217.5 408.1h0M218.9 406.8h0M219.6 405.3h0M222.0 405.7h0M223.6 405.1h0M224.8 403.3h0M227.7 401.1h0M229.8 402.4h0M231.8 401.4h0M233.6 400.2h0M235.2 401.1h0M237.3 402.1h0M238.9 404.5h0M240.5 403.7h0M241.9 401.8h0M243.0 398.6h0M244.6 397.6h0M245.3 395.4h0M248.3 396.4h0M249.9 394.9h0M252.1 392.6h0M253.5 392.2h0M256.7 393.2h0M257.6 390.5h0M258.9 387.7h0M260.1 386.3h0M262.2 385.5h0M265.1 385.7h0M266.8 383.8h0M267.5 380.7h0M267.3 379.0h0M271.1 377.8h0M272.6 377.1h0M274.9 376.6h0M276.4 374.9h0M278.8 373.1h0M280.5 372.4h0M282.4 370.5h0M283.4 368.0h0M285.8 365.7h0M285.8 363.3h0M287.0 360.7h0M290.9 361.0h0M291.6 359.6h0M293.7 356.8h0M294.6 354.9h0M294.9 352.8h0M296.5 349.5h0M298.4 348.8h0M300.3 346.2h0M300.7 343.9h0M301.3 342.1h0M303.3 339.0h0M304.6 336.3h0M305.0 334.3h0M306.3 331.1h0M308.1 329.4h0M308.7 327.1h0M309.7 324.3h0M310.2 322.7h0M311.5 319.6h0M311.8 316.6h0M312.7 315.0h0M314.7 312.3h0M317.2 310.6h0M318.0 308.2h0M319.5 307.0h0M321.2 304.1h0M321.9 301.8h0M323.9 299.2h0M324.8 298.0h0M327.0 296.8h0M328.9 294.0h0M330.7 292.2h0M332.0 290.2h0M334.6 289.3h0M336.0 286.7h0M337.9 285.0h0M340.2 282.2h0M341.1 281.3h0M342.6 278.7h0M343.7 277.0h0M345.3 275.5h0M348.1 273.0h0M349.9 270.9h0M351.7 270.0h0M354.2 267.8h0M356.2 266.1h0M357.4 265.1h0M361.4 263.4h0M363.9 263.3h0M364.7 263.2h0M368.3 262.3h0M370.8 261.6h0M372.9 261.2h0M376.3 260.9h0M378.3 260.3h0M381.2 260.2h0" stroke="#F49A00" stroke-width="5.8" stroke-linecap="round" fill="none"/>
</g>
<rect x="121.0" y="45.2" width="520.5" height="387.1" fill="none" stroke="#000" stroke-width="3.0"/>
<line x1="121.00" y1="432.32" x2="129.90" y2="432.32" stroke="#000" stroke-width="2.2" />
<text x="106.80" y="441.62" font-size="26" text-anchor="end" fill="#000" >-0.8</text>
<line x1="121.00" y1="410.80" x2="126.80" y2="410.80" stroke="#000" stroke-width="2.2" />
<line x1="121.00" y1="389.29" x2="129.90" y2="389.29" stroke="#000" stroke-width="2.2" />
<text x="106.80" y="398.59" font-size="26" text-anchor="end" fill="#000" >-0.6</text>
<line x1="121.00" y1="367.77" x2="126.80" y2="367.77" stroke="#000" stroke-width="2.2" />
<line x1="121.00" y1="346.26" x2="129.90" y2="346.26" stroke="#000" stroke-width="2.2" />
<text x="106.80" y="355.56" font-size="26" text-anchor="end" fill="#000" >-0.4</text>
<line x1="121.00" y1="324.75" x2="126.80" y2="324.75" stroke="#000" stroke-width="2.2" />
<line x1="121.00" y1="303.23" x2="129.90" y2="303.23" stroke="#000" stroke-width="2.2" />
<text x="106.80" y="312.53" font-size="26" text-anchor="end" fill="#000" >-0.2</text>
<line x1="121.00" y1="281.71" x2="126.80" y2="281.71" stroke="#000" stroke-width="2.2" />
<line x1="121.00" y1="260.20" x2="129.90" y2="260.20" stroke="#000" stroke-width="2.2" />
<text x="106.80" y="269.50" font-size="26" text-anchor="end" fill="#000" >0.0</text>
<line x1="121.00" y1="238.69" x2="126.80" y2="238.69" stroke="#000" stroke-width="2.2" />
<line x1="121.00" y1="217.17" x2="129.90" y2="217.17" stroke="#000" stroke-width="2.2" />
<text x="106.80" y="226.47" font-size="26" text-anchor="end" fill="#000" >0.2</text>
<line x1="121.00" y1="195.65" x2="126.80" y2="195.65" stroke="#000" stroke-width="2.2" />
<line x1="121.00" y1="174.14" x2="129.90" y2="174.14" stroke="#000" stroke-width="2.2" />
<text x="106.80" y="183.44" font-size="26" text-anchor="end" fill="#000" >0.4</text>
<line x1="121.00" y1="152.62" x2="126.80" y2="152.62" stroke="#000" stroke-width="2.2" />
<line x1="121.00" y1="131.11" x2="129.90" y2="131.11" stroke="#000" stroke-width="2.2" />
<text x="106.80" y="140.41" font-size="26" text-anchor="end" fill="#000" >0.6</text>
<line x1="121.00" y1="109.59" x2="126.80" y2="109.59" stroke="#000" stroke-width="2.2" />
<line x1="121.00" y1="88.08" x2="129.90" y2="88.08" stroke="#000" stroke-width="2.2" />
<text x="106.80" y="97.38" font-size="26" text-anchor="end" fill="#000" >0.8</text>
<line x1="121.00" y1="66.56" x2="126.80" y2="66.56" stroke="#000" stroke-width="2.2" />
<line x1="121.00" y1="45.05" x2="129.90" y2="45.05" stroke="#000" stroke-width="2.2" />
<text x="106.80" y="50.95" font-size="26" text-anchor="end" fill="#000" >1.0</text>
<line x1="121.00" y1="432.30" x2="121.00" y2="423.80" stroke="#000" stroke-width="2.2" />
<text x="121.00" y="463.30" font-size="26" text-anchor="middle" fill="#000" >-6</text>
<line x1="164.38" y1="432.30" x2="164.38" y2="426.50" stroke="#000" stroke-width="2.2" />
<line x1="207.75" y1="432.30" x2="207.75" y2="423.80" stroke="#000" stroke-width="2.2" />
<text x="207.75" y="463.30" font-size="26" text-anchor="middle" fill="#000" >-4</text>
<line x1="251.12" y1="432.30" x2="251.12" y2="426.50" stroke="#000" stroke-width="2.2" />
<line x1="294.50" y1="432.30" x2="294.50" y2="423.80" stroke="#000" stroke-width="2.2" />
<text x="294.50" y="463.30" font-size="26" text-anchor="middle" fill="#000" >-2</text>
<line x1="337.88" y1="432.30" x2="337.88" y2="426.50" stroke="#000" stroke-width="2.2" />
<line x1="381.25" y1="432.30" x2="381.25" y2="423.80" stroke="#000" stroke-width="2.2" />
<text x="381.25" y="463.30" font-size="26" text-anchor="middle" fill="#000" >0</text>
<line x1="424.62" y1="432.30" x2="424.62" y2="426.50" stroke="#000" stroke-width="2.2" />
<line x1="468.00" y1="432.30" x2="468.00" y2="423.80" stroke="#000" stroke-width="2.2" />
<text x="468.00" y="463.30" font-size="26" text-anchor="middle" fill="#000" >2</text>
<line x1="511.38" y1="432.30" x2="511.38" y2="426.50" stroke="#000" stroke-width="2.2" />
<line x1="554.75" y1="432.30" x2="554.75" y2="423.80" stroke="#000" stroke-width="2.2" />
<text x="554.75" y="463.30" font-size="26" text-anchor="middle" fill="#000" >4</text>
<line x1="598.12" y1="432.30" x2="598.12" y2="426.50" stroke="#000" stroke-width="2.2" />
<line x1="641.50" y1="432.30" x2="641.50" y2="423.80" stroke="#000" stroke-width="2.2" />
<text x="641.50" y="463.30" font-size="26" text-anchor="middle" fill="#000" >6</text>
<text x="385.20" y="495.20" font-size="25.6" text-anchor="middle" fill="#000" >Voltage (V)</text>
<text x="49.50" y="249.40" font-size="25.3" text-anchor="middle" fill="#000" transform="rotate(-90 49.5 249.4)">Current (µA)</text>
<line x1="241.5" y1="253.3" x2="189.7" y2="266.3" stroke="#000" stroke-width="3.3"/>
<polygon points="170.4,271.1 193.4,258.1 189.7,266.3 196.8,271.7" fill="#000"/>
<line x1="296.3" y1="377.5" x2="331.9" y2="337.0" stroke="#000" stroke-width="3.3"/>
<polygon points="345.0,322.1 333.4,345.9 331.9,337.0 322.9,336.6" fill="#000"/>
<line x1="515.7" y1="269.0" x2="564.1" y2="248.2" stroke="#000" stroke-width="3.3"/>
<polygon points="582.4,240.4 561.7,256.9 564.1,248.2 556.2,244.0" fill="#000"/>
<line x1="484.2" y1="167.6" x2="448.9" y2="207.5" stroke="#000" stroke-width="3.3"/>
<polygon points="435.7,222.4 447.4,198.7 448.9,207.5 457.8,207.9" fill="#000"/>
<clipPath id="clipb"><rect x="814.8" y="41.6" width="527.2" height="392.7"/></clipPath>
<g clip-path="url(#clipb)">
<g stroke="#000000" fill="none" stroke-width="1.1"><polyline points="1078.4,478.7 1082.1,390.4 1085.4,357.3 1088.7,338.7 1092.0,327.2 1095.3,316.1 1098.6,308.2 1101.9,300.0 1105.2,291.7 1108.5,286.5 1111.8,281.5 1115.1,277.2 1118.4,271.9 1121.6,267.3 1124.9,266.0 1128.2,262.1 1131.5,259.4 1134.8,256.5 1138.1,252.9 1141.4,248.5 1144.7,243.6 1148.0,237.5 1151.3,233.1 1154.6,227.7 1157.9,223.9 1161.2,219.2 1164.5,214.2 1167.8,209.7 1171.1,205.4 1174.4,200.0 1177.7,197.6 1181.0,193.9 1184.2,190.0 1187.5,188.7 1190.8,185.1 1194.1,181.7 1197.4,178.6 1200.7,174.7 1204.0,172.0 1207.3,168.0 1210.6,165.0 1213.9,162.0 1217.2,158.2 1220.5,157.0 1223.8,153.2 1227.1,150.6 1230.4,148.7 1233.7,143.2 1237.0,139.7 1240.3,137.6 1243.6,133.2 1246.8,129.5 1250.1,125.8 1253.4,121.2 1256.7,118.3 1260.0,113.3 1263.3,108.8 1266.6,106.5 1269.9,102.0 1273.0,98.9"/><polyline points="1270.4,66.4 1269.5,65.8 1266.2,68.6 1262.9,68.8 1259.6,71.3 1256.3,72.2 1253.0,74.8 1249.7,76.8 1246.4,77.1 1243.1,78.8 1239.8,81.0 1236.5,82.2 1233.2,82.5 1229.9,82.4 1226.6,84.0 1223.3,87.3 1220.1,87.9 1216.8,90.0 1213.5,92.2 1210.2,93.4 1206.9,95.0 1203.6,97.3 1200.3,98.7 1197.0,101.0 1193.7,102.6 1190.4,104.2 1187.1,107.3 1183.8,111.6 1180.5,114.0 1177.2,117.0 1173.9,118.9 1170.6,121.7 1167.3,125.4 1164.0,127.8 1160.7,131.1 1157.5,134.5 1154.2,137.4 1150.9,138.9 1147.6,141.0 1144.3,143.7 1141.0,145.8 1137.7,148.6 1134.4,151.1 1131.1,153.1 1127.8,155.1 1124.5,159.4 1121.2,162.3 1117.9,165.1 1114.6,167.0 1111.3,170.7 1108.0,176.4 1104.7,182.4 1101.4,189.7 1098.1,197.8 1094.9,213.7 1091.6,231.7 1088.3,248.6 1085.0,273.4 1081.7,478.7 1078.4,478.7"/><polyline points="1078.4,478.7 1075.1,431.1 1071.8,398.9 1068.5,373.2 1065.2,358.2 1061.9,343.5 1058.6,338.9 1055.3,332.9 1052.0,327.6 1048.7,323.0 1045.4,319.4 1042.2,315.9 1038.9,312.2 1035.6,308.8 1032.3,302.7 1029.0,298.8 1025.7,292.8 1022.4,289.2 1019.1,285.3 1015.8,279.7 1012.5,273.0 1009.2,267.1 1005.9,261.8 1002.6,256.4 999.3,251.5 996.0,246.6 992.7,238.8 989.4,230.3 986.1,224.2 982.8,218.8 979.6,213.0 976.3,209.7 973.0,204.3 969.7,199.4 966.4,195.5 963.1,192.6 959.8,190.8 956.5,188.0 953.2,184.7 949.9,182.3 946.6,179.5 943.3,177.3 940.0,174.6 936.7,172.5 933.4,168.8 930.1,165.7 926.8,162.5 923.5,160.5 920.2,158.4 917.0,156.1 913.7,153.6 910.4,150.2 907.1,147.9 903.8,145.8 900.5,143.6 897.2,141.7 893.9,138.4 890.6,136.2 887.3,135.0 884.0,132.5 880.7,130.0 877.4,127.6 874.1,123.9 870.8,121.3 867.5,118.1 864.2,115.4 860.9,113.4 857.9,109.8"/><polyline points="863.1,79.6 864.4,79.7 867.7,79.7 871.0,79.8 874.3,79.7 877.6,81.6 880.9,84.2 884.2,83.4 887.5,85.1 890.8,85.3 894.1,84.9 897.4,86.1 900.7,87.2 904.0,88.8 907.3,87.8 910.6,87.3 913.8,88.1 917.1,90.3 920.4,91.8 923.7,91.7 927.0,92.5 930.3,93.8 933.6,94.8 936.9,96.4 940.2,97.5 943.5,98.5 946.8,100.2 950.1,100.4 953.4,101.1 956.7,103.4 960.0,106.6 963.3,107.0 966.6,108.8 969.9,110.7 973.2,113.0 976.4,116.2 979.7,118.4 983.0,120.4 986.3,120.7 989.6,121.6 992.9,124.2 996.2,127.7 999.5,130.8 1002.8,132.5 1006.1,136.3 1009.4,140.5 1012.7,143.7 1016.0,147.5 1019.3,152.4 1022.6,156.1 1025.9,158.4 1029.2,161.1 1032.5,163.9 1035.8,167.7 1039.0,173.2 1042.3,178.2 1045.6,184.1 1048.9,193.4 1052.2,203.0 1055.5,213.8 1058.8,225.3 1062.1,237.5 1065.4,252.3 1068.7,263.8 1072.0,276.9 1075.3,294.2 1078.4,478.7"/><line x1="1273.0" y1="98.6" x2="1256.3" y2="72.8"/><line x1="857.9" y1="109.8" x2="902.7" y2="88.2"/></g>
<path d="M1078.4 478.7h0M1082.1 390.4h0M1085.4 357.3h0M1088.7 338.7h0M1092.0 327.2h0M1095.3 316.1h0M1098.6 308.2h0M1101.9 300.0h0M1105.2 291.7h0M1108.5 286.5h0M1111.8 281.5h0M1115.1 277.2h0M1118.4 271.9h0M1121.6 267.3h0M1124.9 266.0h0M1128.2 262.1h0M1131.5 259.4h0M1134.8 256.5h0M1138.1 252.9h0M1141.4 248.5h0M1144.7 243.6h0M1148.0 237.5h0M1151.3 233.1h0M1154.6 227.7h0M1157.9 223.9h0M1161.2 219.2h0M1164.5 214.2h0M1167.8 209.7h0M1171.1 205.4h0M1174.4 200.0h0M1177.7 197.6h0M1181.0 193.9h0M1184.2 190.0h0M1187.5 188.7h0M1190.8 185.1h0M1194.1 181.7h0M1197.4 178.6h0M1200.7 174.7h0M1204.0 172.0h0M1207.3 168.0h0M1210.6 165.0h0M1213.9 162.0h0M1217.2 158.2h0M1220.5 157.0h0M1223.8 153.2h0M1227.1 150.6h0M1230.4 148.7h0M1233.7 143.2h0M1237.0 139.7h0M1240.3 137.6h0M1243.6 133.2h0M1246.8 129.5h0M1250.1 125.8h0M1253.4 121.2h0M1256.7 118.3h0M1260.0 113.3h0M1263.3 108.8h0M1266.6 106.5h0M1269.9 102.0h0M1273.0 98.9h0M1270.4 66.4h0M1269.5 65.8h0M1266.2 68.6h0M1262.9 68.8h0M1259.6 71.3h0M1256.3 72.2h0M1253.0 74.8h0M1249.7 76.8h0M1246.4 77.1h0M1243.1 78.8h0M1239.8 81.0h0M1236.5 82.2h0M1233.2 82.5h0M1229.9 82.4h0M1226.6 84.0h0M1223.3 87.3h0M1220.1 87.9h0M1216.8 90.0h0M1213.5 92.2h0M1210.2 93.4h0M1206.9 95.0h0M1203.6 97.3h0M1200.3 98.7h0M1197.0 101.0h0M1193.7 102.6h0M1190.4 104.2h0M1187.1 107.3h0M1183.8 111.6h0M1180.5 114.0h0M1177.2 117.0h0M1173.9 118.9h0M1170.6 121.7h0M1167.3 125.4h0M1164.0 127.8h0M1160.7 131.1h0M1157.5 134.5h0M1154.2 137.4h0M1150.9 138.9h0M1147.6 141.0h0M1144.3 143.7h0M1141.0 145.8h0M1137.7 148.6h0M1134.4 151.1h0M1131.1 153.1h0M1127.8 155.1h0M1124.5 159.4h0M1121.2 162.3h0M1117.9 165.1h0M1114.6 167.0h0M1111.3 170.7h0M1108.0 176.4h0M1104.7 182.4h0M1101.4 189.7h0M1098.1 197.8h0M1094.9 213.7h0M1091.6 231.7h0M1088.3 248.6h0M1085.0 273.4h0M1081.7 478.7h0M1078.4 478.7h0M1078.4 478.7h0M1075.1 431.1h0M1071.8 398.9h0M1068.5 373.2h0M1065.2 358.2h0M1061.9 343.5h0M1058.6 338.9h0M1055.3 332.9h0M1052.0 327.6h0M1048.7 323.0h0M1045.4 319.4h0M1042.2 315.9h0M1038.9 312.2h0M1035.6 308.8h0M1032.3 302.7h0M1029.0 298.8h0M1025.7 292.8h0M1022.4 289.2h0M1019.1 285.3h0M1015.8 279.7h0M1012.5 273.0h0M1009.2 267.1h0M1005.9 261.8h0M1002.6 256.4h0M999.3 251.5h0M996.0 246.6h0M992.7 238.8h0M989.4 230.3h0M986.1 224.2h0M982.8 218.8h0M979.6 213.0h0M976.3 209.7h0M973.0 204.3h0M969.7 199.4h0M966.4 195.5h0M963.1 192.6h0M959.8 190.8h0M956.5 188.0h0M953.2 184.7h0M949.9 182.3h0M946.6 179.5h0M943.3 177.3h0M940.0 174.6h0M936.7 172.5h0M933.4 168.8h0M930.1 165.7h0M926.8 162.5h0M923.5 160.5h0M920.2 158.4h0M917.0 156.1h0M913.7 153.6h0M910.4 150.2h0M907.1 147.9h0M903.8 145.8h0M900.5 143.6h0M897.2 141.7h0M893.9 138.4h0M890.6 136.2h0M887.3 135.0h0M884.0 132.5h0M880.7 130.0h0M877.4 127.6h0M874.1 123.9h0M870.8 121.3h0M867.5 118.1h0M864.2 115.4h0M860.9 113.4h0M857.9 109.8h0M863.1 79.6h0M864.4 79.7h0M867.7 79.7h0M871.0 79.8h0M874.3 79.7h0M877.6 81.6h0M880.9 84.2h0M884.2 83.4h0M887.5 85.1h0M890.8 85.3h0M894.1 84.9h0M897.4 86.1h0M900.7 87.2h0M904.0 88.8h0M907.3 87.8h0M910.6 87.3h0M913.8 88.1h0M917.1 90.3h0M920.4 91.8h0M923.7 91.7h0M927.0 92.5h0M930.3 93.8h0M933.6 94.8h0M936.9 96.4h0M940.2 97.5h0M943.5 98.5h0M946.8 100.2h0M950.1 100.4h0M953.4 101.1h0M956.7 103.4h0M960.0 106.6h0M963.3 107.0h0M966.6 108.8h0M969.9 110.7h0M973.2 113.0h0M976.4 116.2h0M979.7 118.4h0M983.0 120.4h0M986.3 120.7h0M989.6 121.6h0M992.9 124.2h0M996.2 127.7h0M999.5 130.8h0M1002.8 132.5h0M1006.1 136.3h0M1009.4 140.5h0M1012.7 143.7h0M1016.0 147.5h0M1019.3 152.4h0M1022.6 156.1h0M1025.9 158.4h0M1029.2 161.1h0M1032.5 163.9h0M1035.8 167.7h0M1039.0 173.2h0M1042.3 178.2h0M1045.6 184.1h0M1048.9 193.4h0M1052.2 203.0h0M1055.5 213.8h0M1058.8 225.3h0M1062.1 237.5h0M1065.4 252.3h0M1068.7 263.8h0M1072.0 276.9h0M1075.3 294.2h0M1078.4 478.7h0" stroke="#000000" stroke-width="5.5" stroke-linecap="round" fill="none"/>
<g stroke="#1E2A66" fill="none" stroke-width="1.1"><polyline points="1078.4,478.7 1082.2,376.5 1085.5,347.9 1088.8,329.6 1092.1,319.6 1095.4,310.2 1098.7,302.6 1102.0,295.3 1105.3,289.8 1108.6,284.3 1111.9,278.4 1115.2,273.5 1118.5,269.3 1121.7,264.5 1125.0,260.8 1128.3,256.0 1131.6,253.7 1134.9,249.0 1138.2,243.9 1141.5,239.6 1144.8,234.7 1148.1,228.4 1151.4,222.9 1154.7,217.7 1158.0,213.5 1161.3,208.2 1164.6,204.0 1167.9,197.9 1171.2,193.4 1174.5,188.9 1177.8,184.7 1181.1,181.4 1184.3,180.6 1187.6,177.1 1190.9,174.6 1194.2,173.9 1197.5,172.0 1200.8,169.2 1204.1,165.6 1207.4,163.7 1210.7,162.3 1214.0,159.6 1217.3,156.7 1220.6,155.3 1223.9,152.8 1227.2,150.7 1230.5,149.0 1233.8,145.5 1237.1,143.6 1240.4,139.9 1243.7,137.6 1246.9,135.4 1250.2,130.9 1253.5,129.2 1256.8,125.9 1260.1,122.0 1263.4,120.5 1266.7,117.5 1270.0,114.2 1273.3,112.2 1276.6,108.2 1279.9,106.0 1283.2,102.0 1286.5,99.4 1289.8,96.4 1291.5,94.4"/><polyline points="1285.4,66.8 1282.8,69.1 1279.5,70.1 1276.2,73.6 1272.9,78.3 1269.6,78.3 1266.3,78.4 1263.0,78.2 1259.8,81.2 1256.5,82.5 1253.2,83.9 1249.9,84.6 1246.6,85.7 1243.3,87.8 1240.0,91.6 1236.7,93.9 1233.4,96.4 1230.1,97.1 1226.8,97.3 1223.5,97.0 1220.2,100.2 1216.9,101.4 1213.6,105.6 1210.3,108.3 1207.0,111.7 1203.7,114.7 1200.4,116.9 1197.2,120.2 1193.9,123.4 1190.6,125.1 1187.3,126.1 1184.0,127.7 1180.7,131.0 1177.4,134.9 1174.1,135.6 1170.8,137.7 1167.5,139.6 1164.2,139.8 1160.9,142.5 1157.6,143.8 1154.3,147.1 1151.0,149.6 1147.7,150.2 1144.4,151.7 1141.1,154.1 1137.8,155.7 1134.6,155.8 1131.3,157.8 1128.0,159.3 1124.7,162.6 1121.4,164.6 1118.1,169.6 1114.8,174.2 1111.5,179.6 1108.2,183.5 1104.9,190.1 1101.6,197.3 1098.3,208.8 1095.0,222.7 1091.7,238.7 1088.4,254.3 1085.1,278.7 1081.8,478.6 1078.4,478.7"/><polyline points="1078.4,478.7 1075.3,421.9 1072.0,387.6 1068.7,363.2 1065.4,348.0 1062.1,335.8 1058.8,329.8 1055.5,324.4 1052.2,317.6 1048.9,312.3 1045.6,307.0 1042.4,300.0 1039.1,295.0 1035.8,290.6 1032.5,286.5 1029.2,281.1 1025.9,275.4 1022.6,271.0 1019.3,267.7 1016.0,262.6 1012.7,257.9 1009.4,252.0 1006.1,245.9 1002.8,242.2 999.5,237.4 996.2,232.0 992.9,225.5 989.6,219.2 986.3,213.6 983.0,208.9 979.8,205.8 976.5,202.3 973.2,198.2 969.9,194.8 966.6,190.7 963.3,188.9 960.0,185.4 956.7,183.5 953.4,181.9 950.1,178.6 946.8,176.5 943.5,173.9 940.2,171.0 936.9,169.6 933.6,166.9 930.3,165.3 927.0,162.7 923.7,161.0 920.4,159.1 917.2,156.4 913.9,154.4 910.6,151.4 907.3,149.0 904.0,147.3 900.7,145.3 897.4,144.0 894.1,141.1 890.8,139.9 887.5,137.8 884.2,135.7 880.9,134.1 877.6,131.8 874.3,128.5 871.0,125.8 867.7,123.2 864.4,120.7 861.1,119.5 857.8,118.3 854.6,114.9 851.3,112.6 848.0,111.2 844.7,109.1 841.4,107.1 838.5,105.9"/><polyline points="845.6,79.3 847.8,79.9 851.1,81.5 854.4,81.2 857.7,81.2 861.0,82.0 864.3,84.3 867.6,84.7 870.9,85.4 874.2,86.5 877.5,87.8 880.8,87.9 884.1,88.8 887.4,89.7 890.7,91.5 893.9,90.8 897.2,91.7 900.5,92.2 903.8,94.5 907.1,95.0 910.4,95.8 913.7,97.9 917.0,98.5 920.3,99.0 923.6,99.6 926.9,101.6 930.2,104.3 933.5,105.6 936.8,106.0 940.1,106.8 943.4,109.4 946.7,110.7 950.0,112.7 953.3,114.6 956.5,116.2 959.8,118.4 963.1,119.9 966.4,122.8 969.7,126.2 973.0,127.7 976.3,129.5 979.6,132.4 982.9,136.0 986.2,138.1 989.5,139.6 992.8,143.4 996.1,146.4 999.4,148.5 1002.7,151.4 1006.0,155.5 1009.3,159.8 1012.6,162.8 1015.9,164.6 1019.1,168.2 1022.4,173.3 1025.7,176.6 1029.0,178.3 1032.3,182.1 1035.6,184.5 1038.9,187.5 1042.2,192.6 1045.5,198.0 1048.8,209.5 1052.1,220.2 1055.4,228.8 1058.7,240.6 1062.0,252.7 1065.3,269.2 1068.6,278.8 1071.9,286.7 1075.2,300.6 1078.4,478.7"/><line x1="1291.5" y1="94.2" x2="1273.9" y2="76.8"/><line x1="838.5" y1="106.4" x2="876.3" y2="87.3"/></g>
<path d="M1078.4 478.7h0M1082.2 376.5h0M1085.5 347.9h0M1088.8 329.6h0M1092.1 319.6h0M1095.4 310.2h0M1098.7 302.6h0M1102.0 295.3h0M1105.3 289.8h0M1108.6 284.3h0M1111.9 278.4h0M1115.2 273.5h0M1118.5 269.3h0M1121.7 264.5h0M1125.0 260.8h0M1128.3 256.0h0M1131.6 253.7h0M1134.9 249.0h0M1138.2 243.9h0M1141.5 239.6h0M1144.8 234.7h0M1148.1 228.4h0M1151.4 222.9h0M1154.7 217.7h0M1158.0 213.5h0M1161.3 208.2h0M1164.6 204.0h0M1167.9 197.9h0M1171.2 193.4h0M1174.5 188.9h0M1177.8 184.7h0M1181.1 181.4h0M1184.3 180.6h0M1187.6 177.1h0M1190.9 174.6h0M1194.2 173.9h0M1197.5 172.0h0M1200.8 169.2h0M1204.1 165.6h0M1207.4 163.7h0M1210.7 162.3h0M1214.0 159.6h0M1217.3 156.7h0M1220.6 155.3h0M1223.9 152.8h0M1227.2 150.7h0M1230.5 149.0h0M1233.8 145.5h0M1237.1 143.6h0M1240.4 139.9h0M1243.7 137.6h0M1246.9 135.4h0M1250.2 130.9h0M1253.5 129.2h0M1256.8 125.9h0M1260.1 122.0h0M1263.4 120.5h0M1266.7 117.5h0M1270.0 114.2h0M1273.3 112.2h0M1276.6 108.2h0M1279.9 106.0h0M1283.2 102.0h0M1286.5 99.4h0M1289.8 96.4h0M1291.5 94.4h0M1285.4 66.8h0M1282.8 69.1h0M1279.5 70.1h0M1276.2 73.6h0M1272.9 78.3h0M1269.6 78.3h0M1266.3 78.4h0M1263.0 78.2h0M1259.8 81.2h0M1256.5 82.5h0M1253.2 83.9h0M1249.9 84.6h0M1246.6 85.7h0M1243.3 87.8h0M1240.0 91.6h0M1236.7 93.9h0M1233.4 96.4h0M1230.1 97.1h0M1226.8 97.3h0M1223.5 97.0h0M1220.2 100.2h0M1216.9 101.4h0M1213.6 105.6h0M1210.3 108.3h0M1207.0 111.7h0M1203.7 114.7h0M1200.4 116.9h0M1197.2 120.2h0M1193.9 123.4h0M1190.6 125.1h0M1187.3 126.1h0M1184.0 127.7h0M1180.7 131.0h0M1177.4 134.9h0M1174.1 135.6h0M1170.8 137.7h0M1167.5 139.6h0M1164.2 139.8h0M1160.9 142.5h0M1157.6 143.8h0M1154.3 147.1h0M1151.0 149.6h0M1147.7 150.2h0M1144.4 151.7h0M1141.1 154.1h0M1137.8 155.7h0M1134.6 155.8h0M1131.3 157.8h0M1128.0 159.3h0M1124.7 162.6h0M1121.4 164.6h0M1118.1 169.6h0M1114.8 174.2h0M1111.5 179.6h0M1108.2 183.5h0M1104.9 190.1h0M1101.6 197.3h0M1098.3 208.8h0M1095.0 222.7h0M1091.7 238.7h0M1088.4 254.3h0M1085.1 278.7h0M1081.8 478.6h0M1078.4 478.7h0M1078.4 478.7h0M1075.3 421.9h0M1072.0 387.6h0M1068.7 363.2h0M1065.4 348.0h0M1062.1 335.8h0M1058.8 329.8h0M1055.5 324.4h0M1052.2 317.6h0M1048.9 312.3h0M1045.6 307.0h0M1042.4 300.0h0M1039.1 295.0h0M1035.8 290.6h0M1032.5 286.5h0M1029.2 281.1h0M1025.9 275.4h0M1022.6 271.0h0M1019.3 267.7h0M1016.0 262.6h0M1012.7 257.9h0M1009.4 252.0h0M1006.1 245.9h0M1002.8 242.2h0M999.5 237.4h0M996.2 232.0h0M992.9 225.5h0M989.6 219.2h0M986.3 213.6h0M983.0 208.9h0M979.8 205.8h0M976.5 202.3h0M973.2 198.2h0M969.9 194.8h0M966.6 190.7h0M963.3 188.9h0M960.0 185.4h0M956.7 183.5h0M953.4 181.9h0M950.1 178.6h0M946.8 176.5h0M943.5 173.9h0M940.2 171.0h0M936.9 169.6h0M933.6 166.9h0M930.3 165.3h0M927.0 162.7h0M923.7 161.0h0M920.4 159.1h0M917.2 156.4h0M913.9 154.4h0M910.6 151.4h0M907.3 149.0h0M904.0 147.3h0M900.7 145.3h0M897.4 144.0h0M894.1 141.1h0M890.8 139.9h0M887.5 137.8h0M884.2 135.7h0M880.9 134.1h0M877.6 131.8h0M874.3 128.5h0M871.0 125.8h0M867.7 123.2h0M864.4 120.7h0M861.1 119.5h0M857.8 118.3h0M854.6 114.9h0M851.3 112.6h0M848.0 111.2h0M844.7 109.1h0M841.4 107.1h0M838.5 105.9h0M845.6 79.3h0M847.8 79.9h0M851.1 81.5h0M854.4 81.2h0M857.7 81.2h0M861.0 82.0h0M864.3 84.3h0M867.6 84.7h0M870.9 85.4h0M874.2 86.5h0M877.5 87.8h0M880.8 87.9h0M884.1 88.8h0M887.4 89.7h0M890.7 91.5h0M893.9 90.8h0M897.2 91.7h0M900.5 92.2h0M903.8 94.5h0M907.1 95.0h0M910.4 95.8h0M913.7 97.9h0M917.0 98.5h0M920.3 99.0h0M923.6 99.6h0M926.9 101.6h0M930.2 104.3h0M933.5 105.6h0M936.8 106.0h0M940.1 106.8h0M943.4 109.4h0M946.7 110.7h0M950.0 112.7h0M953.3 114.6h0M956.5 116.2h0M959.8 118.4h0M963.1 119.9h0M966.4 122.8h0M969.7 126.2h0M973.0 127.7h0M976.3 129.5h0M979.6 132.4h0M982.9 136.0h0M986.2 138.1h0M989.5 139.6h0M992.8 143.4h0M996.1 146.4h0M999.4 148.5h0M1002.7 151.4h0M1006.0 155.5h0M1009.3 159.8h0M1012.6 162.8h0M1015.9 164.6h0M1019.1 168.2h0M1022.4 173.3h0M1025.7 176.6h0M1029.0 178.3h0M1032.3 182.1h0M1035.6 184.5h0M1038.9 187.5h0M1042.2 192.6h0M1045.5 198.0h0M1048.8 209.5h0M1052.1 220.2h0M1055.4 228.8h0M1058.7 240.6h0M1062.0 252.7h0M1065.3 269.2h0M1068.6 278.8h0M1071.9 286.7h0M1075.2 300.6h0M1078.4 478.7h0" stroke="#1E2A66" stroke-width="5.5" stroke-linecap="round" fill="none"/>
<g stroke="#8E0A8C" fill="none" stroke-width="1.1"><polyline points="1078.4,478.7 1081.5,409.9 1084.8,373.8 1088.1,350.1 1091.4,337.0 1094.6,324.1 1097.9,312.3 1101.2,304.1 1104.5,295.9 1107.8,287.8 1111.1,285.0 1114.4,279.2 1117.7,275.9 1121.0,272.6 1124.3,270.4 1127.6,267.4 1130.9,265.2 1134.2,261.6 1137.5,260.4 1140.8,257.2 1144.1,253.6 1147.4,246.8 1150.7,242.5 1154.0,238.0 1157.2,233.1 1160.5,230.5 1163.8,226.9 1167.1,223.5 1170.4,218.2 1173.7,214.4 1177.0,210.2 1180.3,205.5 1183.6,201.4 1186.9,196.5 1190.2,193.3 1193.5,188.9 1196.8,185.9 1200.1,183.5 1203.4,180.4 1206.7,176.8 1210.0,173.1 1213.3,169.4 1216.6,166.3 1219.9,162.2 1223.1,159.7 1226.4,155.7 1229.7,153.7 1233.0,150.3 1236.3,146.1 1239.6,142.7 1242.9,140.6 1246.2,136.9 1249.5,132.9 1252.8,129.1 1256.1,124.9 1259.4,122.5 1262.7,118.1 1266.0,114.4 1269.3,110.1 1272.6,105.2 1275.9,102.0 1279.2,97.6 1282.5,96.2 1285.7,94.1 1289.0,90.8 1290.6,88.8"/><polyline points="1275.4,67.4 1273.2,68.4 1269.9,68.1 1266.6,69.9 1263.3,72.2 1260.0,72.7 1256.7,73.8 1253.4,76.0 1250.1,77.8 1246.8,79.2 1243.5,79.8 1240.2,82.2 1236.9,84.9 1233.6,85.5 1230.3,86.2 1227.0,88.8 1223.7,90.3 1220.4,90.5 1217.1,91.7 1213.8,93.8 1210.6,96.0 1207.3,95.7 1204.0,97.1 1200.7,99.4 1197.4,101.2 1194.1,102.9 1190.8,105.9 1187.5,108.9 1184.2,113.1 1180.9,115.4 1177.6,118.3 1174.3,122.4 1171.0,125.1 1167.7,127.6 1164.4,130.2 1161.1,133.2 1157.8,137.0 1154.5,139.1 1151.2,140.5 1147.9,143.1 1144.7,145.7 1141.4,147.9 1138.1,148.3 1134.8,151.6 1131.5,155.2 1128.2,156.2 1124.9,157.7 1121.6,161.0 1118.3,164.1 1115.0,167.3 1111.7,171.6 1108.4,177.2 1105.1,184.6 1101.8,191.2 1098.5,199.8 1095.2,215.6 1091.9,232.7 1088.6,249.4 1085.3,271.9 1082.1,478.7 1078.4,478.7"/><polyline points="1078.4,478.7 1075.2,422.4 1071.9,388.8 1068.6,365.0 1065.3,349.4 1062.0,336.6 1058.7,331.0 1055.4,325.6 1052.1,320.3 1048.8,313.3 1045.5,307.3 1042.2,302.9 1039.0,298.1 1035.7,294.2 1032.4,288.8 1029.1,284.3 1025.8,278.7 1022.5,274.7 1019.2,270.4 1015.9,266.2 1012.6,261.6 1009.3,254.4 1006.0,249.6 1002.7,244.5 999.4,239.6 996.1,235.0 992.8,228.1 989.5,222.1 986.2,214.3 982.9,209.8 979.6,206.6 976.4,202.4 973.1,198.7 969.8,194.2 966.5,190.8 963.2,188.9 959.9,186.7 956.6,184.9 953.3,183.8 950.0,179.6 946.7,177.4 943.4,174.3 940.1,171.8 936.8,170.8 933.5,166.4 930.2,163.7 926.9,158.7 923.6,156.9 920.3,155.6 917.0,152.6 913.8,148.4 910.5,145.5 907.2,143.2 903.9,140.3 900.6,137.9 897.3,135.4 895.7,134.8"/><polyline points="858.8,79.9 860.5,80.6 863.8,81.3 867.1,80.5 870.4,81.1 873.7,81.5 877.0,81.1 880.3,83.1 883.5,83.8 886.8,84.4 890.1,86.1 893.4,86.2 896.7,88.4 900.0,88.2 903.3,88.6 906.6,89.3 909.9,89.5 913.2,89.9 916.5,90.7 919.8,90.9 923.1,91.9 926.4,93.4 929.7,94.7 933.0,96.5 936.3,97.8 939.6,98.1 942.9,99.7 946.1,100.8 949.4,102.7 952.7,104.6 956.0,105.3 959.3,106.9 962.6,107.8 965.9,110.4 969.2,112.7 972.5,113.8 975.8,116.6 979.1,118.7 982.4,121.9 985.7,123.4 989.0,125.7 992.3,127.0 995.6,129.8 998.9,132.7 1002.2,134.9 1005.5,137.8 1008.7,142.1 1012.0,144.8 1015.3,149.8 1018.6,152.4 1021.9,156.5 1025.2,160.3 1028.5,164.0 1031.8,166.7 1035.1,170.1 1038.4,173.1 1041.7,180.4 1045.0,186.3 1048.3,194.6 1051.6,203.3 1054.9,213.9 1058.2,225.1 1061.5,236.6 1064.8,251.7 1068.1,264.1 1071.3,276.0 1074.6,291.0 1078.4,478.7"/><line x1="1290.6" y1="88.7" x2="1278.7" y2="67.3"/><line x1="895.7" y1="134.2" x2="940.0" y2="99.0"/></g>
<path d="M1078.4 478.7h0M1081.5 409.9h0M1084.8 373.8h0M1088.1 350.1h0M1091.4 337.0h0M1094.6 324.1h0M1097.9 312.3h0M1101.2 304.1h0M1104.5 295.9h0M1107.8 287.8h0M1111.1 285.0h0M1114.4 279.2h0M1117.7 275.9h0M1121.0 272.6h0M1124.3 270.4h0M1127.6 267.4h0M1130.9 265.2h0M1134.2 261.6h0M1137.5 260.4h0M1140.8 257.2h0M1144.1 253.6h0M1147.4 246.8h0M1150.7 242.5h0M1154.0 238.0h0M1157.2 233.1h0M1160.5 230.5h0M1163.8 226.9h0M1167.1 223.5h0M1170.4 218.2h0M1173.7 214.4h0M1177.0 210.2h0M1180.3 205.5h0M1183.6 201.4h0M1186.9 196.5h0M1190.2 193.3h0M1193.5 188.9h0M1196.8 185.9h0M1200.1 183.5h0M1203.4 180.4h0M1206.7 176.8h0M1210.0 173.1h0M1213.3 169.4h0M1216.6 166.3h0M1219.9 162.2h0M1223.1 159.7h0M1226.4 155.7h0M1229.7 153.7h0M1233.0 150.3h0M1236.3 146.1h0M1239.6 142.7h0M1242.9 140.6h0M1246.2 136.9h0M1249.5 132.9h0M1252.8 129.1h0M1256.1 124.9h0M1259.4 122.5h0M1262.7 118.1h0M1266.0 114.4h0M1269.3 110.1h0M1272.6 105.2h0M1275.9 102.0h0M1279.2 97.6h0M1282.5 96.2h0M1285.7 94.1h0M1289.0 90.8h0M1290.6 88.8h0M1275.4 67.4h0M1273.2 68.4h0M1269.9 68.1h0M1266.6 69.9h0M1263.3 72.2h0M1260.0 72.7h0M1256.7 73.8h0M1253.4 76.0h0M1250.1 77.8h0M1246.8 79.2h0M1243.5 79.8h0M1240.2 82.2h0M1236.9 84.9h0M1233.6 85.5h0M1230.3 86.2h0M1227.0 88.8h0M1223.7 90.3h0M1220.4 90.5h0M1217.1 91.7h0M1213.8 93.8h0M1210.6 96.0h0M1207.3 95.7h0M1204.0 97.1h0M1200.7 99.4h0M1197.4 101.2h0M1194.1 102.9h0M1190.8 105.9h0M1187.5 108.9h0M1184.2 113.1h0M1180.9 115.4h0M1177.6 118.3h0M1174.3 122.4h0M1171.0 125.1h0M1167.7 127.6h0M1164.4 130.2h0M1161.1 133.2h0M1157.8 137.0h0M1154.5 139.1h0M1151.2 140.5h0M1147.9 143.1h0M1144.7 145.7h0M1141.4 147.9h0M1138.1 148.3h0M1134.8 151.6h0M1131.5 155.2h0M1128.2 156.2h0M1124.9 157.7h0M1121.6 161.0h0M1118.3 164.1h0M1115.0 167.3h0M1111.7 171.6h0M1108.4 177.2h0M1105.1 184.6h0M1101.8 191.2h0M1098.5 199.8h0M1095.2 215.6h0M1091.9 232.7h0M1088.6 249.4h0M1085.3 271.9h0M1082.1 478.7h0M1078.4 478.7h0M1078.4 478.7h0M1075.2 422.4h0M1071.9 388.8h0M1068.6 365.0h0M1065.3 349.4h0M1062.0 336.6h0M1058.7 331.0h0M1055.4 325.6h0M1052.1 320.3h0M1048.8 313.3h0M1045.5 307.3h0M1042.2 302.9h0M1039.0 298.1h0M1035.7 294.2h0M1032.4 288.8h0M1029.1 284.3h0M1025.8 278.7h0M1022.5 274.7h0M1019.2 270.4h0M1015.9 266.2h0M1012.6 261.6h0M1009.3 254.4h0M1006.0 249.6h0M1002.7 244.5h0M999.4 239.6h0M996.1 235.0h0M992.8 228.1h0M989.5 222.1h0M986.2 214.3h0M982.9 209.8h0M979.6 206.6h0M976.4 202.4h0M973.1 198.7h0M969.8 194.2h0M966.5 190.8h0M963.2 188.9h0M959.9 186.7h0M956.6 184.9h0M953.3 183.8h0M950.0 179.6h0M946.7 177.4h0M943.4 174.3h0M940.1 171.8h0M936.8 170.8h0M933.5 166.4h0M930.2 163.7h0M926.9 158.7h0M923.6 156.9h0M920.3 155.6h0M917.0 152.6h0M913.8 148.4h0M910.5 145.5h0M907.2 143.2h0M903.9 140.3h0M900.6 137.9h0M897.3 135.4h0M895.7 134.8h0M858.8 79.9h0M860.5 80.6h0M863.8 81.3h0M867.1 80.5h0M870.4 81.1h0M873.7 81.5h0M877.0 81.1h0M880.3 83.1h0M883.5 83.8h0M886.8 84.4h0M890.1 86.1h0M893.4 86.2h0M896.7 88.4h0M900.0 88.2h0M903.3 88.6h0M906.6 89.3h0M909.9 89.5h0M913.2 89.9h0M916.5 90.7h0M919.8 90.9h0M923.1 91.9h0M926.4 93.4h0M929.7 94.7h0M933.0 96.5h0M936.3 97.8h0M939.6 98.1h0M942.9 99.7h0M946.1 100.8h0M949.4 102.7h0M952.7 104.6h0M956.0 105.3h0M959.3 106.9h0M962.6 107.8h0M965.9 110.4h0M969.2 112.7h0M972.5 113.8h0M975.8 116.6h0M979.1 118.7h0M982.4 121.9h0M985.7 123.4h0M989.0 125.7h0M992.3 127.0h0M995.6 129.8h0M998.9 132.7h0M1002.2 134.9h0M1005.5 137.8h0M1008.7 142.1h0M1012.0 144.8h0M1015.3 149.8h0M1018.6 152.4h0M1021.9 156.5h0M1025.2 160.3h0M1028.5 164.0h0M1031.8 166.7h0M1035.1 170.1h0M1038.4 173.1h0M1041.7 180.4h0M1045.0 186.3h0M1048.3 194.6h0M1051.6 203.3h0M1054.9 213.9h0M1058.2 225.1h0M1061.5 236.6h0M1064.8 251.7h0M1068.1 264.1h0M1071.3 276.0h0M1074.6 291.0h0M1078.4 478.7h0" stroke="#8E0A8C" stroke-width="5.5" stroke-linecap="round" fill="none"/>
<g stroke="#941C62" fill="none" stroke-width="1.1"><polyline points="1078.4,478.7 1081.4,408.1 1084.7,371.9 1088.0,347.8 1091.3,335.0 1094.6,322.1 1097.9,310.9 1101.2,303.0 1104.5,295.1 1107.7,289.1 1111.0,284.4 1114.3,279.9 1117.6,276.8 1120.9,273.4 1124.2,270.3 1127.5,268.1 1130.8,263.7 1134.1,260.6 1137.4,258.1 1140.7,255.6 1144.0,251.7 1147.3,245.8 1150.6,240.9 1153.9,236.2 1157.2,231.3 1160.5,227.4 1163.8,223.2 1167.1,218.7 1170.3,214.3 1173.6,210.1 1176.9,205.7 1180.2,202.5 1183.5,199.2 1186.8,195.7 1190.1,192.0 1193.4,188.1 1196.7,185.1 1200.0,182.5 1203.3,180.0 1206.6,176.1 1209.9,171.0 1213.2,167.4 1216.5,163.8 1219.8,159.8 1223.1,157.7 1226.4,155.1 1229.7,151.0 1232.9,147.8 1236.2,145.4 1239.5,143.0 1242.8,140.7 1246.1,137.1 1249.4,132.8 1252.7,129.6 1256.0,125.6 1259.3,121.5 1262.6,117.4 1265.9,114.4 1269.2,109.9 1272.5,105.6 1275.8,101.9 1279.1,98.9 1282.4,97.4 1282.7,97.4"/><polyline points="1287.9,66.3 1286.0,67.1 1282.7,67.9 1279.4,69.9 1276.1,72.7 1272.8,75.1 1269.5,77.9 1266.2,81.6 1262.9,83.8 1259.6,85.0 1256.3,85.0 1253.0,87.1 1249.7,88.7 1246.4,90.7 1243.2,93.4 1239.9,94.2 1236.6,95.6 1233.3,97.4 1230.0,99.4 1226.7,101.9 1223.4,102.0 1220.1,104.8 1216.8,109.0 1213.5,112.4 1210.2,116.7 1206.9,120.9 1203.6,124.0 1200.3,127.3 1197.0,130.2 1193.7,134.0 1190.4,135.9 1187.1,138.1 1183.8,141.5 1180.6,142.6 1177.3,144.0 1174.0,147.7 1170.7,149.2 1167.4,150.9 1164.1,152.4 1160.8,152.3 1157.5,153.7 1154.2,155.4 1150.9,157.7 1147.6,161.1 1144.3,163.7 1141.0,166.6 1137.7,169.8 1134.4,172.0 1131.1,176.0 1127.8,179.9 1124.5,182.8 1121.2,187.8 1118.0,190.5 1114.7,195.6 1111.4,199.6 1108.1,205.8 1104.8,214.2 1101.5,221.7 1098.2,232.3 1094.9,245.2 1091.6,258.2 1088.3,274.4 1085.0,293.8 1081.7,478.7 1078.4,478.7"/><polyline points="1078.4,478.7 1075.3,417.6 1072.0,383.3 1068.7,359.3 1065.4,344.6 1062.1,331.8 1058.8,326.0 1055.5,319.6 1052.2,314.7 1048.9,307.8 1045.6,302.8 1042.4,295.5 1039.1,289.5 1035.8,286.0 1032.5,280.3 1029.2,275.0 1025.9,270.4 1022.6,266.3 1019.3,262.4 1016.0,257.4 1012.7,253.3 1009.4,248.7 1006.1,242.2 1002.8,236.6 999.5,232.5 996.2,227.0 992.9,222.2 989.6,215.3 986.3,210.1 983.0,205.1 979.8,200.6 976.5,197.4 973.2,195.5 969.9,191.4 966.6,189.3 963.3,186.2 960.0,184.3 956.7,183.0 953.4,180.4 950.1,179.2 946.8,176.4 943.5,172.7 940.2,170.3 936.9,168.4 933.6,166.7 930.3,164.0 927.0,161.4 923.7,158.2 920.4,157.0 917.2,155.2 913.9,152.8 910.6,150.0 907.3,148.3 904.0,145.9 900.7,144.6 897.4,141.7 894.1,140.8 890.8,139.4 887.5,137.0 884.2,135.2 880.9,131.8 877.6,130.2 874.3,128.0 871.0,125.4 867.7,123.4 864.4,120.3 861.1,116.8 857.8,114.5 854.6,112.3 851.3,110.7 848.0,107.9 844.7,106.6 843.4,106.2"/><polyline points="847.8,76.5 848.3,77.3 851.5,77.3 854.8,77.4 858.1,79.0 861.4,80.8 864.7,82.4 868.0,84.2 871.3,85.6 874.6,85.8 877.9,85.4 881.2,85.7 884.5,85.8 887.8,87.1 891.1,86.9 894.4,88.1 897.7,90.1 901.0,90.9 904.3,92.5 907.6,92.7 910.9,93.2 914.1,94.2 917.4,94.8 920.7,97.4 924.0,97.5 927.3,99.1 930.6,99.6 933.9,100.1 937.2,100.7 940.5,101.0 943.8,102.1 947.1,104.6 950.4,108.0 953.7,109.3 957.0,114.2 960.3,115.0 963.6,117.5 966.9,119.1 970.2,119.6 973.5,120.4 976.7,121.7 980.0,124.5 983.3,126.4 986.6,130.4 989.9,133.1 993.2,136.1 996.5,137.7 999.8,141.6 1003.1,144.3 1006.4,147.4 1009.7,151.7 1013.0,155.0 1016.3,158.7 1019.6,163.2 1022.9,164.6 1026.2,167.5 1029.5,170.5 1032.8,173.5 1036.1,177.5 1039.3,181.7 1042.6,188.0 1045.9,194.6 1049.2,204.9 1052.5,216.4 1055.8,225.5 1059.1,235.7 1062.4,247.4 1065.7,262.7 1069.0,272.9 1072.3,283.6 1075.6,301.5 1078.4,478.7"/><line x1="1282.7" y1="96.5" x2="1266.9" y2="80.5"/><line x1="843.4" y1="105.5" x2="878.5" y2="85.7"/></g>
<path d="M1078.4 478.7h0M1081.4 408.1h0M1084.7 371.9h0M1088.0 347.8h0M1091.3 335.0h0M1094.6 322.1h0M1097.9 310.9h0M1101.2 303.0h0M1104.5 295.1h0M1107.7 289.1h0M1111.0 284.4h0M1114.3 279.9h0M1117.6 276.8h0M1120.9 273.4h0M1124.2 270.3h0M1127.5 268.1h0M1130.8 263.7h0M1134.1 260.6h0M1137.4 258.1h0M1140.7 255.6h0M1144.0 251.7h0M1147.3 245.8h0M1150.6 240.9h0M1153.9 236.2h0M1157.2 231.3h0M1160.5 227.4h0M1163.8 223.2h0M1167.1 218.7h0M1170.3 214.3h0M1173.6 210.1h0M1176.9 205.7h0M1180.2 202.5h0M1183.5 199.2h0M1186.8 195.7h0M1190.1 192.0h0M1193.4 188.1h0M1196.7 185.1h0M1200.0 182.5h0M1203.3 180.0h0M1206.6 176.1h0M1209.9 171.0h0M1213.2 167.4h0M1216.5 163.8h0M1219.8 159.8h0M1223.1 157.7h0M1226.4 155.1h0M1229.7 151.0h0M1232.9 147.8h0M1236.2 145.4h0M1239.5 143.0h0M1242.8 140.7h0M1246.1 137.1h0M1249.4 132.8h0M1252.7 129.6h0M1256.0 125.6h0M1259.3 121.5h0M1262.6 117.4h0M1265.9 114.4h0M1269.2 109.9h0M1272.5 105.6h0M1275.8 101.9h0M1279.1 98.9h0M1282.4 97.4h0M1282.7 97.4h0M1287.9 66.3h0M1286.0 67.1h0M1282.7 67.9h0M1279.4 69.9h0M1276.1 72.7h0M1272.8 75.1h0M1269.5 77.9h0M1266.2 81.6h0M1262.9 83.8h0M1259.6 85.0h0M1256.3 85.0h0M1253.0 87.1h0M1249.7 88.7h0M1246.4 90.7h0M1243.2 93.4h0M1239.9 94.2h0M1236.6 95.6h0M1233.3 97.4h0M1230.0 99.4h0M1226.7 101.9h0M1223.4 102.0h0M1220.1 104.8h0M1216.8 109.0h0M1213.5 112.4h0M1210.2 116.7h0M1206.9 120.9h0M1203.6 124.0h0M1200.3 127.3h0M1197.0 130.2h0M1193.7 134.0h0M1190.4 135.9h0M1187.1 138.1h0M1183.8 141.5h0M1180.6 142.6h0M1177.3 144.0h0M1174.0 147.7h0M1170.7 149.2h0M1167.4 150.9h0M1164.1 152.4h0M1160.8 152.3h0M1157.5 153.7h0M1154.2 155.4h0M1150.9 157.7h0M1147.6 161.1h0M1144.3 163.7h0M1141.0 166.6h0M1137.7 169.8h0M1134.4 172.0h0M1131.1 176.0h0M1127.8 179.9h0M1124.5 182.8h0M1121.2 187.8h0M1118.0 190.5h0M1114.7 195.6h0M1111.4 199.6h0M1108.1 205.8h0M1104.8 214.2h0M1101.5 221.7h0M1098.2 232.3h0M1094.9 245.2h0M1091.6 258.2h0M1088.3 274.4h0M1085.0 293.8h0M1081.7 478.7h0M1078.4 478.7h0M1078.4 478.7h0M1075.3 417.6h0M1072.0 383.3h0M1068.7 359.3h0M1065.4 344.6h0M1062.1 331.8h0M1058.8 326.0h0M1055.5 319.6h0M1052.2 314.7h0M1048.9 307.8h0M1045.6 302.8h0M1042.4 295.5h0M1039.1 289.5h0M1035.8 286.0h0M1032.5 280.3h0M1029.2 275.0h0M1025.9 270.4h0M1022.6 266.3h0M1019.3 262.4h0M1016.0 257.4h0M1012.7 253.3h0M1009.4 248.7h0M1006.1 242.2h0M1002.8 236.6h0M999.5 232.5h0M996.2 227.0h0M992.9 222.2h0M989.6 215.3h0M986.3 210.1h0M983.0 205.1h0M979.8 200.6h0M976.5 197.4h0M973.2 195.5h0M969.9 191.4h0M966.6 189.3h0M963.3 186.2h0M960.0 184.3h0M956.7 183.0h0M953.4 180.4h0M950.1 179.2h0M946.8 176.4h0M943.5 172.7h0M940.2 170.3h0M936.9 168.4h0M933.6 166.7h0M930.3 164.0h0M927.0 161.4h0M923.7 158.2h0M920.4 157.0h0M917.2 155.2h0M913.9 152.8h0M910.6 150.0h0M907.3 148.3h0M904.0 145.9h0M900.7 144.6h0M897.4 141.7h0M894.1 140.8h0M890.8 139.4h0M887.5 137.0h0M884.2 135.2h0M880.9 131.8h0M877.6 130.2h0M874.3 128.0h0M871.0 125.4h0M867.7 123.4h0M864.4 120.3h0M861.1 116.8h0M857.8 114.5h0M854.6 112.3h0M851.3 110.7h0M848.0 107.9h0M844.7 106.6h0M843.4 106.2h0M847.8 76.5h0M848.3 77.3h0M851.5 77.3h0M854.8 77.4h0M858.1 79.0h0M861.4 80.8h0M864.7 82.4h0M868.0 84.2h0M871.3 85.6h0M874.6 85.8h0M877.9 85.4h0M881.2 85.7h0M884.5 85.8h0M887.8 87.1h0M891.1 86.9h0M894.4 88.1h0M897.7 90.1h0M901.0 90.9h0M904.3 92.5h0M907.6 92.7h0M910.9 93.2h0M914.1 94.2h0M917.4 94.8h0M920.7 97.4h0M924.0 97.5h0M927.3 99.1h0M930.6 99.6h0M933.9 100.1h0M937.2 100.7h0M940.5 101.0h0M943.8 102.1h0M947.1 104.6h0M950.4 108.0h0M953.7 109.3h0M957.0 114.2h0M960.3 115.0h0M963.6 117.5h0M966.9 119.1h0M970.2 119.6h0M973.5 120.4h0M976.7 121.7h0M980.0 124.5h0M983.3 126.4h0M986.6 130.4h0M989.9 133.1h0M993.2 136.1h0M996.5 137.7h0M999.8 141.6h0M1003.1 144.3h0M1006.4 147.4h0M1009.7 151.7h0M1013.0 155.0h0M1016.3 158.7h0M1019.6 163.2h0M1022.9 164.6h0M1026.2 167.5h0M1029.5 170.5h0M1032.8 173.5h0M1036.1 177.5h0M1039.3 181.7h0M1042.6 188.0h0M1045.9 194.6h0M1049.2 204.9h0M1052.5 216.4h0M1055.8 225.5h0M1059.1 235.7h0M1062.4 247.4h0M1065.7 262.7h0M1069.0 272.9h0M1072.3 283.6h0M1075.6 301.5h0M1078.4 478.7h0M847.8 78.6h0M848.3 80.6h0M851.5 80.2h0M854.8 79.7h0M858.1 81.3h0M861.4 83.2h0M864.7 84.2h0M868.0 86.9h0M871.3 87.1h0M874.6 86.8h0M877.9 86.8h0M881.2 87.7h0M884.5 88.0h0M887.8 88.0h0M891.1 88.0h0M894.4 90.6h0M897.7 91.3h0M901.0 91.9h0M904.3 93.1h0M907.6 93.7h0M910.9 95.0h0M914.1 94.5h0M917.4 95.3h0" stroke="#941C62" stroke-width="5.5" stroke-linecap="round" fill="none"/>
<g stroke="#A3684B" fill="none" stroke-width="1.1"><polyline points="1078.4,478.7 1081.7,393.0 1085.0,358.6 1088.3,337.8 1091.6,326.5 1094.9,316.1 1098.2,307.1 1101.5,300.4 1104.8,291.7 1108.1,286.8 1111.3,281.9 1114.6,277.9 1117.9,272.6 1121.2,267.3 1124.5,263.9 1127.8,260.8 1131.1,257.4 1134.4,253.6 1137.7,250.6 1141.0,247.5 1144.3,241.5 1147.6,236.7 1150.9,232.6 1154.2,226.8 1157.5,221.5 1160.8,216.7 1164.1,212.0 1167.4,207.2 1170.7,201.9 1173.9,197.5 1177.2,194.7 1180.5,191.1 1183.8,188.2 1187.1,186.0 1190.4,182.9 1193.7,180.3 1197.0,177.3 1200.3,174.2 1203.6,171.3 1206.9,168.3 1210.2,164.9 1213.5,163.0 1216.8,159.8 1220.1,157.7 1223.4,155.5 1226.7,152.4 1230.0,150.8 1233.3,148.6 1236.5,144.6 1239.8,141.8 1243.1,138.9 1246.4,136.2 1249.7,132.2 1253.0,129.4 1256.3,125.4 1259.6,121.8 1262.9,119.6 1266.2,115.8 1269.5,113.3 1272.8,110.3 1273.0,110.7"/><polyline points="1279.3,68.4 1279.0,69.0 1275.7,70.7 1272.4,73.2 1269.1,76.4 1265.9,76.2 1262.6,78.8 1259.3,79.5 1256.0,79.4 1252.7,83.4 1249.4,85.7 1246.1,87.1 1242.8,88.5 1239.5,88.5 1236.2,92.5 1232.9,93.8 1229.6,96.1 1226.3,98.0 1223.0,99.9 1219.7,101.7 1216.4,105.2 1213.1,107.4 1209.8,113.8 1206.5,115.9 1203.3,116.9 1200.0,119.1 1196.7,121.9 1193.4,126.5 1190.1,129.4 1186.8,131.0 1183.5,135.1 1180.2,136.5 1176.9,137.0 1173.6,140.4 1170.3,142.9 1167.0,143.9 1163.7,144.3 1160.4,146.0 1157.1,150.2 1153.8,152.8 1150.5,153.3 1147.2,154.9 1143.9,157.0 1140.7,157.3 1137.4,159.5 1134.1,162.0 1130.8,165.7 1127.5,169.4 1124.2,171.5 1120.9,175.6 1117.6,180.4 1114.3,184.9 1111.0,190.0 1107.7,192.5 1104.4,200.7 1101.1,210.7 1097.8,221.9 1094.5,236.9 1091.2,251.2 1087.9,268.0 1084.6,292.0 1081.3,478.5 1078.4,478.6"/><polyline points="1078.4,478.7 1075.0,408.7 1071.7,375.7 1068.4,354.5 1065.1,339.9 1061.8,329.2 1058.5,323.7 1055.2,316.2 1051.9,309.1 1048.6,302.6 1045.3,296.5 1042.0,289.8 1038.7,283.8 1035.4,279.3 1032.1,273.9 1028.9,269.0 1025.6,264.2 1022.3,260.3 1019.0,255.7 1015.7,250.6 1012.4,246.6 1009.1,241.5 1005.8,236.2 1002.5,230.8 999.2,226.2 995.9,221.5 992.6,215.5 989.3,209.8 986.0,205.8 982.7,202.8 979.4,198.8 976.1,196.7 972.8,193.4 969.5,190.3 966.3,186.6 963.0,184.1 959.7,182.8 956.4,180.6 953.1,178.9 949.8,175.7 946.5,174.5 943.2,172.1 939.9,170.0 936.6,168.5 933.3,164.8 930.0,161.9 926.7,159.3 923.4,156.6 920.1,153.5 916.8,150.9 913.5,147.3 910.2,145.8 906.9,142.9 903.7,139.8 900.4,137.5 897.1,135.1 895.7,134.5"/><polyline points="850.0,77.9 851.1,78.0 854.4,80.2 857.7,81.5 861.0,81.1 864.3,83.2 867.6,84.0 870.9,84.1 874.2,84.8 877.5,85.4 880.8,88.9 884.1,90.2 887.4,89.7 890.7,89.1 894.0,89.7 897.3,90.7 900.5,90.2 903.8,91.7 907.1,94.6 910.4,95.5 913.7,94.9 917.0,96.3 920.3,98.1 923.6,97.5 926.9,98.3 930.2,98.7 933.5,100.8 936.8,101.9 940.1,103.2 943.4,107.4 946.7,110.9 950.0,112.6 953.3,112.8 956.6,114.5 959.9,116.4 963.1,118.6 966.4,119.4 969.7,121.3 973.0,123.8 976.3,126.4 979.6,127.9 982.9,130.5 986.2,132.8 989.5,134.1 992.8,136.5 996.1,139.9 999.4,145.5 1002.7,150.1 1006.0,153.3 1009.3,156.6 1012.6,159.7 1015.9,161.6 1019.2,163.8 1022.5,166.1 1025.7,171.7 1029.0,172.7 1032.3,176.4 1035.6,180.8 1038.9,186.5 1042.2,192.2 1045.5,196.2 1048.8,204.6 1052.1,213.7 1055.4,224.5 1058.7,235.5 1062.0,248.6 1065.3,265.2 1068.6,275.6 1071.9,284.4 1075.2,298.8 1078.4,478.7"/><line x1="1273.0" y1="110.5" x2="1246.7" y2="86.9"/><line x1="895.7" y1="134.2" x2="942.2" y2="106.2"/></g>
<path d="M1078.4 478.7h0M1081.7 393.0h0M1085.0 358.6h0M1088.3 337.8h0M1091.6 326.5h0M1094.9 316.1h0M1098.2 307.1h0M1101.5 300.4h0M1104.8 291.7h0M1108.1 286.8h0M1111.3 281.9h0M1114.6 277.9h0M1117.9 272.6h0M1121.2 267.3h0M1124.5 263.9h0M1127.8 260.8h0M1131.1 257.4h0M1134.4 253.6h0M1137.7 250.6h0M1141.0 247.5h0M1144.3 241.5h0M1147.6 236.7h0M1150.9 232.6h0M1154.2 226.8h0M1157.5 221.5h0M1160.8 216.7h0M1164.1 212.0h0M1167.4 207.2h0M1170.7 201.9h0M1173.9 197.5h0M1177.2 194.7h0M1180.5 191.1h0M1183.8 188.2h0M1187.1 186.0h0M1190.4 182.9h0M1193.7 180.3h0M1197.0 177.3h0M1200.3 174.2h0M1203.6 171.3h0M1206.9 168.3h0M1210.2 164.9h0M1213.5 163.0h0M1216.8 159.8h0M1220.1 157.7h0M1223.4 155.5h0M1226.7 152.4h0M1230.0 150.8h0M1233.3 148.6h0M1236.5 144.6h0M1239.8 141.8h0M1243.1 138.9h0M1246.4 136.2h0M1249.7 132.2h0M1253.0 129.4h0M1256.3 125.4h0M1259.6 121.8h0M1262.9 119.6h0M1266.2 115.8h0M1269.5 113.3h0M1272.8 110.3h0M1273.0 110.7h0M1279.3 68.4h0M1279.0 69.0h0M1275.7 70.7h0M1272.4 73.2h0M1269.1 76.4h0M1265.9 76.2h0M1262.6 78.8h0M1259.3 79.5h0M1256.0 79.4h0M1252.7 83.4h0M1249.4 85.7h0M1246.1 87.1h0M1242.8 88.5h0M1239.5 88.5h0M1236.2 92.5h0M1232.9 93.8h0M1229.6 96.1h0M1226.3 98.0h0M1223.0 99.9h0M1219.7 101.7h0M1216.4 105.2h0M1213.1 107.4h0M1209.8 113.8h0M1206.5 115.9h0M1203.3 116.9h0M1200.0 119.1h0M1196.7 121.9h0M1193.4 126.5h0M1190.1 129.4h0M1186.8 131.0h0M1183.5 135.1h0M1180.2 136.5h0M1176.9 137.0h0M1173.6 140.4h0M1170.3 142.9h0M1167.0 143.9h0M1163.7 144.3h0M1160.4 146.0h0M1157.1 150.2h0M1153.8 152.8h0M1150.5 153.3h0M1147.2 154.9h0M1143.9 157.0h0M1140.7 157.3h0M1137.4 159.5h0M1134.1 162.0h0M1130.8 165.7h0M1127.5 169.4h0M1124.2 171.5h0M1120.9 175.6h0M1117.6 180.4h0M1114.3 184.9h0M1111.0 190.0h0M1107.7 192.5h0M1104.4 200.7h0M1101.1 210.7h0M1097.8 221.9h0M1094.5 236.9h0M1091.2 251.2h0M1087.9 268.0h0M1084.6 292.0h0M1081.3 478.5h0M1078.4 478.6h0M1078.4 478.7h0M1075.0 408.7h0M1071.7 375.7h0M1068.4 354.5h0M1065.1 339.9h0M1061.8 329.2h0M1058.5 323.7h0M1055.2 316.2h0M1051.9 309.1h0M1048.6 302.6h0M1045.3 296.5h0M1042.0 289.8h0M1038.7 283.8h0M1035.4 279.3h0M1032.1 273.9h0M1028.9 269.0h0M1025.6 264.2h0M1022.3 260.3h0M1019.0 255.7h0M1015.7 250.6h0M1012.4 246.6h0M1009.1 241.5h0M1005.8 236.2h0M1002.5 230.8h0M999.2 226.2h0M995.9 221.5h0M992.6 215.5h0M989.3 209.8h0M986.0 205.8h0M982.7 202.8h0M979.4 198.8h0M976.1 196.7h0M972.8 193.4h0M969.5 190.3h0M966.3 186.6h0M963.0 184.1h0M959.7 182.8h0M956.4 180.6h0M953.1 178.9h0M949.8 175.7h0M946.5 174.5h0M943.2 172.1h0M939.9 170.0h0M936.6 168.5h0M933.3 164.8h0M930.0 161.9h0M926.7 159.3h0M923.4 156.6h0M920.1 153.5h0M916.8 150.9h0M913.5 147.3h0M910.2 145.8h0M906.9 142.9h0M903.7 139.8h0M900.4 137.5h0M897.1 135.1h0M895.7 134.5h0M850.0 77.9h0M851.1 78.0h0M854.4 80.2h0M857.7 81.5h0M861.0 81.1h0M864.3 83.2h0M867.6 84.0h0M870.9 84.1h0M874.2 84.8h0M877.5 85.4h0M880.8 88.9h0M884.1 90.2h0M887.4 89.7h0M890.7 89.1h0M894.0 89.7h0M897.3 90.7h0M900.5 90.2h0M903.8 91.7h0M907.1 94.6h0M910.4 95.5h0M913.7 94.9h0M917.0 96.3h0M920.3 98.1h0M923.6 97.5h0M926.9 98.3h0M930.2 98.7h0M933.5 100.8h0M936.8 101.9h0M940.1 103.2h0M943.4 107.4h0M946.7 110.9h0M950.0 112.6h0M953.3 112.8h0M956.6 114.5h0M959.9 116.4h0M963.1 118.6h0M966.4 119.4h0M969.7 121.3h0M973.0 123.8h0M976.3 126.4h0M979.6 127.9h0M982.9 130.5h0M986.2 132.8h0M989.5 134.1h0M992.8 136.5h0M996.1 139.9h0M999.4 145.5h0M1002.7 150.1h0M1006.0 153.3h0M1009.3 156.6h0M1012.6 159.7h0M1015.9 161.6h0M1019.2 163.8h0M1022.5 166.1h0M1025.7 171.7h0M1029.0 172.7h0M1032.3 176.4h0M1035.6 180.8h0M1038.9 186.5h0M1042.2 192.2h0M1045.5 196.2h0M1048.8 204.6h0M1052.1 213.7h0M1055.4 224.5h0M1058.7 235.5h0M1062.0 248.6h0M1065.3 265.2h0M1068.6 275.6h0M1071.9 284.4h0M1075.2 298.8h0M1078.4 478.7h0M850.0 80.5h0M851.1 80.8h0M854.4 81.9h0M857.7 84.7h0M861.0 83.4h0M864.3 85.6h0M867.6 87.1h0M870.9 86.2h0M874.2 87.3h0M877.5 88.0h0M880.8 91.6h0M884.1 92.5h0M887.4 91.6h0M890.7 91.6h0M894.0 91.4h0M897.3 92.4h0M900.5 92.0h0M903.8 94.2h0M907.1 97.0h0M910.4 98.1h0M913.7 96.4h0M917.0 96.7h0M920.3 98.8h0M923.6 97.7h0M926.9 99.7h0M930.2 98.6h0M850.0 74.9h0M851.1 76.5h0M854.4 77.7h0M857.7 80.3h0M861.0 79.0h0M864.3 81.1h0M867.6 81.4h0M870.9 82.2h0M874.2 82.2h0M877.5 83.8h0M880.8 87.1h0M884.1 88.8h0M887.4 86.7h0M890.7 88.9h0M894.0 87.8h0M897.3 90.3h0M900.5 89.0h0M903.8 90.6h0M907.1 93.0h0M910.4 94.3h0M913.7 95.0h0M917.0 95.7h0M920.3 97.3h0M923.6 96.5h0" stroke="#A3684B" stroke-width="5.5" stroke-linecap="round" fill="none"/>
<g stroke="#9A8A24" fill="none" stroke-width="1.1"><polyline points="1078.4,478.7 1082.2,383.4 1085.5,352.0 1088.8,333.6 1092.0,323.1 1095.3,313.8 1098.6,305.3 1101.9,297.8 1105.2,291.0 1108.5,284.8 1111.8,281.2 1115.1,276.0 1118.4,272.5 1121.7,266.8 1125.0,262.7 1128.3,259.2 1131.6,256.3 1134.9,252.5 1138.2,248.3 1141.5,243.6 1144.8,237.6 1148.1,231.3 1151.4,226.0 1154.6,222.3 1157.9,218.5 1161.2,214.1 1164.5,208.5 1167.8,204.7 1171.1,199.4 1174.4,195.5 1177.7,192.0 1181.0,189.5 1184.3,185.6 1187.6,182.5 1190.9,179.9 1194.2,178.1 1197.5,175.7 1200.8,171.6 1204.1,168.2 1207.4,165.8 1210.7,162.8 1214.0,161.3 1217.2,159.1 1220.5,156.8 1223.8,155.1 1227.1,153.1 1230.4,150.0 1233.7,147.6 1237.0,145.5 1240.3,142.0 1243.6,138.6 1246.9,136.4 1250.2,133.7 1253.5,131.3 1256.8,128.5 1260.1,125.3 1263.4,121.4 1266.7,116.8 1270.0,114.4 1273.3,111.8 1276.6,109.1 1279.8,106.6 1283.1,103.2 1286.4,100.1 1289.7,96.8 1293.0,93.9 1296.3,91.7 1298.1,90.0"/><polyline points="1280.1,68.4 1279.7,68.0 1276.4,68.8 1273.2,68.3 1269.9,71.3 1266.6,72.8 1263.3,74.7 1260.0,75.2 1256.7,77.3 1253.4,78.6 1250.1,79.7 1246.8,81.2 1243.5,82.4 1240.2,83.5 1236.9,85.5 1233.6,86.5 1230.3,89.8 1227.0,90.5 1223.7,91.6 1220.4,92.6 1217.1,92.6 1213.8,94.5 1210.6,95.5 1207.3,98.3 1204.0,99.4 1200.7,103.1 1197.4,103.9 1194.1,106.3 1190.8,107.5 1187.5,110.7 1184.2,112.3 1180.9,114.6 1177.6,118.2 1174.3,120.8 1171.0,124.5 1167.7,128.7 1164.4,131.9 1161.1,134.4 1157.8,135.8 1154.5,139.0 1151.2,140.4 1148.0,143.8 1144.7,145.8 1141.4,147.6 1138.1,149.1 1134.8,151.7 1131.5,153.2 1128.2,155.9 1124.9,157.5 1121.6,158.3 1118.3,161.7 1115.0,166.0 1111.7,171.1 1108.4,174.8 1105.1,182.1 1101.8,189.9 1098.5,196.5 1095.2,212.1 1091.9,229.4 1088.6,247.3 1085.4,269.8 1082.1,478.7 1078.4,478.7"/><polyline points="1078.4,478.7 1074.9,421.1 1071.6,390.0 1068.3,366.9 1065.0,351.5 1061.7,339.1 1058.4,334.3 1055.1,327.9 1051.8,323.4 1048.5,318.3 1045.2,311.4 1041.9,307.9 1038.6,302.1 1035.4,298.3 1032.1,293.5 1028.8,288.8 1025.5,284.9 1022.2,279.9 1018.9,277.0 1015.6,271.0 1012.3,265.8 1009.0,259.2 1005.7,253.8 1002.4,248.5 999.1,243.7 995.8,237.9 992.5,232.0 989.2,225.3 985.9,217.5 982.6,213.2 979.3,209.3 976.0,205.0 972.8,201.6 969.5,197.0 966.2,193.4 962.9,190.9 959.6,187.9 956.3,184.9 953.0,183.3 949.7,179.8 946.4,176.5 943.1,174.3 939.8,172.1 936.5,170.1 933.2,168.1 929.9,165.1 926.6,162.5 923.3,158.2 920.0,156.6 916.7,152.0 913.4,149.5 910.2,146.5 906.9,143.7 903.6,140.6 900.3,139.3 897.0,136.8 893.7,133.7 890.4,130.7 887.1,127.7 883.8,125.4 880.5,122.7 877.2,119.2 873.9,115.8 870.6,112.6 870.6,112.5"/><polyline points="858.8,77.3 860.8,77.7 864.1,79.2 867.4,80.4 870.7,80.6 874.0,79.7 877.3,80.2 880.6,82.6 883.9,81.7 887.2,81.6 890.5,82.7 893.7,85.4 897.0,85.8 900.3,85.5 903.6,86.3 906.9,87.9 910.2,88.6 913.5,89.3 916.8,89.3 920.1,90.0 923.4,90.5 926.7,91.3 930.0,93.5 933.3,94.5 936.6,94.5 939.9,94.9 943.2,95.7 946.5,98.7 949.8,100.3 953.1,101.6 956.3,102.9 959.6,104.3 962.9,104.9 966.2,106.2 969.5,107.6 972.8,111.3 976.1,112.7 979.4,113.4 982.7,115.8 986.0,118.5 989.3,121.3 992.6,122.2 995.9,125.7 999.2,127.7 1002.5,130.4 1005.8,133.0 1009.1,136.7 1012.4,142.3 1015.7,143.5 1018.9,147.4 1022.2,150.7 1025.5,155.1 1028.8,157.9 1032.1,161.9 1035.4,165.7 1038.7,170.0 1042.0,175.7 1045.3,181.0 1048.6,192.1 1051.9,202.9 1055.2,211.6 1058.5,220.4 1061.8,232.3 1065.1,248.4 1068.4,260.4 1071.7,273.9 1075.0,290.4 1078.4,478.7"/><line x1="1298.1" y1="89.1" x2="1278.7" y2="68.1"/><line x1="870.6" y1="112.1" x2="915.9" y2="89.2"/></g>
<path d="M1078.4 478.7h0M1082.2 383.4h0M1085.5 352.0h0M1088.8 333.6h0M1092.0 323.1h0M1095.3 313.8h0M1098.6 305.3h0M1101.9 297.8h0M1105.2 291.0h0M1108.5 284.8h0M1111.8 281.2h0M1115.1 276.0h0M1118.4 272.5h0M1121.7 266.8h0M1125.0 262.7h0M1128.3 259.2h0M1131.6 256.3h0M1134.9 252.5h0M1138.2 248.3h0M1141.5 243.6h0M1144.8 237.6h0M1148.1 231.3h0M1151.4 226.0h0M1154.6 222.3h0M1157.9 218.5h0M1161.2 214.1h0M1164.5 208.5h0M1167.8 204.7h0M1171.1 199.4h0M1174.4 195.5h0M1177.7 192.0h0M1181.0 189.5h0M1184.3 185.6h0M1187.6 182.5h0M1190.9 179.9h0M1194.2 178.1h0M1197.5 175.7h0M1200.8 171.6h0M1204.1 168.2h0M1207.4 165.8h0M1210.7 162.8h0M1214.0 161.3h0M1217.2 159.1h0M1220.5 156.8h0M1223.8 155.1h0M1227.1 153.1h0M1230.4 150.0h0M1233.7 147.6h0M1237.0 145.5h0M1240.3 142.0h0M1243.6 138.6h0M1246.9 136.4h0M1250.2 133.7h0M1253.5 131.3h0M1256.8 128.5h0M1260.1 125.3h0M1263.4 121.4h0M1266.7 116.8h0M1270.0 114.4h0M1273.3 111.8h0M1276.6 109.1h0M1279.8 106.6h0M1283.1 103.2h0M1286.4 100.1h0M1289.7 96.8h0M1293.0 93.9h0M1296.3 91.7h0M1298.1 90.0h0M1280.1 68.4h0M1279.7 68.0h0M1276.4 68.8h0M1273.2 68.3h0M1269.9 71.3h0M1266.6 72.8h0M1263.3 74.7h0M1260.0 75.2h0M1256.7 77.3h0M1253.4 78.6h0M1250.1 79.7h0M1246.8 81.2h0M1243.5 82.4h0M1240.2 83.5h0M1236.9 85.5h0M1233.6 86.5h0M1230.3 89.8h0M1227.0 90.5h0M1223.7 91.6h0M1220.4 92.6h0M1217.1 92.6h0M1213.8 94.5h0M1210.6 95.5h0M1207.3 98.3h0M1204.0 99.4h0M1200.7 103.1h0M1197.4 103.9h0M1194.1 106.3h0M1190.8 107.5h0M1187.5 110.7h0M1184.2 112.3h0M1180.9 114.6h0M1177.6 118.2h0M1174.3 120.8h0M1171.0 124.5h0M1167.7 128.7h0M1164.4 131.9h0M1161.1 134.4h0M1157.8 135.8h0M1154.5 139.0h0M1151.2 140.4h0M1148.0 143.8h0M1144.7 145.8h0M1141.4 147.6h0M1138.1 149.1h0M1134.8 151.7h0M1131.5 153.2h0M1128.2 155.9h0M1124.9 157.5h0M1121.6 158.3h0M1118.3 161.7h0M1115.0 166.0h0M1111.7 171.1h0M1108.4 174.8h0M1105.1 182.1h0M1101.8 189.9h0M1098.5 196.5h0M1095.2 212.1h0M1091.9 229.4h0M1088.6 247.3h0M1085.4 269.8h0M1082.1 478.7h0M1078.4 478.7h0M1078.4 478.7h0M1074.9 421.1h0M1071.6 390.0h0M1068.3 366.9h0M1065.0 351.5h0M1061.7 339.1h0M1058.4 334.3h0M1055.1 327.9h0M1051.8 323.4h0M1048.5 318.3h0M1045.2 311.4h0M1041.9 307.9h0M1038.6 302.1h0M1035.4 298.3h0M1032.1 293.5h0M1028.8 288.8h0M1025.5 284.9h0M1022.2 279.9h0M1018.9 277.0h0M1015.6 271.0h0M1012.3 265.8h0M1009.0 259.2h0M1005.7 253.8h0M1002.4 248.5h0M999.1 243.7h0M995.8 237.9h0M992.5 232.0h0M989.2 225.3h0M985.9 217.5h0M982.6 213.2h0M979.3 209.3h0M976.0 205.0h0M972.8 201.6h0M969.5 197.0h0M966.2 193.4h0M962.9 190.9h0M959.6 187.9h0M956.3 184.9h0M953.0 183.3h0M949.7 179.8h0M946.4 176.5h0M943.1 174.3h0M939.8 172.1h0M936.5 170.1h0M933.2 168.1h0M929.9 165.1h0M926.6 162.5h0M923.3 158.2h0M920.0 156.6h0M916.7 152.0h0M913.4 149.5h0M910.2 146.5h0M906.9 143.7h0M903.6 140.6h0M900.3 139.3h0M897.0 136.8h0M893.7 133.7h0M890.4 130.7h0M887.1 127.7h0M883.8 125.4h0M880.5 122.7h0M877.2 119.2h0M873.9 115.8h0M870.6 112.6h0M870.6 112.5h0M858.8 77.3h0M860.8 77.7h0M864.1 79.2h0M867.4 80.4h0M870.7 80.6h0M874.0 79.7h0M877.3 80.2h0M880.6 82.6h0M883.9 81.7h0M887.2 81.6h0M890.5 82.7h0M893.7 85.4h0M897.0 85.8h0M900.3 85.5h0M903.6 86.3h0M906.9 87.9h0M910.2 88.6h0M913.5 89.3h0M916.8 89.3h0M920.1 90.0h0M923.4 90.5h0M926.7 91.3h0M930.0 93.5h0M933.3 94.5h0M936.6 94.5h0M939.9 94.9h0M943.2 95.7h0M946.5 98.7h0M949.8 100.3h0M953.1 101.6h0M956.3 102.9h0M959.6 104.3h0M962.9 104.9h0M966.2 106.2h0M969.5 107.6h0M972.8 111.3h0M976.1 112.7h0M979.4 113.4h0M982.7 115.8h0M986.0 118.5h0M989.3 121.3h0M992.6 122.2h0M995.9 125.7h0M999.2 127.7h0M1002.5 130.4h0M1005.8 133.0h0M1009.1 136.7h0M1012.4 142.3h0M1015.7 143.5h0M1018.9 147.4h0M1022.2 150.7h0M1025.5 155.1h0M1028.8 157.9h0M1032.1 161.9h0M1035.4 165.7h0M1038.7 170.0h0M1042.0 175.7h0M1045.3 181.0h0M1048.6 192.1h0M1051.9 202.9h0M1055.2 211.6h0M1058.5 220.4h0M1061.8 232.3h0M1065.1 248.4h0M1068.4 260.4h0M1071.7 273.9h0M1075.0 290.4h0M1078.4 478.7h0" stroke="#9A8A24" stroke-width="5.5" stroke-linecap="round" fill="none"/>
<g stroke="#6E6E6E" fill="none" stroke-width="1.1"><polyline points="1078.4,478.7 1082.1,375.5 1085.4,346.0 1088.7,327.2 1092.0,317.0 1095.2,308.5 1098.5,301.6 1101.8,294.6 1105.1,288.7 1108.4,284.5 1111.7,279.9 1115.0,275.1 1118.3,270.4 1121.6,266.0 1124.9,261.6 1128.2,257.7 1131.5,251.1 1134.8,247.2 1138.1,241.2 1141.4,236.2 1144.7,229.9 1148.0,224.2 1151.3,219.6 1154.6,214.3 1157.8,210.5 1161.1,204.7 1164.4,201.0 1167.7,195.5 1171.0,190.4 1174.3,185.6 1177.6,183.1 1180.9,181.1 1184.2,178.4 1187.5,175.7 1190.8,173.6 1194.1,172.1 1197.4,170.4 1200.7,166.9 1204.0,165.8 1207.3,163.2 1210.6,161.0 1213.9,158.3 1217.2,156.3 1220.4,154.3 1223.7,152.5 1227.0,150.8 1230.3,149.0 1233.6,146.9 1236.9,145.5 1240.2,143.5 1243.5,142.0 1246.8,139.8 1250.1,138.0 1253.4,135.2 1256.7,132.9 1260.0,129.5 1263.3,127.3 1266.6,124.5 1269.9,121.9 1273.2,118.9 1276.5,116.8 1279.8,113.6 1283.0,110.4 1286.3,107.6 1289.6,105.0 1292.9,103.7 1295.9,100.3"/><polyline points="1273.4,67.3 1272.4,68.3 1269.1,68.2 1265.8,70.0 1262.5,73.2 1259.2,74.3 1255.9,75.3 1252.7,77.9 1249.4,80.8 1246.1,80.4 1242.8,79.9 1239.5,80.2 1236.2,82.1 1232.9,83.3 1229.6,84.8 1226.3,87.8 1223.0,88.5 1219.7,88.3 1216.4,88.0 1213.1,87.9 1209.8,89.9 1206.5,90.8 1203.2,91.8 1199.9,94.1 1196.6,96.9 1193.3,99.8 1190.1,102.8 1186.8,106.3 1183.5,108.9 1180.2,110.3 1176.9,111.7 1173.6,116.5 1170.3,120.0 1167.0,126.1 1163.7,128.6 1160.4,130.5 1157.1,134.3 1153.8,135.7 1150.5,137.2 1147.2,141.6 1143.9,143.4 1140.6,144.6 1137.3,147.0 1134.0,150.9 1130.7,155.3 1127.5,157.1 1124.2,156.8 1120.9,159.6 1117.6,160.7 1114.3,163.3 1111.0,168.4 1107.7,173.4 1104.4,182.8 1101.1,188.5 1097.8,195.6 1094.5,213.2 1091.2,232.0 1087.9,249.4 1084.6,275.0 1081.3,478.6 1078.4,478.6"/><polyline points="1078.4,478.7 1075.3,409.5 1072.0,374.6 1068.7,351.9 1065.4,336.8 1062.1,326.2 1058.8,320.8 1055.6,313.9 1052.3,307.2 1049.0,300.5 1045.7,292.4 1042.4,285.4 1039.1,278.8 1035.8,275.1 1032.5,270.4 1029.2,263.6 1025.9,259.3 1022.6,255.6 1019.3,250.4 1016.0,245.8 1012.7,239.7 1009.4,236.0 1006.1,231.8 1002.8,225.2 999.5,222.2 996.2,218.8 993.0,212.1 989.7,207.1 986.4,201.2 983.1,198.8 979.8,196.7 976.5,192.7 973.2,190.5 969.9,188.9 966.6,184.9 963.3,183.6 960.0,182.2 956.7,180.6 953.4,177.9 950.1,174.2 946.8,171.7 943.5,171.0 940.2,167.9 936.9,167.3 933.6,164.5 930.4,162.1 927.1,159.1 923.8,157.1 920.5,154.6 917.2,152.5 913.9,150.3 910.6,147.0 907.3,145.2 904.0,143.5 900.7,141.3 897.4,138.8 894.1,136.2 890.8,133.9 887.5,130.7 884.2,127.2 880.9,125.6 877.6,123.9 874.3,121.3 871.0,116.4 867.8,114.9 864.5,111.1 863.1,109.7"/><polyline points="871.9,77.9 874.1,77.1 877.4,80.1 880.7,81.5 884.0,80.5 887.3,81.2 890.6,80.7 893.9,82.3 897.1,83.7 900.4,82.0 903.7,83.9 907.0,86.1 910.3,84.7 913.6,84.4 916.9,84.9 920.2,87.3 923.5,88.0 926.8,86.9 930.1,87.5 933.4,91.3 936.7,90.4 940.0,90.9 943.3,91.7 946.6,94.9 949.9,95.5 953.2,94.2 956.5,96.3 959.7,98.7 963.0,100.2 966.3,101.0 969.6,102.4 972.9,105.8 976.2,107.6 979.5,107.0 982.8,109.5 986.1,111.9 989.4,112.6 992.7,113.6 996.0,115.8 999.3,120.1 1002.6,123.4 1005.9,124.6 1009.2,129.0 1012.5,135.1 1015.8,137.2 1019.1,140.0 1022.3,144.2 1025.6,149.4 1028.9,152.4 1032.2,154.1 1035.5,159.0 1038.8,164.0 1042.1,169.8 1045.4,174.3 1048.7,183.2 1052.0,194.2 1055.3,205.8 1058.6,214.3 1061.9,226.4 1065.2,241.7 1068.5,254.5 1071.8,269.8 1075.1,287.7 1078.4,478.7"/><line x1="1295.9" y1="99.9" x2="1267.3" y2="69.8"/><line x1="863.1" y1="110.3" x2="911.5" y2="85.0"/></g>
<path d="M1078.4 478.7h0M1082.1 375.5h0M1085.4 346.0h0M1088.7 327.2h0M1092.0 317.0h0M1095.2 308.5h0M1098.5 301.6h0M1101.8 294.6h0M1105.1 288.7h0M1108.4 284.5h0M1111.7 279.9h0M1115.0 275.1h0M1118.3 270.4h0M1121.6 266.0h0M1124.9 261.6h0M1128.2 257.7h0M1131.5 251.1h0M1134.8 247.2h0M1138.1 241.2h0M1141.4 236.2h0M1144.7 229.9h0M1148.0 224.2h0M1151.3 219.6h0M1154.6 214.3h0M1157.8 210.5h0M1161.1 204.7h0M1164.4 201.0h0M1167.7 195.5h0M1171.0 190.4h0M1174.3 185.6h0M1177.6 183.1h0M1180.9 181.1h0M1184.2 178.4h0M1187.5 175.7h0M1190.8 173.6h0M1194.1 172.1h0M1197.4 170.4h0M1200.7 166.9h0M1204.0 165.8h0M1207.3 163.2h0M1210.6 161.0h0M1213.9 158.3h0M1217.2 156.3h0M1220.4 154.3h0M1223.7 152.5h0M1227.0 150.8h0M1230.3 149.0h0M1233.6 146.9h0M1236.9 145.5h0M1240.2 143.5h0M1243.5 142.0h0M1246.8 139.8h0M1250.1 138.0h0M1253.4 135.2h0M1256.7 132.9h0M1260.0 129.5h0M1263.3 127.3h0M1266.6 124.5h0M1269.9 121.9h0M1273.2 118.9h0M1276.5 116.8h0M1279.8 113.6h0M1283.0 110.4h0M1286.3 107.6h0M1289.6 105.0h0M1292.9 103.7h0M1295.9 100.3h0M1273.4 67.3h0M1272.4 68.3h0M1269.1 68.2h0M1265.8 70.0h0M1262.5 73.2h0M1259.2 74.3h0M1255.9 75.3h0M1252.7 77.9h0M1249.4 80.8h0M1246.1 80.4h0M1242.8 79.9h0M1239.5 80.2h0M1236.2 82.1h0M1232.9 83.3h0M1229.6 84.8h0M1226.3 87.8h0M1223.0 88.5h0M1219.7 88.3h0M1216.4 88.0h0M1213.1 87.9h0M1209.8 89.9h0M1206.5 90.8h0M1203.2 91.8h0M1199.9 94.1h0M1196.6 96.9h0M1193.3 99.8h0M1190.1 102.8h0M1186.8 106.3h0M1183.5 108.9h0M1180.2 110.3h0M1176.9 111.7h0M1173.6 116.5h0M1170.3 120.0h0M1167.0 126.1h0M1163.7 128.6h0M1160.4 130.5h0M1157.1 134.3h0M1153.8 135.7h0M1150.5 137.2h0M1147.2 141.6h0M1143.9 143.4h0M1140.6 144.6h0M1137.3 147.0h0M1134.0 150.9h0M1130.7 155.3h0M1127.5 157.1h0M1124.2 156.8h0M1120.9 159.6h0M1117.6 160.7h0M1114.3 163.3h0M1111.0 168.4h0M1107.7 173.4h0M1104.4 182.8h0M1101.1 188.5h0M1097.8 195.6h0M1094.5 213.2h0M1091.2 232.0h0M1087.9 249.4h0M1084.6 275.0h0M1081.3 478.6h0M1078.4 478.6h0M1078.4 478.7h0M1075.3 409.5h0M1072.0 374.6h0M1068.7 351.9h0M1065.4 336.8h0M1062.1 326.2h0M1058.8 320.8h0M1055.6 313.9h0M1052.3 307.2h0M1049.0 300.5h0M1045.7 292.4h0M1042.4 285.4h0M1039.1 278.8h0M1035.8 275.1h0M1032.5 270.4h0M1029.2 263.6h0M1025.9 259.3h0M1022.6 255.6h0M1019.3 250.4h0M1016.0 245.8h0M1012.7 239.7h0M1009.4 236.0h0M1006.1 231.8h0M1002.8 225.2h0M999.5 222.2h0M996.2 218.8h0M993.0 212.1h0M989.7 207.1h0M986.4 201.2h0M983.1 198.8h0M979.8 196.7h0M976.5 192.7h0M973.2 190.5h0M969.9 188.9h0M966.6 184.9h0M963.3 183.6h0M960.0 182.2h0M956.7 180.6h0M953.4 177.9h0M950.1 174.2h0M946.8 171.7h0M943.5 171.0h0M940.2 167.9h0M936.9 167.3h0M933.6 164.5h0M930.4 162.1h0M927.1 159.1h0M923.8 157.1h0M920.5 154.6h0M917.2 152.5h0M913.9 150.3h0M910.6 147.0h0M907.3 145.2h0M904.0 143.5h0M900.7 141.3h0M897.4 138.8h0M894.1 136.2h0M890.8 133.9h0M887.5 130.7h0M884.2 127.2h0M880.9 125.6h0M877.6 123.9h0M874.3 121.3h0M871.0 116.4h0M867.8 114.9h0M864.5 111.1h0M863.1 109.7h0M871.9 77.9h0M874.1 77.1h0M877.4 80.1h0M880.7 81.5h0M884.0 80.5h0M887.3 81.2h0M890.6 80.7h0M893.9 82.3h0M897.1 83.7h0M900.4 82.0h0M903.7 83.9h0M907.0 86.1h0M910.3 84.7h0M913.6 84.4h0M916.9 84.9h0M920.2 87.3h0M923.5 88.0h0M926.8 86.9h0M930.1 87.5h0M933.4 91.3h0M936.7 90.4h0M940.0 90.9h0M943.3 91.7h0M946.6 94.9h0M949.9 95.5h0M953.2 94.2h0M956.5 96.3h0M959.7 98.7h0M963.0 100.2h0M966.3 101.0h0M969.6 102.4h0M972.9 105.8h0M976.2 107.6h0M979.5 107.0h0M982.8 109.5h0M986.1 111.9h0M989.4 112.6h0M992.7 113.6h0M996.0 115.8h0M999.3 120.1h0M1002.6 123.4h0M1005.9 124.6h0M1009.2 129.0h0M1012.5 135.1h0M1015.8 137.2h0M1019.1 140.0h0M1022.3 144.2h0M1025.6 149.4h0M1028.9 152.4h0M1032.2 154.1h0M1035.5 159.0h0M1038.8 164.0h0M1042.1 169.8h0M1045.4 174.3h0M1048.7 183.2h0M1052.0 194.2h0M1055.3 205.8h0M1058.6 214.3h0M1061.9 226.4h0M1065.2 241.7h0M1068.5 254.5h0M1071.8 269.8h0M1075.1 287.7h0M1078.4 478.7h0" stroke="#6E6E6E" stroke-width="5.5" stroke-linecap="round" fill="none"/>
<g stroke="#5A8868" fill="none" stroke-width="1.1"><polyline points="1078.4,478.7 1081.5,389.7 1084.8,354.9 1088.1,333.6 1091.4,323.6 1094.7,313.1 1098.0,304.1 1101.3,297.7 1104.6,289.9 1107.9,286.2 1111.2,281.2 1114.5,275.6 1117.8,271.7 1121.1,266.6 1124.4,263.3 1127.7,260.0 1131.0,257.2 1134.3,251.5 1137.6,245.4 1140.9,241.7 1144.2,237.1 1147.4,231.5 1150.7,226.1 1154.0,221.1 1157.3,215.6 1160.6,211.2 1163.9,205.9 1167.2,202.8 1170.5,197.6 1173.8,192.3 1177.1,188.6 1180.4,185.9 1183.7,184.2 1187.0,180.9 1190.3,178.9 1193.6,175.9 1196.9,173.8 1200.2,169.5 1203.5,168.3 1206.8,166.2 1210.0,164.2 1213.3,161.8 1216.6,158.2 1219.9,156.6 1223.2,154.6 1226.5,152.2 1229.8,150.6 1233.1,148.1 1236.4,146.2 1239.7,142.8 1243.0,140.9 1246.3,139.2 1249.6,137.7 1252.9,133.6 1256.2,130.1 1259.5,128.4 1262.8,125.8 1266.1,122.5 1269.4,120.6 1272.6,117.8 1275.9,113.5 1279.2,110.2 1282.5,107.9 1285.8,105.9 1289.1,103.2 1292.4,99.3 1295.7,95.5 1299.0,92.5 1300.2,91.2"/><polyline points="1291.4,68.7 1288.9,70.4 1285.6,73.3 1282.3,76.2 1279.0,78.5 1275.7,79.1 1272.4,80.6 1269.1,81.9 1265.8,81.5 1262.5,82.3 1259.2,83.4 1255.9,85.4 1252.6,88.5 1249.3,90.5 1246.1,92.0 1242.8,93.5 1239.5,93.2 1236.2,95.1 1232.9,97.2 1229.6,97.3 1226.3,99.4 1223.0,101.3 1219.7,104.7 1216.4,107.7 1213.1,109.3 1209.8,111.7 1206.5,114.1 1203.2,115.8 1199.9,117.6 1196.6,121.5 1193.3,123.7 1190.0,128.5 1186.7,129.6 1183.5,132.7 1180.2,135.0 1176.9,136.9 1173.6,137.9 1170.3,139.3 1167.0,141.5 1163.7,144.7 1160.4,145.6 1157.1,148.4 1153.8,151.0 1150.5,152.5 1147.2,153.2 1143.9,153.3 1140.6,155.2 1137.3,157.0 1134.0,159.2 1130.7,163.6 1127.4,166.7 1124.1,168.8 1120.9,173.3 1117.6,176.5 1114.3,181.5 1111.0,186.5 1107.7,190.8 1104.4,197.8 1101.1,207.7 1097.8,219.2 1094.5,233.9 1091.2,248.4 1087.9,264.7 1084.6,290.4 1081.3,478.4 1078.4,478.6"/><polyline points="1078.4,478.7 1075.0,401.2 1071.7,367.1 1068.4,346.3 1065.1,332.6 1061.8,323.9 1058.5,317.1 1055.3,309.7 1052.0,302.0 1048.7,295.4 1045.4,287.3 1042.1,279.5 1038.8,273.0 1035.5,267.4 1032.2,261.9 1028.9,257.8 1025.6,253.8 1022.3,249.6 1019.0,243.7 1015.7,239.6 1012.4,235.3 1009.1,230.1 1005.8,225.4 1002.5,221.3 999.2,216.7 995.9,211.9 992.7,206.6 989.4,202.4 986.1,198.3 982.8,195.6 979.5,193.1 976.2,191.1 972.9,188.6 969.6,185.4 966.3,184.1 963.0,183.4 959.7,179.7 956.4,177.8 953.1,174.7 949.8,172.8 946.5,171.7 943.2,169.3 939.9,167.3 936.6,165.6 933.3,162.7 930.1,161.3 926.8,158.3 923.5,155.8 920.2,154.1 916.9,150.4 913.6,148.3 910.3,145.4 907.0,143.8 903.7,141.4 900.4,139.3 897.1,135.4 893.8,133.9 890.5,131.6 887.2,128.7 883.9,125.8 880.6,123.1 877.3,120.8 876.8,120.3"/><polyline points="869.7,76.3 871.1,75.6 874.3,75.6 877.6,76.8 880.9,76.8 884.2,77.4 887.5,78.5 890.8,77.8 894.1,79.8 897.4,80.0 900.7,79.8 904.0,81.6 907.3,82.0 910.6,83.1 913.9,83.6 917.2,82.3 920.5,83.8 923.8,84.2 927.1,84.1 930.4,85.5 933.7,85.3 936.9,85.5 940.2,87.2 943.5,87.9 946.8,88.7 950.1,89.7 953.4,90.5 956.7,92.0 960.0,92.1 963.3,93.2 966.6,95.7 969.9,96.2 973.2,98.5 976.5,99.8 979.8,100.7 983.1,103.1 986.4,104.1 989.7,105.5 993.0,107.8 996.3,108.7 999.6,112.8 1002.8,114.9 1006.1,118.2 1009.4,122.7 1012.7,125.2 1016.0,128.8 1019.3,131.6 1022.6,135.0 1025.9,140.5 1029.2,144.9 1032.5,147.7 1035.8,152.5 1039.1,156.2 1042.4,164.2 1045.7,171.7 1049.0,179.5 1052.3,189.5 1055.6,198.7 1058.9,209.8 1062.2,221.3 1065.4,235.5 1068.7,249.0 1072.0,266.8 1075.3,287.5 1078.4,478.6"/><line x1="1300.2" y1="91.7" x2="1276.1" y2="79.1"/><line x1="876.8" y1="120.2" x2="937.8" y2="86.6"/></g>
<path d="M1078.4 478.7h0M1081.5 389.7h0M1084.8 354.9h0M1088.1 333.6h0M1091.4 323.6h0M1094.7 313.1h0M1098.0 304.1h0M1101.3 297.7h0M1104.6 289.9h0M1107.9 286.2h0M1111.2 281.2h0M1114.5 275.6h0M1117.8 271.7h0M1121.1 266.6h0M1124.4 263.3h0M1127.7 260.0h0M1131.0 257.2h0M1134.3 251.5h0M1137.6 245.4h0M1140.9 241.7h0M1144.2 237.1h0M1147.4 231.5h0M1150.7 226.1h0M1154.0 221.1h0M1157.3 215.6h0M1160.6 211.2h0M1163.9 205.9h0M1167.2 202.8h0M1170.5 197.6h0M1173.8 192.3h0M1177.1 188.6h0M1180.4 185.9h0M1183.7 184.2h0M1187.0 180.9h0M1190.3 178.9h0M1193.6 175.9h0M1196.9 173.8h0M1200.2 169.5h0M1203.5 168.3h0M1206.8 166.2h0M1210.0 164.2h0M1213.3 161.8h0M1216.6 158.2h0M1219.9 156.6h0M1223.2 154.6h0M1226.5 152.2h0M1229.8 150.6h0M1233.1 148.1h0M1236.4 146.2h0M1239.7 142.8h0M1243.0 140.9h0M1246.3 139.2h0M1249.6 137.7h0M1252.9 133.6h0M1256.2 130.1h0M1259.5 128.4h0M1262.8 125.8h0M1266.1 122.5h0M1269.4 120.6h0M1272.6 117.8h0M1275.9 113.5h0M1279.2 110.2h0M1282.5 107.9h0M1285.8 105.9h0M1289.1 103.2h0M1292.4 99.3h0M1295.7 95.5h0M1299.0 92.5h0M1300.2 91.2h0M1291.4 68.7h0M1288.9 70.4h0M1285.6 73.3h0M1282.3 76.2h0M1279.0 78.5h0M1275.7 79.1h0M1272.4 80.6h0M1269.1 81.9h0M1265.8 81.5h0M1262.5 82.3h0M1259.2 83.4h0M1255.9 85.4h0M1252.6 88.5h0M1249.3 90.5h0M1246.1 92.0h0M1242.8 93.5h0M1239.5 93.2h0M1236.2 95.1h0M1232.9 97.2h0M1229.6 97.3h0M1226.3 99.4h0M1223.0 101.3h0M1219.7 104.7h0M1216.4 107.7h0M1213.1 109.3h0M1209.8 111.7h0M1206.5 114.1h0M1203.2 115.8h0M1199.9 117.6h0M1196.6 121.5h0M1193.3 123.7h0M1190.0 128.5h0M1186.7 129.6h0M1183.5 132.7h0M1180.2 135.0h0M1176.9 136.9h0M1173.6 137.9h0M1170.3 139.3h0M1167.0 141.5h0M1163.7 144.7h0M1160.4 145.6h0M1157.1 148.4h0M1153.8 151.0h0M1150.5 152.5h0M1147.2 153.2h0M1143.9 153.3h0M1140.6 155.2h0M1137.3 157.0h0M1134.0 159.2h0M1130.7 163.6h0M1127.4 166.7h0M1124.1 168.8h0M1120.9 173.3h0M1117.6 176.5h0M1114.3 181.5h0M1111.0 186.5h0M1107.7 190.8h0M1104.4 197.8h0M1101.1 207.7h0M1097.8 219.2h0M1094.5 233.9h0M1091.2 248.4h0M1087.9 264.7h0M1084.6 290.4h0M1081.3 478.4h0M1078.4 478.6h0M1078.4 478.7h0M1075.0 401.2h0M1071.7 367.1h0M1068.4 346.3h0M1065.1 332.6h0M1061.8 323.9h0M1058.5 317.1h0M1055.3 309.7h0M1052.0 302.0h0M1048.7 295.4h0M1045.4 287.3h0M1042.1 279.5h0M1038.8 273.0h0M1035.5 267.4h0M1032.2 261.9h0M1028.9 257.8h0M1025.6 253.8h0M1022.3 249.6h0M1019.0 243.7h0M1015.7 239.6h0M1012.4 235.3h0M1009.1 230.1h0M1005.8 225.4h0M1002.5 221.3h0M999.2 216.7h0M995.9 211.9h0M992.7 206.6h0M989.4 202.4h0M986.1 198.3h0M982.8 195.6h0M979.5 193.1h0M976.2 191.1h0M972.9 188.6h0M969.6 185.4h0M966.3 184.1h0M963.0 183.4h0M959.7 179.7h0M956.4 177.8h0M953.1 174.7h0M949.8 172.8h0M946.5 171.7h0M943.2 169.3h0M939.9 167.3h0M936.6 165.6h0M933.3 162.7h0M930.1 161.3h0M926.8 158.3h0M923.5 155.8h0M920.2 154.1h0M916.9 150.4h0M913.6 148.3h0M910.3 145.4h0M907.0 143.8h0M903.7 141.4h0M900.4 139.3h0M897.1 135.4h0M893.8 133.9h0M890.5 131.6h0M887.2 128.7h0M883.9 125.8h0M880.6 123.1h0M877.3 120.8h0M876.8 120.3h0M869.7 76.3h0M871.1 75.6h0M874.3 75.6h0M877.6 76.8h0M880.9 76.8h0M884.2 77.4h0M887.5 78.5h0M890.8 77.8h0M894.1 79.8h0M897.4 80.0h0M900.7 79.8h0M904.0 81.6h0M907.3 82.0h0M910.6 83.1h0M913.9 83.6h0M917.2 82.3h0M920.5 83.8h0M923.8 84.2h0M927.1 84.1h0M930.4 85.5h0M933.7 85.3h0M936.9 85.5h0M940.2 87.2h0M943.5 87.9h0M946.8 88.7h0M950.1 89.7h0M953.4 90.5h0M956.7 92.0h0M960.0 92.1h0M963.3 93.2h0M966.6 95.7h0M969.9 96.2h0M973.2 98.5h0M976.5 99.8h0M979.8 100.7h0M983.1 103.1h0M986.4 104.1h0M989.7 105.5h0M993.0 107.8h0M996.3 108.7h0M999.6 112.8h0M1002.8 114.9h0M1006.1 118.2h0M1009.4 122.7h0M1012.7 125.2h0M1016.0 128.8h0M1019.3 131.6h0M1022.6 135.0h0M1025.9 140.5h0M1029.2 144.9h0M1032.5 147.7h0M1035.8 152.5h0M1039.1 156.2h0M1042.4 164.2h0M1045.7 171.7h0M1049.0 179.5h0M1052.3 189.5h0M1055.6 198.7h0M1058.9 209.8h0M1062.2 221.3h0M1065.4 235.5h0M1068.7 249.0h0M1072.0 266.8h0M1075.3 287.5h0M1078.4 478.6h0" stroke="#5A8868" stroke-width="5.5" stroke-linecap="round" fill="none"/>
<g stroke="#006C7E" fill="none" stroke-width="1.1"><polyline points="1078.4,478.7 1082.0,373.4 1085.3,344.4 1088.6,325.4 1091.9,315.6 1095.2,307.1 1098.5,300.9 1101.8,293.9 1105.1,289.6 1108.4,283.3 1111.7,278.9 1115.0,274.3 1118.3,268.9 1121.6,264.3 1124.9,259.2 1128.2,254.4 1131.4,250.5 1134.7,245.1 1138.0,240.5 1141.3,235.0 1144.6,229.7 1147.9,223.7 1151.2,216.5 1154.5,211.4 1157.8,206.8 1161.1,203.1 1164.4,198.5 1167.7,194.3 1171.0,189.3 1174.3,184.9 1177.6,179.7 1180.9,177.9 1184.2,175.2 1187.5,172.4 1190.8,170.5 1194.1,169.5 1197.3,166.7 1200.6,165.4 1203.9,163.0 1207.2,161.4 1210.5,159.8 1213.8,157.4 1217.1,155.0 1220.4,153.2 1223.7,152.2 1227.0,149.5 1230.3,148.1 1233.6,145.7 1236.9,143.4 1240.2,141.5 1243.5,138.3 1246.8,136.3 1250.1,135.1 1253.4,132.3 1256.7,129.5 1259.9,127.4 1263.2,124.8 1266.5,122.4 1269.8,118.6 1273.1,115.5 1276.4,112.3 1279.7,109.3 1283.0,105.6 1286.3,103.5 1289.6,101.8 1292.9,97.8 1296.2,94.4 1299.5,91.6 1301.1,90.6"/><polyline points="1298.4,72.0 1296.0,72.8 1292.7,74.9 1289.4,76.5 1286.1,77.0 1282.8,77.9 1279.5,78.7 1276.2,79.4 1272.9,79.2 1269.6,80.5 1266.3,83.0 1263.0,83.5 1259.7,85.7 1256.4,87.2 1253.1,88.0 1249.8,89.8 1246.5,90.7 1243.2,92.1 1240.0,94.0 1236.7,94.5 1233.4,95.1 1230.1,96.1 1226.8,97.8 1223.5,99.9 1220.2,101.8 1216.9,104.2 1213.6,105.7 1210.3,107.6 1207.0,110.4 1203.7,112.9 1200.4,115.1 1197.1,117.4 1193.8,121.5 1190.5,124.3 1187.2,128.5 1183.9,131.4 1180.6,136.2 1177.4,139.0 1174.1,140.7 1170.8,144.1 1167.5,146.4 1164.2,149.5 1160.9,151.0 1157.6,152.5 1154.3,153.8 1151.0,154.9 1147.7,157.5 1144.4,159.6 1141.1,162.1 1137.8,165.4 1134.5,167.1 1131.2,171.4 1127.9,175.7 1124.6,179.0 1121.3,183.3 1118.0,188.1 1114.8,191.2 1111.5,195.5 1108.2,201.4 1104.9,208.4 1101.6,217.4 1098.3,228.8 1095.0,240.7 1091.7,254.7 1088.4,271.1 1085.1,291.5 1081.8,478.7 1078.4,478.7"/><polyline points="1078.4,478.7 1074.6,388.8 1071.3,354.2 1068.0,337.6 1064.7,324.6 1061.4,317.4 1058.2,310.4 1054.9,301.9 1051.6,294.0 1048.3,285.1 1045.0,277.0 1041.7,268.8 1038.4,261.2 1035.1,255.9 1031.8,250.0 1028.5,246.1 1025.2,242.3 1021.9,237.0 1018.6,233.2 1015.3,228.5 1012.0,222.9 1008.7,218.6 1005.4,215.4 1002.1,210.9 998.8,207.4 995.6,201.9 992.3,197.3 989.0,193.3 985.7,191.0 982.4,188.4 979.1,186.7 975.8,185.2 972.5,183.6 969.2,181.6 965.9,180.2 962.6,179.4 959.3,177.0 956.0,174.4 952.7,172.0 949.4,170.9 946.1,168.2 942.8,167.5 939.5,166.4 936.2,164.2 933.0,163.2 929.7,159.0 926.4,157.7 923.1,156.3 919.8,153.2 916.5,151.3 913.2,149.1 909.9,146.7 906.6,145.5 903.3,143.3 900.0,141.8 896.7,138.6 893.4,135.6 890.1,133.7 886.8,131.0 883.5,129.9 880.2,128.1 876.9,125.1 873.6,121.1 870.4,120.0 867.1,115.9 863.8,114.0 860.5,111.1 857.2,109.0 854.4,107.1"/><polyline points="880.7,75.5 881.1,74.8 884.4,75.2 887.7,76.2 891.0,78.0 894.3,78.3 897.6,77.5 900.9,78.8 904.2,78.0 907.5,77.9 910.8,77.4 914.1,78.9 917.4,80.0 920.7,79.5 924.0,79.3 927.2,81.0 930.5,82.0 933.8,83.3 937.1,84.5 940.4,83.6 943.7,84.2 947.0,85.3 950.3,84.3 953.6,86.2 956.9,85.9 960.2,86.7 963.5,87.4 966.8,88.3 970.1,90.3 973.4,91.4 976.7,91.8 980.0,95.1 983.3,96.2 986.6,97.4 989.8,99.7 993.1,99.9 996.4,102.4 999.7,105.4 1003.0,107.6 1006.3,110.8 1009.6,115.7 1012.9,118.2 1016.2,122.4 1019.5,126.1 1022.8,130.4 1026.1,134.6 1029.4,137.8 1032.7,141.2 1036.0,144.6 1039.3,147.5 1042.6,155.6 1045.9,163.3 1049.2,173.0 1052.4,182.6 1055.7,192.2 1059.0,203.7 1062.3,214.9 1065.6,228.8 1068.9,244.1 1072.2,263.5 1075.5,287.6 1078.4,478.7"/><line x1="1301.1" y1="90.0" x2="1279.6" y2="78.3"/><line x1="854.4" y1="108.0" x2="911.5" y2="78.1"/></g>
<path d="M1078.4 478.7h0M1082.0 373.4h0M1085.3 344.4h0M1088.6 325.4h0M1091.9 315.6h0M1095.2 307.1h0M1098.5 300.9h0M1101.8 293.9h0M1105.1 289.6h0M1108.4 283.3h0M1111.7 278.9h0M1115.0 274.3h0M1118.3 268.9h0M1121.6 264.3h0M1124.9 259.2h0M1128.2 254.4h0M1131.4 250.5h0M1134.7 245.1h0M1138.0 240.5h0M1141.3 235.0h0M1144.6 229.7h0M1147.9 223.7h0M1151.2 216.5h0M1154.5 211.4h0M1157.8 206.8h0M1161.1 203.1h0M1164.4 198.5h0M1167.7 194.3h0M1171.0 189.3h0M1174.3 184.9h0M1177.6 179.7h0M1180.9 177.9h0M1184.2 175.2h0M1187.5 172.4h0M1190.8 170.5h0M1194.1 169.5h0M1197.3 166.7h0M1200.6 165.4h0M1203.9 163.0h0M1207.2 161.4h0M1210.5 159.8h0M1213.8 157.4h0M1217.1 155.0h0M1220.4 153.2h0M1223.7 152.2h0M1227.0 149.5h0M1230.3 148.1h0M1233.6 145.7h0M1236.9 143.4h0M1240.2 141.5h0M1243.5 138.3h0M1246.8 136.3h0M1250.1 135.1h0M1253.4 132.3h0M1256.7 129.5h0M1259.9 127.4h0M1263.2 124.8h0M1266.5 122.4h0M1269.8 118.6h0M1273.1 115.5h0M1276.4 112.3h0M1279.7 109.3h0M1283.0 105.6h0M1286.3 103.5h0M1289.6 101.8h0M1292.9 97.8h0M1296.2 94.4h0M1299.5 91.6h0M1301.1 90.6h0M1298.4 72.0h0M1296.0 72.8h0M1292.7 74.9h0M1289.4 76.5h0M1286.1 77.0h0M1282.8 77.9h0M1279.5 78.7h0M1276.2 79.4h0M1272.9 79.2h0M1269.6 80.5h0M1266.3 83.0h0M1263.0 83.5h0M1259.7 85.7h0M1256.4 87.2h0M1253.1 88.0h0M1249.8 89.8h0M1246.5 90.7h0M1243.2 92.1h0M1240.0 94.0h0M1236.7 94.5h0M1233.4 95.1h0M1230.1 96.1h0M1226.8 97.8h0M1223.5 99.9h0M1220.2 101.8h0M1216.9 104.2h0M1213.6 105.7h0M1210.3 107.6h0M1207.0 110.4h0M1203.7 112.9h0M1200.4 115.1h0M1197.1 117.4h0M1193.8 121.5h0M1190.5 124.3h0M1187.2 128.5h0M1183.9 131.4h0M1180.6 136.2h0M1177.4 139.0h0M1174.1 140.7h0M1170.8 144.1h0M1167.5 146.4h0M1164.2 149.5h0M1160.9 151.0h0M1157.6 152.5h0M1154.3 153.8h0M1151.0 154.9h0M1147.7 157.5h0M1144.4 159.6h0M1141.1 162.1h0M1137.8 165.4h0M1134.5 167.1h0M1131.2 171.4h0M1127.9 175.7h0M1124.6 179.0h0M1121.3 183.3h0M1118.0 188.1h0M1114.8 191.2h0M1111.5 195.5h0M1108.2 201.4h0M1104.9 208.4h0M1101.6 217.4h0M1098.3 228.8h0M1095.0 240.7h0M1091.7 254.7h0M1088.4 271.1h0M1085.1 291.5h0M1081.8 478.7h0M1078.4 478.7h0M1078.4 478.7h0M1074.6 388.8h0M1071.3 354.2h0M1068.0 337.6h0M1064.7 324.6h0M1061.4 317.4h0M1058.2 310.4h0M1054.9 301.9h0M1051.6 294.0h0M1048.3 285.1h0M1045.0 277.0h0M1041.7 268.8h0M1038.4 261.2h0M1035.1 255.9h0M1031.8 250.0h0M1028.5 246.1h0M1025.2 242.3h0M1021.9 237.0h0M1018.6 233.2h0M1015.3 228.5h0M1012.0 222.9h0M1008.7 218.6h0M1005.4 215.4h0M1002.1 210.9h0M998.8 207.4h0M995.6 201.9h0M992.3 197.3h0M989.0 193.3h0M985.7 191.0h0M982.4 188.4h0M979.1 186.7h0M975.8 185.2h0M972.5 183.6h0M969.2 181.6h0M965.9 180.2h0M962.6 179.4h0M959.3 177.0h0M956.0 174.4h0M952.7 172.0h0M949.4 170.9h0M946.1 168.2h0M942.8 167.5h0M939.5 166.4h0M936.2 164.2h0M933.0 163.2h0M929.7 159.0h0M926.4 157.7h0M923.1 156.3h0M919.8 153.2h0M916.5 151.3h0M913.2 149.1h0M909.9 146.7h0M906.6 145.5h0M903.3 143.3h0M900.0 141.8h0M896.7 138.6h0M893.4 135.6h0M890.1 133.7h0M886.8 131.0h0M883.5 129.9h0M880.2 128.1h0M876.9 125.1h0M873.6 121.1h0M870.4 120.0h0M867.1 115.9h0M863.8 114.0h0M860.5 111.1h0M857.2 109.0h0M854.4 107.1h0M880.7 75.5h0M881.1 74.8h0M884.4 75.2h0M887.7 76.2h0M891.0 78.0h0M894.3 78.3h0M897.6 77.5h0M900.9 78.8h0M904.2 78.0h0M907.5 77.9h0M910.8 77.4h0M914.1 78.9h0M917.4 80.0h0M920.7 79.5h0M924.0 79.3h0M927.2 81.0h0M930.5 82.0h0M933.8 83.3h0M937.1 84.5h0M940.4 83.6h0M943.7 84.2h0M947.0 85.3h0M950.3 84.3h0M953.6 86.2h0M956.9 85.9h0M960.2 86.7h0M963.5 87.4h0M966.8 88.3h0M970.1 90.3h0M973.4 91.4h0M976.7 91.8h0M980.0 95.1h0M983.3 96.2h0M986.6 97.4h0M989.8 99.7h0M993.1 99.9h0M996.4 102.4h0M999.7 105.4h0M1003.0 107.6h0M1006.3 110.8h0M1009.6 115.7h0M1012.9 118.2h0M1016.2 122.4h0M1019.5 126.1h0M1022.8 130.4h0M1026.1 134.6h0M1029.4 137.8h0M1032.7 141.2h0M1036.0 144.6h0M1039.3 147.5h0M1042.6 155.6h0M1045.9 163.3h0M1049.2 173.0h0M1052.4 182.6h0M1055.7 192.2h0M1059.0 203.7h0M1062.3 214.9h0M1065.6 228.8h0M1068.9 244.1h0M1072.2 263.5h0M1075.5 287.6h0M1078.4 478.7h0" stroke="#006C7E" stroke-width="5.5" stroke-linecap="round" fill="none"/>
<g stroke="#F49A00" fill="none" stroke-width="1.1"><polyline points="1078.4,478.7 1081.6,394.1 1084.9,359.3 1088.2,338.2 1091.5,327.1 1094.8,316.8 1098.1,307.9 1101.4,299.6 1104.7,291.8 1108.0,286.6 1111.3,281.7 1114.6,276.4 1117.9,272.3 1121.2,268.5 1124.5,265.0 1127.7,261.7 1131.0,258.8 1134.3,253.9 1137.6,250.9 1140.9,245.7 1144.2,240.9 1147.5,235.9 1150.8,230.7 1154.1,226.0 1157.4,221.1 1160.7,217.9 1164.0,212.4 1167.3,208.7 1170.6,202.8 1173.9,198.9 1177.2,194.6 1180.5,190.7 1183.8,189.3 1187.1,185.7 1190.3,182.1 1193.6,178.6 1196.9,175.7 1200.2,173.6 1203.5,171.2 1206.8,169.0 1210.1,166.8 1213.4,165.0 1216.7,162.3 1220.0,160.1 1223.3,157.8 1226.6,155.3 1229.9,153.1 1233.2,151.0 1236.5,148.3 1239.8,145.9 1243.1,144.3 1246.4,142.3 1249.7,139.5 1252.9,136.4 1256.2,133.7 1259.5,130.6 1262.8,127.3 1266.1,125.7 1269.4,121.5 1272.7,119.6 1276.0,117.3 1279.3,114.0 1282.6,113.0 1285.9,110.1 1289.2,107.3 1292.5,105.2 1292.8,104.7"/><polyline points="1291.5,68.7 1289.7,71.1 1286.4,72.0 1283.1,72.3 1279.8,75.0 1276.5,76.8 1273.2,77.7 1269.9,78.9 1266.6,78.9 1263.3,80.8 1260.0,80.9 1256.7,82.0 1253.4,83.3 1250.1,84.3 1246.8,84.5 1243.5,86.2 1240.2,86.8 1236.9,89.5 1233.6,91.4 1230.4,92.1 1227.1,94.9 1223.8,95.9 1220.5,96.6 1217.2,97.9 1213.9,99.3 1210.6,101.5 1207.3,103.1 1204.0,104.2 1200.7,106.2 1197.4,109.4 1194.1,112.2 1190.8,115.8 1187.5,120.0 1184.2,126.6 1180.9,130.7 1177.6,135.6 1174.3,139.4 1171.0,141.7 1167.8,143.5 1164.5,146.3 1161.2,149.0 1157.9,151.1 1154.6,153.0 1151.3,155.0 1148.0,158.4 1144.7,161.7 1141.4,162.9 1138.1,167.2 1134.8,169.7 1131.5,172.7 1128.2,176.5 1124.9,179.3 1121.6,183.7 1118.3,188.2 1115.0,191.1 1111.7,197.0 1108.4,201.5 1105.2,210.0 1101.9,218.4 1098.6,229.8 1095.3,242.5 1092.0,255.2 1088.7,271.1 1085.4,290.5 1082.1,478.6 1078.4,478.5"/><polyline points="1078.4,478.6 1075.3,392.5 1072.1,357.3 1068.8,336.8 1065.5,322.8 1062.2,315.0 1058.9,308.7 1055.6,300.4 1052.3,291.6 1049.0,283.4 1045.7,275.4 1042.4,267.2 1039.1,257.2 1035.8,251.1 1032.5,245.8 1029.2,240.5 1025.9,236.1 1022.6,230.6 1019.3,227.5 1016.0,223.4 1012.7,219.7 1009.5,215.5 1006.2,210.6 1002.9,207.0 999.6,203.4 996.3,198.4 993.0,194.5 989.7,190.2 986.4,187.2 983.1,185.5 979.8,184.1 976.5,183.9 973.2,182.1 969.9,179.3 966.6,179.3 963.3,177.1 960.0,175.6 956.7,174.2 953.4,172.2 950.1,169.9 946.9,168.2 943.6,166.5 940.3,165.1 937.0,162.7 933.7,161.1 930.4,159.3 927.1,157.6 923.8,156.3 920.5,154.5 917.2,150.7 913.9,149.2 910.6,146.6 907.3,144.9 904.0,141.7 900.7,139.6 897.4,138.1 894.1,136.7 890.8,134.1 887.5,131.7 884.3,129.8 881.0,127.8 877.7,125.5 874.4,122.2 871.1,120.3 867.8,117.3 864.5,114.4 861.2,112.1 860.9,111.2"/><polyline points="885.1,74.8 886.8,74.3 890.1,72.9 893.4,73.3 896.7,73.6 900.0,73.6 903.3,75.4 906.6,75.0 909.9,75.4 913.2,77.0 916.5,76.3 919.8,77.5 923.1,78.4 926.4,77.4 929.7,77.5 933.0,77.3 936.3,77.3 939.6,78.9 942.8,79.4 946.1,79.2 949.4,79.9 952.7,79.8 956.0,81.4 959.3,81.9 962.6,82.1 965.9,83.3 969.2,83.5 972.5,84.4 975.8,84.9 979.1,86.4 982.4,88.5 985.7,88.9 989.0,88.9 992.3,91.7 995.6,92.5 998.9,95.8 1002.2,98.8 1005.4,102.8 1008.7,107.4 1012.0,110.6 1015.3,112.8 1018.6,117.8 1021.9,120.0 1025.2,124.1 1028.5,127.5 1031.8,131.6 1035.1,136.1 1038.4,139.5 1041.7,147.9 1045.0,157.1 1048.3,164.9 1051.6,174.6 1054.9,184.2 1058.2,193.8 1061.5,205.6 1064.8,216.7 1068.0,232.0 1071.3,253.6 1074.6,273.6 1078.4,478.7"/><line x1="1292.8" y1="104.6" x2="1259.4" y2="81.4"/><line x1="860.9" y1="111.3" x2="959.8" y2="81.6"/></g>
<path d="M1078.4 478.7h0M1081.6 394.1h0M1084.9 359.3h0M1088.2 338.2h0M1091.5 327.1h0M1094.8 316.8h0M1098.1 307.9h0M1101.4 299.6h0M1104.7 291.8h0M1108.0 286.6h0M1111.3 281.7h0M1114.6 276.4h0M1117.9 272.3h0M1121.2 268.5h0M1124.5 265.0h0M1127.7 261.7h0M1131.0 258.8h0M1134.3 253.9h0M1137.6 250.9h0M1140.9 245.7h0M1144.2 240.9h0M1147.5 235.9h0M1150.8 230.7h0M1154.1 226.0h0M1157.4 221.1h0M1160.7 217.9h0M1164.0 212.4h0M1167.3 208.7h0M1170.6 202.8h0M1173.9 198.9h0M1177.2 194.6h0M1180.5 190.7h0M1183.8 189.3h0M1187.1 185.7h0M1190.3 182.1h0M1193.6 178.6h0M1196.9 175.7h0M1200.2 173.6h0M1203.5 171.2h0M1206.8 169.0h0M1210.1 166.8h0M1213.4 165.0h0M1216.7 162.3h0M1220.0 160.1h0M1223.3 157.8h0M1226.6 155.3h0M1229.9 153.1h0M1233.2 151.0h0M1236.5 148.3h0M1239.8 145.9h0M1243.1 144.3h0M1246.4 142.3h0M1249.7 139.5h0M1252.9 136.4h0M1256.2 133.7h0M1259.5 130.6h0M1262.8 127.3h0M1266.1 125.7h0M1269.4 121.5h0M1272.7 119.6h0M1276.0 117.3h0M1279.3 114.0h0M1282.6 113.0h0M1285.9 110.1h0M1289.2 107.3h0M1292.5 105.2h0M1292.8 104.7h0M1291.5 68.7h0M1289.7 71.1h0M1286.4 72.0h0M1283.1 72.3h0M1279.8 75.0h0M1276.5 76.8h0M1273.2 77.7h0M1269.9 78.9h0M1266.6 78.9h0M1263.3 80.8h0M1260.0 80.9h0M1256.7 82.0h0M1253.4 83.3h0M1250.1 84.3h0M1246.8 84.5h0M1243.5 86.2h0M1240.2 86.8h0M1236.9 89.5h0M1233.6 91.4h0M1230.4 92.1h0M1227.1 94.9h0M1223.8 95.9h0M1220.5 96.6h0M1217.2 97.9h0M1213.9 99.3h0M1210.6 101.5h0M1207.3 103.1h0M1204.0 104.2h0M1200.7 106.2h0M1197.4 109.4h0M1194.1 112.2h0M1190.8 115.8h0M1187.5 120.0h0M1184.2 126.6h0M1180.9 130.7h0M1177.6 135.6h0M1174.3 139.4h0M1171.0 141.7h0M1167.8 143.5h0M1164.5 146.3h0M1161.2 149.0h0M1157.9 151.1h0M1154.6 153.0h0M1151.3 155.0h0M1148.0 158.4h0M1144.7 161.7h0M1141.4 162.9h0M1138.1 167.2h0M1134.8 169.7h0M1131.5 172.7h0M1128.2 176.5h0M1124.9 179.3h0M1121.6 183.7h0M1118.3 188.2h0M1115.0 191.1h0M1111.7 197.0h0M1108.4 201.5h0M1105.2 210.0h0M1101.9 218.4h0M1098.6 229.8h0M1095.3 242.5h0M1092.0 255.2h0M1088.7 271.1h0M1085.4 290.5h0M1082.1 478.6h0M1078.4 478.5h0M1078.4 478.6h0M1075.3 392.5h0M1072.1 357.3h0M1068.8 336.8h0M1065.5 322.8h0M1062.2 315.0h0M1058.9 308.7h0M1055.6 300.4h0M1052.3 291.6h0M1049.0 283.4h0M1045.7 275.4h0M1042.4 267.2h0M1039.1 257.2h0M1035.8 251.1h0M1032.5 245.8h0M1029.2 240.5h0M1025.9 236.1h0M1022.6 230.6h0M1019.3 227.5h0M1016.0 223.4h0M1012.7 219.7h0M1009.5 215.5h0M1006.2 210.6h0M1002.9 207.0h0M999.6 203.4h0M996.3 198.4h0M993.0 194.5h0M989.7 190.2h0M986.4 187.2h0M983.1 185.5h0M979.8 184.1h0M976.5 183.9h0M973.2 182.1h0M969.9 179.3h0M966.6 179.3h0M963.3 177.1h0M960.0 175.6h0M956.7 174.2h0M953.4 172.2h0M950.1 169.9h0M946.9 168.2h0M943.6 166.5h0M940.3 165.1h0M937.0 162.7h0M933.7 161.1h0M930.4 159.3h0M927.1 157.6h0M923.8 156.3h0M920.5 154.5h0M917.2 150.7h0M913.9 149.2h0M910.6 146.6h0M907.3 144.9h0M904.0 141.7h0M900.7 139.6h0M897.4 138.1h0M894.1 136.7h0M890.8 134.1h0M887.5 131.7h0M884.3 129.8h0M881.0 127.8h0M877.7 125.5h0M874.4 122.2h0M871.1 120.3h0M867.8 117.3h0M864.5 114.4h0M861.2 112.1h0M860.9 111.2h0M885.1 74.8h0M886.8 74.3h0M890.1 72.9h0M893.4 73.3h0M896.7 73.6h0M900.0 73.6h0M903.3 75.4h0M906.6 75.0h0M909.9 75.4h0M913.2 77.0h0M916.5 76.3h0M919.8 77.5h0M923.1 78.4h0M926.4 77.4h0M929.7 77.5h0M933.0 77.3h0M936.3 77.3h0M939.6 78.9h0M942.8 79.4h0M946.1 79.2h0M949.4 79.9h0M952.7 79.8h0M956.0 81.4h0M959.3 81.9h0M962.6 82.1h0M965.9 83.3h0M969.2 83.5h0M972.5 84.4h0M975.8 84.9h0M979.1 86.4h0M982.4 88.5h0M985.7 88.9h0M989.0 88.9h0M992.3 91.7h0M995.6 92.5h0M998.9 95.8h0M1002.2 98.8h0M1005.4 102.8h0M1008.7 107.4h0M1012.0 110.6h0M1015.3 112.8h0M1018.6 117.8h0M1021.9 120.0h0M1025.2 124.1h0M1028.5 127.5h0M1031.8 131.6h0M1035.1 136.1h0M1038.4 139.5h0M1041.7 147.9h0M1045.0 157.1h0M1048.3 164.9h0M1051.6 174.6h0M1054.9 184.2h0M1058.2 193.8h0M1061.5 205.6h0M1064.8 216.7h0M1068.0 232.0h0M1071.3 253.6h0M1074.6 273.6h0M1078.4 478.7h0" stroke="#F49A00" stroke-width="5.5" stroke-linecap="round" fill="none"/>
</g>
<rect x="814.8" y="41.6" width="527.2" height="392.7" fill="none" stroke="#000" stroke-width="3.0"/>
<line x1="814.80" y1="434.30" x2="824.00" y2="434.30" stroke="#000" stroke-width="2.2" />
<text x="807.0" y="441.90" font-size="25" text-anchor="end">10<tspan dy="-10.0" font-size="16.8" letter-spacing="-0.6">-11</tspan></text>
<line x1="814.80" y1="412.02" x2="820.30" y2="412.02" stroke="#000" stroke-width="2.0" />
<line x1="814.80" y1="398.99" x2="820.30" y2="398.99" stroke="#000" stroke-width="2.0" />
<line x1="814.80" y1="389.75" x2="820.30" y2="389.75" stroke="#000" stroke-width="2.0" />
<line x1="814.80" y1="382.58" x2="820.30" y2="382.58" stroke="#000" stroke-width="2.0" />
<line x1="814.80" y1="376.72" x2="820.30" y2="376.72" stroke="#000" stroke-width="2.0" />
<line x1="814.80" y1="371.76" x2="820.30" y2="371.76" stroke="#000" stroke-width="2.0" />
<line x1="814.80" y1="367.47" x2="820.30" y2="367.47" stroke="#000" stroke-width="2.0" />
<line x1="814.80" y1="363.69" x2="820.30" y2="363.69" stroke="#000" stroke-width="2.0" />
<line x1="814.80" y1="360.30" x2="824.00" y2="360.30" stroke="#000" stroke-width="2.2" />
<text x="807.0" y="367.90" font-size="25" text-anchor="end">10<tspan dy="-10.0" font-size="16.8" letter-spacing="-0.6">-10</tspan></text>
<line x1="814.80" y1="338.02" x2="820.30" y2="338.02" stroke="#000" stroke-width="2.0" />
<line x1="814.80" y1="324.99" x2="820.30" y2="324.99" stroke="#000" stroke-width="2.0" />
<line x1="814.80" y1="315.75" x2="820.30" y2="315.75" stroke="#000" stroke-width="2.0" />
<line x1="814.80" y1="308.58" x2="820.30" y2="308.58" stroke="#000" stroke-width="2.0" />
<line x1="814.80" y1="302.72" x2="820.30" y2="302.72" stroke="#000" stroke-width="2.0" />
<line x1="814.80" y1="297.76" x2="820.30" y2="297.76" stroke="#000" stroke-width="2.0" />
<line x1="814.80" y1="293.47" x2="820.30" y2="293.47" stroke="#000" stroke-width="2.0" />
<line x1="814.80" y1="289.69" x2="820.30" y2="289.69" stroke="#000" stroke-width="2.0" />
<line x1="814.80" y1="286.30" x2="824.00" y2="286.30" stroke="#000" stroke-width="2.2" />
<text x="807.0" y="293.90" font-size="25" text-anchor="end">10<tspan dy="-10.0" font-size="16.8" letter-spacing="-0.6">-9</tspan></text>
<line x1="814.80" y1="264.02" x2="820.30" y2="264.02" stroke="#000" stroke-width="2.0" />
<line x1="814.80" y1="250.99" x2="820.30" y2="250.99" stroke="#000" stroke-width="2.0" />
<line x1="814.80" y1="241.75" x2="820.30" y2="241.75" stroke="#000" stroke-width="2.0" />
<line x1="814.80" y1="234.58" x2="820.30" y2="234.58" stroke="#000" stroke-width="2.0" />
<line x1="814.80" y1="228.72" x2="820.30" y2="228.72" stroke="#000" stroke-width="2.0" />
<line x1="814.80" y1="223.76" x2="820.30" y2="223.76" stroke="#000" stroke-width="2.0" />
<line x1="814.80" y1="219.47" x2="820.30" y2="219.47" stroke="#000" stroke-width="2.0" />
<line x1="814.80" y1="215.69" x2="820.30" y2="215.69" stroke="#000" stroke-width="2.0" />
<line x1="814.80" y1="212.30" x2="824.00" y2="212.30" stroke="#000" stroke-width="2.2" />
<text x="807.0" y="219.90" font-size="25" text-anchor="end">10<tspan dy="-10.0" font-size="16.8" letter-spacing="-0.6">-8</tspan></text>
<line x1="814.80" y1="190.02" x2="820.30" y2="190.02" stroke="#000" stroke-width="2.0" />
<line x1="814.80" y1="176.99" x2="820.30" y2="176.99" stroke="#000" stroke-width="2.0" />
<line x1="814.80" y1="167.75" x2="820.30" y2="167.75" stroke="#000" stroke-width="2.0" />
<line x1="814.80" y1="160.58" x2="820.30" y2="160.58" stroke="#000" stroke-width="2.0" />
<line x1="814.80" y1="154.72" x2="820.30" y2="154.72" stroke="#000" stroke-width="2.0" />
<line x1="814.80" y1="149.76" x2="820.30" y2="149.76" stroke="#000" stroke-width="2.0" />
<line x1="814.80" y1="145.47" x2="820.30" y2="145.47" stroke="#000" stroke-width="2.0" />
<line x1="814.80" y1="141.69" x2="820.30" y2="141.69" stroke="#000" stroke-width="2.0" />
<line x1="814.80" y1="138.30" x2="824.00" y2="138.30" stroke="#000" stroke-width="2.2" />
<text x="807.0" y="145.90" font-size="25" text-anchor="end">10<tspan dy="-10.0" font-size="16.8" letter-spacing="-0.6">-7</tspan></text>
<line x1="814.80" y1="116.02" x2="820.30" y2="116.02" stroke="#000" stroke-width="2.0" />
<line x1="814.80" y1="102.99" x2="820.30" y2="102.99" stroke="#000" stroke-width="2.0" />
<line x1="814.80" y1="93.75" x2="820.30" y2="93.75" stroke="#000" stroke-width="2.0" />
<line x1="814.80" y1="86.58" x2="820.30" y2="86.58" stroke="#000" stroke-width="2.0" />
<line x1="814.80" y1="80.72" x2="820.30" y2="80.72" stroke="#000" stroke-width="2.0" />
<line x1="814.80" y1="75.76" x2="820.30" y2="75.76" stroke="#000" stroke-width="2.0" />
<line x1="814.80" y1="71.47" x2="820.30" y2="71.47" stroke="#000" stroke-width="2.0" />
<line x1="814.80" y1="67.69" x2="820.30" y2="67.69" stroke="#000" stroke-width="2.0" />
<line x1="814.80" y1="64.30" x2="824.00" y2="64.30" stroke="#000" stroke-width="2.2" />
<text x="807.0" y="71.90" font-size="25" text-anchor="end">10<tspan dy="-10.0" font-size="16.8" letter-spacing="-0.6">-6</tspan></text>
<line x1="814.80" y1="42.02" x2="820.30" y2="42.02" stroke="#000" stroke-width="2.0" />
<line x1="814.82" y1="434.30" x2="814.82" y2="425.80" stroke="#000" stroke-width="2.2" />
<text x="814.82" y="463.00" font-size="26" text-anchor="middle" fill="#000" >-6</text>
<line x1="858.75" y1="434.30" x2="858.75" y2="428.50" stroke="#000" stroke-width="2.2" />
<line x1="902.68" y1="434.30" x2="902.68" y2="425.80" stroke="#000" stroke-width="2.2" />
<text x="902.68" y="463.00" font-size="26" text-anchor="middle" fill="#000" >-4</text>
<line x1="946.61" y1="434.30" x2="946.61" y2="428.50" stroke="#000" stroke-width="2.2" />
<line x1="990.54" y1="434.30" x2="990.54" y2="425.80" stroke="#000" stroke-width="2.2" />
<text x="990.54" y="463.00" font-size="26" text-anchor="middle" fill="#000" >-2</text>
<line x1="1034.47" y1="434.30" x2="1034.47" y2="428.50" stroke="#000" stroke-width="2.2" />
<line x1="1078.40" y1="434.30" x2="1078.40" y2="425.80" stroke="#000" stroke-width="2.2" />
<text x="1078.40" y="463.00" font-size="26" text-anchor="middle" fill="#000" >0</text>
<line x1="1122.33" y1="434.30" x2="1122.33" y2="428.50" stroke="#000" stroke-width="2.2" />
<line x1="1166.26" y1="434.30" x2="1166.26" y2="425.80" stroke="#000" stroke-width="2.2" />
<text x="1166.26" y="463.00" font-size="26" text-anchor="middle" fill="#000" >2</text>
<line x1="1210.19" y1="434.30" x2="1210.19" y2="428.50" stroke="#000" stroke-width="2.2" />
<line x1="1254.12" y1="434.30" x2="1254.12" y2="425.80" stroke="#000" stroke-width="2.2" />
<text x="1254.12" y="463.00" font-size="26" text-anchor="middle" fill="#000" >4</text>
<line x1="1298.05" y1="434.30" x2="1298.05" y2="428.50" stroke="#000" stroke-width="2.2" />
<line x1="1341.98" y1="434.30" x2="1341.98" y2="425.80" stroke="#000" stroke-width="2.2" />
<text x="1341.98" y="463.00" font-size="26" text-anchor="middle" fill="#000" >6</text>
<text x="1082.60" y="491.50" font-size="26" text-anchor="middle" fill="#000" >Voltage (V)</text>
<text x="742.30" y="248.00" font-size="26" text-anchor="middle" fill="#000" transform="rotate(-90 742.3 248)">|Current| (A)</text>
<line x1="995.3" y1="77.0" x2="1039.0" y2="109.2" stroke="#000" stroke-width="3.3"/>
<polygon points="1055.0,121.0 1030.3,111.5 1039.0,109.2 1038.6,100.2" fill="#000"/>
<line x1="1193.0" y1="77.9" x2="1149.4" y2="109.6" stroke="#000" stroke-width="3.3"/>
<polygon points="1133.3,121.3 1149.8,100.6 1149.4,109.6 1158.0,112.0" fill="#000"/>
<line x1="989.8" y1="289.9" x2="961.8" y2="244.5" stroke="#000" stroke-width="3.3"/>
<polygon points="951.4,227.6 970.7,245.6 961.8,244.5 958.8,253.0" fill="#000"/>
<line x1="1164.1" y1="273.3" x2="1193.5" y2="229.1" stroke="#000" stroke-width="3.3"/>
<polygon points="1204.5,212.5 1196.2,237.6 1193.5,229.1 1184.6,229.9" fill="#000"/>
<defs><pattern id="hatchHR" patternUnits="userSpaceOnUse" width="5.24" height="5.24" patternTransform="rotate(-45)"><rect width="5.24" height="5.24" fill="#B898C9"/><rect x="0" y="0" width="1.15" height="5.24" fill="#000"/></pattern><pattern id="hatchLR" patternUnits="userSpaceOnUse" width="5.24" height="5.24" patternTransform="rotate(45)"><rect width="5.24" height="5.24" fill="#F7D777"/><rect x="0" y="0" width="1.15" height="5.24" fill="#000"/></pattern></defs>
<rect x="154.62" y="588.40" width="28.4" height="102.10" fill="url(#hatchHR)" stroke="#000" stroke-width="1.2"/>
<rect x="154.62" y="858.20" width="28.4" height="141.00" fill="url(#hatchLR)" stroke="#000" stroke-width="1.2"/>
<rect x="201.04" y="588.40" width="28.4" height="97.60" fill="url(#hatchHR)" stroke="#000" stroke-width="1.2"/>
<rect x="201.04" y="860.70" width="28.4" height="138.50" fill="url(#hatchLR)" stroke="#000" stroke-width="1.2"/>
<rect x="247.46" y="588.40" width="28.4" height="123.90" fill="url(#hatchHR)" stroke="#000" stroke-width="1.2"/>
<rect x="247.46" y="851.00" width="28.4" height="148.20" fill="url(#hatchLR)" stroke="#000" stroke-width="1.2"/>
<rect x="293.88" y="588.40" width="28.4" height="124.10" fill="url(#hatchHR)" stroke="#000" stroke-width="1.2"/>
<rect x="293.88" y="847.50" width="28.4" height="151.70" fill="url(#hatchLR)" stroke="#000" stroke-width="1.2"/>
<rect x="340.30" y="588.40" width="28.4" height="114.10" fill="url(#hatchHR)" stroke="#000" stroke-width="1.2"/>
<rect x="340.30" y="835.50" width="28.4" height="163.70" fill="url(#hatchLR)" stroke="#000" stroke-width="1.2"/>
<rect x="386.72" y="588.40" width="28.4" height="105.60" fill="url(#hatchHR)" stroke="#000" stroke-width="1.2"/>
<rect x="386.72" y="840.50" width="28.4" height="158.70" fill="url(#hatchLR)" stroke="#000" stroke-width="1.2"/>
<rect x="433.14" y="588.40" width="28.4" height="110.60" fill="url(#hatchHR)" stroke="#000" stroke-width="1.2"/>
<rect x="433.14" y="856.50" width="28.4" height="142.70" fill="url(#hatchLR)" stroke="#000" stroke-width="1.2"/>
<rect x="479.56" y="588.40" width="28.4" height="117.10" fill="url(#hatchHR)" stroke="#000" stroke-width="1.2"/>
<rect x="479.56" y="843.50" width="28.4" height="155.70" fill="url(#hatchLR)" stroke="#000" stroke-width="1.2"/>
<rect x="525.98" y="588.40" width="28.4" height="131.10" fill="url(#hatchHR)" stroke="#000" stroke-width="1.2"/>
<rect x="525.98" y="841.50" width="28.4" height="157.70" fill="url(#hatchLR)" stroke="#000" stroke-width="1.2"/>
<rect x="572.40" y="588.40" width="28.4" height="107.90" fill="url(#hatchHR)" stroke="#000" stroke-width="1.2"/>
<rect x="572.40" y="849.50" width="28.4" height="149.70" fill="url(#hatchLR)" stroke="#000" stroke-width="1.2"/>
<rect x="157.5" y="709.5" width="42" height="20" fill="url(#hatchHR)" stroke="#000" stroke-width="1.3"/>
<rect x="157.5" y="735.5" width="42" height="20" fill="url(#hatchLR)" stroke="#000" stroke-width="1.3"/>
<text x="210.50" y="727.00" font-size="21.5" text-anchor="start" fill="#000" >HR</text>
<text x="210.50" y="753.00" font-size="21.5" text-anchor="start" fill="#000" >LR</text>
<polyline points="169.0,775.0 215.1,765.9 261.0,813.0 308.0,818.5 354.0,821.5 400.5,804.0 447.0,788.5 493.6,815.0 540.0,836.2 586.3,794.7" fill="none" stroke="#0A6EBD" stroke-width="1.2"/>
<rect x="163.0" y="769.0" width="12" height="12" fill="#0A6EBD"/>
<rect x="209.1" y="759.9" width="12" height="12" fill="#0A6EBD"/>
<rect x="255.0" y="807.0" width="12" height="12" fill="#0A6EBD"/>
<rect x="302.0" y="812.5" width="12" height="12" fill="#0A6EBD"/>
<rect x="348.0" y="815.5" width="12" height="12" fill="#0A6EBD"/>
<rect x="394.5" y="798.0" width="12" height="12" fill="#0A6EBD"/>
<rect x="441.0" y="782.5" width="12" height="12" fill="#0A6EBD"/>
<rect x="487.6" y="809.0" width="12" height="12" fill="#0A6EBD"/>
<rect x="534.0" y="830.2" width="12" height="12" fill="#0A6EBD"/>
<rect x="580.3" y="788.7" width="12" height="12" fill="#0A6EBD"/>
<line x1="422.00" y1="754.20" x2="465.00" y2="754.20" stroke="#0A6EBD" stroke-width="1.2" />
<rect x="437" y="748.4" width="12" height="12" fill="#0A6EBD"/>
<text x="475.50" y="762.10" font-size="21.3" text-anchor="start" fill="#0A6EBD" >ON/OFF ratio</text>
<line x1="122.40" y1="588.40" x2="623.00" y2="588.40" stroke="#000" stroke-width="3.0" />
<line x1="120.90" y1="999.20" x2="633.00" y2="999.20" stroke="#000" stroke-width="3.0" />
<line x1="122.40" y1="586.90" x2="122.40" y2="1000.70" stroke="#000" stroke-width="3.0" />
<line x1="633.00" y1="586.90" x2="633.00" y2="1000.70" stroke="#0A6EBD" stroke-width="3.8" />
<line x1="623.00" y1="588.40" x2="633.00" y2="588.40" stroke="#0A6EBD" stroke-width="3.0" />
<line x1="122.40" y1="999.20" x2="130.90" y2="999.20" stroke="#000" stroke-width="2.2" />
<text x="113.5" y="1009.00" font-size="25" text-anchor="end">10<tspan dy="-10.4" font-size="16.8">6</tspan></text>
<line x1="122.40" y1="968.28" x2="127.10" y2="968.28" stroke="#000" stroke-width="2.0" />
<line x1="122.40" y1="950.20" x2="127.10" y2="950.20" stroke="#000" stroke-width="2.0" />
<line x1="122.40" y1="937.37" x2="127.10" y2="937.37" stroke="#000" stroke-width="2.0" />
<line x1="122.40" y1="927.42" x2="127.10" y2="927.42" stroke="#000" stroke-width="2.0" />
<line x1="122.40" y1="919.28" x2="127.10" y2="919.28" stroke="#000" stroke-width="2.0" />
<line x1="122.40" y1="912.41" x2="127.10" y2="912.41" stroke="#000" stroke-width="2.0" />
<line x1="122.40" y1="906.45" x2="127.10" y2="906.45" stroke="#000" stroke-width="2.0" />
<line x1="122.40" y1="901.20" x2="127.10" y2="901.20" stroke="#000" stroke-width="2.0" />
<line x1="122.40" y1="896.50" x2="130.90" y2="896.50" stroke="#000" stroke-width="2.2" />
<text x="113.5" y="906.30" font-size="25" text-anchor="end">10<tspan dy="-10.4" font-size="16.8">7</tspan></text>
<line x1="122.40" y1="865.58" x2="127.10" y2="865.58" stroke="#000" stroke-width="2.0" />
<line x1="122.40" y1="847.50" x2="127.10" y2="847.50" stroke="#000" stroke-width="2.0" />
<line x1="122.40" y1="834.67" x2="127.10" y2="834.67" stroke="#000" stroke-width="2.0" />
<line x1="122.40" y1="824.72" x2="127.10" y2="824.72" stroke="#000" stroke-width="2.0" />
<line x1="122.40" y1="816.58" x2="127.10" y2="816.58" stroke="#000" stroke-width="2.0" />
<line x1="122.40" y1="809.71" x2="127.10" y2="809.71" stroke="#000" stroke-width="2.0" />
<line x1="122.40" y1="803.75" x2="127.10" y2="803.75" stroke="#000" stroke-width="2.0" />
<line x1="122.40" y1="798.50" x2="127.10" y2="798.50" stroke="#000" stroke-width="2.0" />
<line x1="122.40" y1="793.80" x2="130.90" y2="793.80" stroke="#000" stroke-width="2.2" />
<text x="113.5" y="803.60" font-size="25" text-anchor="end">10<tspan dy="-10.4" font-size="16.8">8</tspan></text>
<line x1="122.40" y1="762.88" x2="127.10" y2="762.88" stroke="#000" stroke-width="2.0" />
<line x1="122.40" y1="744.80" x2="127.10" y2="744.80" stroke="#000" stroke-width="2.0" />
<line x1="122.40" y1="731.97" x2="127.10" y2="731.97" stroke="#000" stroke-width="2.0" />
<line x1="122.40" y1="722.02" x2="127.10" y2="722.02" stroke="#000" stroke-width="2.0" />
<line x1="122.40" y1="713.88" x2="127.10" y2="713.88" stroke="#000" stroke-width="2.0" />
<line x1="122.40" y1="707.01" x2="127.10" y2="707.01" stroke="#000" stroke-width="2.0" />
<line x1="122.40" y1="701.05" x2="127.10" y2="701.05" stroke="#000" stroke-width="2.0" />
<line x1="122.40" y1="695.80" x2="127.10" y2="695.80" stroke="#000" stroke-width="2.0" />
<line x1="122.40" y1="691.10" x2="130.90" y2="691.10" stroke="#000" stroke-width="2.2" />
<text x="113.5" y="700.90" font-size="25" text-anchor="end">10<tspan dy="-10.4" font-size="16.8">9</tspan></text>
<line x1="122.40" y1="660.18" x2="127.10" y2="660.18" stroke="#000" stroke-width="2.0" />
<line x1="122.40" y1="642.10" x2="127.10" y2="642.10" stroke="#000" stroke-width="2.0" />
<line x1="122.40" y1="629.27" x2="127.10" y2="629.27" stroke="#000" stroke-width="2.0" />
<line x1="122.40" y1="619.32" x2="127.10" y2="619.32" stroke="#000" stroke-width="2.0" />
<line x1="122.40" y1="611.18" x2="127.10" y2="611.18" stroke="#000" stroke-width="2.0" />
<line x1="122.40" y1="604.31" x2="127.10" y2="604.31" stroke="#000" stroke-width="2.0" />
<line x1="122.40" y1="598.35" x2="127.10" y2="598.35" stroke="#000" stroke-width="2.0" />
<line x1="122.40" y1="593.10" x2="127.10" y2="593.10" stroke="#000" stroke-width="2.0" />
<line x1="122.40" y1="588.40" x2="130.90" y2="588.40" stroke="#000" stroke-width="2.2" />
<text x="113.5" y="598.20" font-size="25" text-anchor="end">10<tspan dy="-10.4" font-size="16.8">10</tspan></text>
<line x1="633.00" y1="999.20" x2="624.10" y2="999.20" stroke="#0A6EBD" stroke-width="2.4" />
<text x="642.5" y="1009.00" font-size="25" fill="#0A6EBD">10<tspan dy="-10.4" font-size="16.8">0</tspan></text>
<line x1="633.00" y1="957.98" x2="626.70" y2="957.98" stroke="#0A6EBD" stroke-width="2.2" />
<line x1="633.00" y1="933.87" x2="626.70" y2="933.87" stroke="#0A6EBD" stroke-width="2.2" />
<line x1="633.00" y1="916.76" x2="626.70" y2="916.76" stroke="#0A6EBD" stroke-width="2.2" />
<line x1="633.00" y1="903.49" x2="626.70" y2="903.49" stroke="#0A6EBD" stroke-width="2.2" />
<line x1="633.00" y1="892.65" x2="626.70" y2="892.65" stroke="#0A6EBD" stroke-width="2.2" />
<line x1="633.00" y1="883.48" x2="626.70" y2="883.48" stroke="#0A6EBD" stroke-width="2.2" />
<line x1="633.00" y1="875.54" x2="626.70" y2="875.54" stroke="#0A6EBD" stroke-width="2.2" />
<line x1="633.00" y1="868.54" x2="626.70" y2="868.54" stroke="#0A6EBD" stroke-width="2.2" />
<line x1="633.00" y1="862.27" x2="624.10" y2="862.27" stroke="#0A6EBD" stroke-width="2.4" />
<text x="642.5" y="872.07" font-size="25" fill="#0A6EBD">10<tspan dy="-10.4" font-size="16.8">1</tspan></text>
<line x1="633.00" y1="821.05" x2="626.70" y2="821.05" stroke="#0A6EBD" stroke-width="2.2" />
<line x1="633.00" y1="796.94" x2="626.70" y2="796.94" stroke="#0A6EBD" stroke-width="2.2" />
<line x1="633.00" y1="779.83" x2="626.70" y2="779.83" stroke="#0A6EBD" stroke-width="2.2" />
<line x1="633.00" y1="766.56" x2="626.70" y2="766.56" stroke="#0A6EBD" stroke-width="2.2" />
<line x1="633.00" y1="755.72" x2="626.70" y2="755.72" stroke="#0A6EBD" stroke-width="2.2" />
<line x1="633.00" y1="746.55" x2="626.70" y2="746.55" stroke="#0A6EBD" stroke-width="2.2" />
<line x1="633.00" y1="738.61" x2="626.70" y2="738.61" stroke="#0A6EBD" stroke-width="2.2" />
<line x1="633.00" y1="731.61" x2="626.70" y2="731.61" stroke="#0A6EBD" stroke-width="2.2" />
<line x1="633.00" y1="725.34" x2="624.10" y2="725.34" stroke="#0A6EBD" stroke-width="2.4" />
<text x="642.5" y="735.14" font-size="25" fill="#0A6EBD">10<tspan dy="-10.4" font-size="16.8">2</tspan></text>
<line x1="633.00" y1="684.12" x2="626.70" y2="684.12" stroke="#0A6EBD" stroke-width="2.2" />
<line x1="633.00" y1="660.01" x2="626.70" y2="660.01" stroke="#0A6EBD" stroke-width="2.2" />
<line x1="633.00" y1="642.90" x2="626.70" y2="642.90" stroke="#0A6EBD" stroke-width="2.2" />
<line x1="633.00" y1="629.63" x2="626.70" y2="629.63" stroke="#0A6EBD" stroke-width="2.2" />
<line x1="633.00" y1="618.79" x2="626.70" y2="618.79" stroke="#0A6EBD" stroke-width="2.2" />
<line x1="633.00" y1="609.62" x2="626.70" y2="609.62" stroke="#0A6EBD" stroke-width="2.2" />
<line x1="633.00" y1="601.68" x2="626.70" y2="601.68" stroke="#0A6EBD" stroke-width="2.2" />
<line x1="633.00" y1="594.68" x2="626.70" y2="594.68" stroke="#0A6EBD" stroke-width="2.2" />
<line x1="633.00" y1="588.41" x2="624.10" y2="588.41" stroke="#0A6EBD" stroke-width="2.4" />
<text x="642.5" y="598.21" font-size="25" fill="#0A6EBD">10<tspan dy="-10.4" font-size="16.8">3</tspan></text>
<line x1="168.82" y1="999.20" x2="168.82" y2="991.70" stroke="#000" stroke-width="2.4" />
<text x="168.82" y="1028.00" font-size="25.5" text-anchor="middle" fill="#000" >1</text>
<line x1="215.24" y1="999.20" x2="215.24" y2="991.70" stroke="#000" stroke-width="2.4" />
<text x="215.24" y="1028.00" font-size="25.5" text-anchor="middle" fill="#000" >2</text>
<line x1="261.66" y1="999.20" x2="261.66" y2="991.70" stroke="#000" stroke-width="2.4" />
<text x="261.66" y="1028.00" font-size="25.5" text-anchor="middle" fill="#000" >3</text>
<line x1="308.08" y1="999.20" x2="308.08" y2="991.70" stroke="#000" stroke-width="2.4" />
<text x="308.08" y="1028.00" font-size="25.5" text-anchor="middle" fill="#000" >4</text>
<line x1="354.50" y1="999.20" x2="354.50" y2="991.70" stroke="#000" stroke-width="2.4" />
<text x="354.50" y="1028.00" font-size="25.5" text-anchor="middle" fill="#000" >5</text>
<line x1="400.92" y1="999.20" x2="400.92" y2="991.70" stroke="#000" stroke-width="2.4" />
<text x="400.92" y="1028.00" font-size="25.5" text-anchor="middle" fill="#000" >6</text>
<line x1="447.34" y1="999.20" x2="447.34" y2="991.70" stroke="#000" stroke-width="2.4" />
<text x="447.34" y="1028.00" font-size="25.5" text-anchor="middle" fill="#000" >7</text>
<line x1="493.76" y1="999.20" x2="493.76" y2="991.70" stroke="#000" stroke-width="2.4" />
<text x="493.76" y="1028.00" font-size="25.5" text-anchor="middle" fill="#000" >8</text>
<line x1="540.18" y1="999.20" x2="540.18" y2="991.70" stroke="#000" stroke-width="2.4" />
<text x="540.18" y="1028.00" font-size="25.5" text-anchor="middle" fill="#000" >9</text>
<line x1="586.60" y1="999.20" x2="586.60" y2="991.70" stroke="#000" stroke-width="2.4" />
<text x="586.60" y="1028.00" font-size="25.5" text-anchor="middle" fill="#000" >10</text>
<text x="379.20" y="1067.80" font-size="26" text-anchor="middle" fill="#000" >Cycle</text>
<text x="63.00" y="788.00" font-size="26.4" text-anchor="middle" fill="#000" transform="rotate(-90 63.0 788)">Resistance (Ω)</text>
<text x="706.50" y="793.50" font-size="24.6" text-anchor="middle" fill="#0A6EBD" transform="rotate(-90 706.5 793.5)">ON/OFF ratio</text>
<rect x="848.65" y="667.16" width="38.2" height="126.84" fill="#BFAED3" stroke="#000" stroke-width="1.3"/>
<rect x="848.65" y="794.00" width="38.2" height="143.92" fill="#F5C494" stroke="#000" stroke-width="1.3"/>
<rect x="895.90" y="657.92" width="38.2" height="136.08" fill="#BFAED3" stroke="#000" stroke-width="1.3"/>
<rect x="895.90" y="794.00" width="38.2" height="119.00" fill="#F5C494" stroke="#000" stroke-width="1.3"/>
<rect x="943.15" y="652.60" width="38.2" height="141.40" fill="#BFAED3" stroke="#000" stroke-width="1.3"/>
<rect x="943.15" y="794.00" width="38.2" height="136.92" fill="#F5C494" stroke="#000" stroke-width="1.3"/>
<rect x="990.40" y="657.08" width="38.2" height="136.92" fill="#BFAED3" stroke="#000" stroke-width="1.3"/>
<rect x="990.40" y="794.00" width="38.2" height="154.00" fill="#F5C494" stroke="#000" stroke-width="1.3"/>
<rect x="1037.65" y="665.20" width="38.2" height="128.80" fill="#BFAED3" stroke="#000" stroke-width="1.3"/>
<rect x="1037.65" y="794.00" width="38.2" height="148.96" fill="#F5C494" stroke="#000" stroke-width="1.3"/>
<rect x="1084.90" y="667.44" width="38.2" height="126.56" fill="#BFAED3" stroke="#000" stroke-width="1.3"/>
<rect x="1084.90" y="794.00" width="38.2" height="119.84" fill="#F5C494" stroke="#000" stroke-width="1.3"/>
<rect x="1132.15" y="657.64" width="38.2" height="136.36" fill="#BFAED3" stroke="#000" stroke-width="1.3"/>
<rect x="1132.15" y="794.00" width="38.2" height="139.44" fill="#F5C494" stroke="#000" stroke-width="1.3"/>
<rect x="1179.40" y="651.48" width="38.2" height="142.52" fill="#BFAED3" stroke="#000" stroke-width="1.3"/>
<rect x="1179.40" y="794.00" width="38.2" height="127.96" fill="#F5C494" stroke="#000" stroke-width="1.3"/>
<rect x="1226.65" y="651.48" width="38.2" height="142.52" fill="#BFAED3" stroke="#000" stroke-width="1.3"/>
<rect x="1226.65" y="794.00" width="38.2" height="147.56" fill="#F5C494" stroke="#000" stroke-width="1.3"/>
<rect x="1273.90" y="657.92" width="38.2" height="136.08" fill="#BFAED3" stroke="#000" stroke-width="1.3"/>
<rect x="1273.90" y="794.00" width="38.2" height="139.44" fill="#F5C494" stroke="#000" stroke-width="1.3"/>
<line x1="866.30" y1="659.00" x2="1292.50" y2="659.00" stroke="#3A72C4" stroke-width="2.9" stroke-dasharray="7.5 4.2"/>
<line x1="866.30" y1="931.20" x2="1292.50" y2="931.20" stroke="#E0403F" stroke-width="2.9" stroke-dasharray="7.5 4.2"/>
<rect x="821.0" y="585.2" width="519.8" height="419.0999999999999" fill="none" stroke="#000" stroke-width="3.1"/>
<line x1="821.00" y1="990.00" x2="825.00" y2="990.00" stroke="#000" stroke-width="3.0" />
<line x1="821.00" y1="962.00" x2="828.80" y2="962.00" stroke="#000" stroke-width="3.0" />
<text x="811.50" y="971.00" font-size="26" text-anchor="end" fill="#000" >-6</text>
<line x1="821.00" y1="934.00" x2="825.00" y2="934.00" stroke="#000" stroke-width="3.0" />
<line x1="821.00" y1="906.00" x2="828.80" y2="906.00" stroke="#000" stroke-width="3.0" />
<text x="811.50" y="915.00" font-size="26" text-anchor="end" fill="#000" >-4</text>
<line x1="821.00" y1="878.00" x2="825.00" y2="878.00" stroke="#000" stroke-width="3.0" />
<line x1="821.00" y1="850.00" x2="828.80" y2="850.00" stroke="#000" stroke-width="3.0" />
<text x="811.50" y="859.00" font-size="26" text-anchor="end" fill="#000" >-2</text>
<line x1="821.00" y1="822.00" x2="825.00" y2="822.00" stroke="#000" stroke-width="3.0" />
<line x1="821.00" y1="794.00" x2="828.80" y2="794.00" stroke="#000" stroke-width="3.0" />
<text x="811.50" y="803.00" font-size="26" text-anchor="end" fill="#000" >0</text>
<line x1="821.00" y1="766.00" x2="825.00" y2="766.00" stroke="#000" stroke-width="3.0" />
<line x1="821.00" y1="738.00" x2="828.80" y2="738.00" stroke="#000" stroke-width="3.0" />
<text x="811.50" y="747.00" font-size="26" text-anchor="end" fill="#000" >2</text>
<line x1="821.00" y1="710.00" x2="825.00" y2="710.00" stroke="#000" stroke-width="3.0" />
<line x1="821.00" y1="682.00" x2="828.80" y2="682.00" stroke="#000" stroke-width="3.0" />
<text x="811.50" y="691.00" font-size="26" text-anchor="end" fill="#000" >4</text>
<line x1="821.00" y1="654.00" x2="825.00" y2="654.00" stroke="#000" stroke-width="3.0" />
<line x1="821.00" y1="626.00" x2="828.80" y2="626.00" stroke="#000" stroke-width="3.0" />
<text x="811.50" y="635.00" font-size="26" text-anchor="end" fill="#000" >6</text>
<line x1="821.00" y1="598.00" x2="825.00" y2="598.00" stroke="#000" stroke-width="3.0" />
<line x1="867.75" y1="1004.30" x2="867.75" y2="995.80" stroke="#000" stroke-width="3.2" />
<text x="867.75" y="1033.50" font-size="26" text-anchor="middle" fill="#000" >1</text>
<line x1="915.00" y1="1004.30" x2="915.00" y2="995.80" stroke="#000" stroke-width="3.2" />
<text x="915.00" y="1033.50" font-size="26" text-anchor="middle" fill="#000" >2</text>
<line x1="962.25" y1="1004.30" x2="962.25" y2="995.80" stroke="#000" stroke-width="3.2" />
<text x="962.25" y="1033.50" font-size="26" text-anchor="middle" fill="#000" >3</text>
<line x1="1009.50" y1="1004.30" x2="1009.50" y2="995.80" stroke="#000" stroke-width="3.2" />
<text x="1009.50" y="1033.50" font-size="26" text-anchor="middle" fill="#000" >4</text>
<line x1="1056.75" y1="1004.30" x2="1056.75" y2="995.80" stroke="#000" stroke-width="3.2" />
<text x="1056.75" y="1033.50" font-size="26" text-anchor="middle" fill="#000" >5</text>
<line x1="1104.00" y1="1004.30" x2="1104.00" y2="995.80" stroke="#000" stroke-width="3.2" />
<text x="1104.00" y="1033.50" font-size="26" text-anchor="middle" fill="#000" >6</text>
<line x1="1151.25" y1="1004.30" x2="1151.25" y2="995.80" stroke="#000" stroke-width="3.2" />
<text x="1151.25" y="1033.50" font-size="26" text-anchor="middle" fill="#000" >7</text>
<line x1="1198.50" y1="1004.30" x2="1198.50" y2="995.80" stroke="#000" stroke-width="3.2" />
<text x="1198.50" y="1033.50" font-size="26" text-anchor="middle" fill="#000" >8</text>
<line x1="1245.75" y1="1004.30" x2="1245.75" y2="995.80" stroke="#000" stroke-width="3.2" />
<text x="1245.75" y="1033.50" font-size="26" text-anchor="middle" fill="#000" >9</text>
<line x1="1293.00" y1="1004.30" x2="1293.00" y2="995.80" stroke="#000" stroke-width="3.2" />
<text x="1293.00" y="1033.50" font-size="26" text-anchor="middle" fill="#000" >10</text>
<text x="1081.80" y="1074.70" font-size="26" text-anchor="middle" fill="#000" >Cycle</text>
<text x="778.30" y="795.00" font-size="25.7" text-anchor="middle" fill="#000" transform="rotate(-90 778.3 795)">Switching Voltage (V)</text>
<rect x="1052.5" y="592.5" width="41.8" height="20.5" fill="#BFAED3" stroke="#000" stroke-width="1.3"/>
<rect x="1052.5" y="623.6" width="41.8" height="20.5" fill="#F5C494" stroke="#000" stroke-width="1.3"/>
<text x="1105.30" y="610.40" font-size="23" text-anchor="start" fill="#000" ><tspan font-style="italic">V</tspan></text>
<text x="1120.00" y="616.40" font-size="15.2" text-anchor="start" fill="#000" letter-spacing="-0.25">positive</text>
<text x="1105.30" y="641.30" font-size="23" text-anchor="start" fill="#000" ><tspan font-style="italic">V</tspan></text>
<text x="1120.00" y="647.20" font-size="15.2" text-anchor="start" fill="#000" letter-spacing="-0.1">negative</text>
<line x1="1206.70" y1="604.60" x2="1249.00" y2="604.60" stroke="#3A72C4" stroke-width="2.9" stroke-dasharray="7.9 3.4"/>
<line x1="1206.70" y1="631.00" x2="1249.00" y2="631.00" stroke="#E0403F" stroke-width="2.9" stroke-dasharray="7.9 3.4"/>
<text x="1261.00" y="612.80" font-size="21.0" text-anchor="start" fill="#000" >4.8V</text>
<text x="1261.50" y="638.80" font-size="21.0" text-anchor="start" fill="#000" >-4.9V</text>
</svg>
</body></html>
